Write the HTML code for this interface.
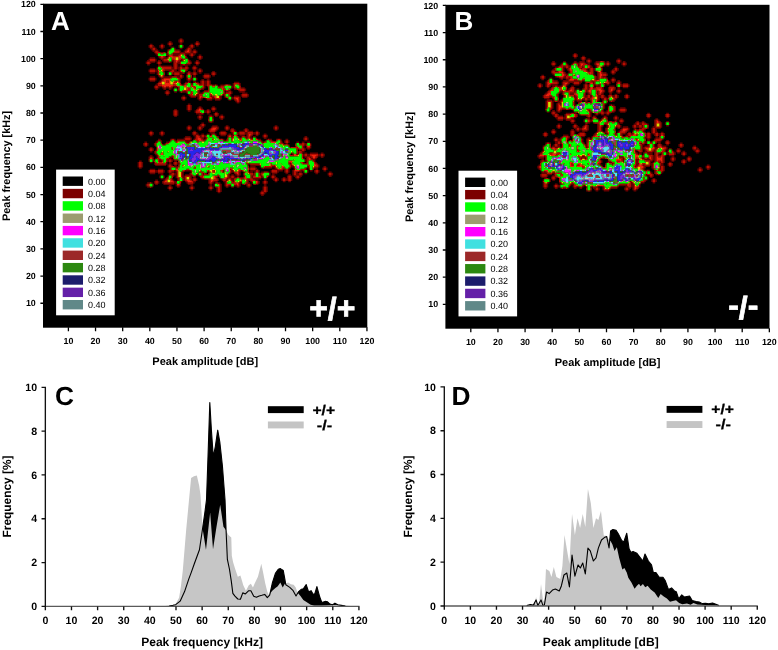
<!DOCTYPE html>
<html><head><meta charset="utf-8"><title>Figure</title>
<style>html,body{margin:0;padding:0;background:#fff}svg{display:block;will-change:transform;text-rendering:geometricPrecision}text{font-family:"Liberation Sans",sans-serif}</style></head><body>
<svg width="778" height="650" viewBox="0 0 778 650">
<defs><filter id="bl" x="-2%" y="-2%" width="104%" height="104%"><feGaussianBlur stdDeviation="0.7"/></filter></defs>
<rect width="778" height="650" fill="#fff"/>
<g>
<rect x="43.0" y="3.7" width="324.30" height="324.00" fill="#000"/>
<g filter="url(#bl)">
<path fill="#640000" d="M261.1 194.5h2.7v1.4h-2.7zM259.7 193.2h1.4v1.4h-1.4zM263.8 193.2h1.4v1.4h-1.4zM217.7 191.8h2.7v1.4h-2.7zM259.7 191.8h1.4v1.4h-1.4zM263.8 191.8h2.7v1.4h-2.7zM216.3 190.5h1.4v1.4h-1.4zM220.4 190.5h1.4v1.4h-1.4zM261.1 190.5h2.7v1.4h-2.7zM266.5 190.5h1.4v1.4h-1.4zM168.8 189.1h2.7v1.4h-2.7zM190.5 189.1h2.7v1.4h-2.7zM209.5 189.1h2.7v1.4h-2.7zM216.3 189.1h1.4v1.4h-1.4zM220.4 189.1h1.4v1.4h-1.4zM262.5 189.1h1.4v1.4h-1.4zM266.5 189.1h1.4v1.4h-1.4zM167.5 187.7h1.4v1.4h-1.4zM171.5 187.7h1.4v1.4h-1.4zM189.2 187.7h1.4v1.4h-1.4zM193.2 187.7h1.4v1.4h-1.4zM208.2 187.7h1.4v1.4h-1.4zM212.2 187.7h1.4v1.4h-1.4zM216.3 187.7h1.4v1.4h-1.4zM220.4 187.7h1.4v1.4h-1.4zM262.5 187.7h1.4v1.4h-1.4zM266.5 187.7h1.4v1.4h-1.4zM147.1 186.4h2.7v1.4h-2.7zM151.2 186.4h1.4v1.4h-1.4zM167.5 186.4h1.4v1.4h-1.4zM171.5 186.4h1.4v1.4h-1.4zM177.0 186.4h2.7v1.4h-2.7zM189.2 186.4h1.4v1.4h-1.4zM193.2 186.4h1.4v1.4h-1.4zM208.2 186.4h1.4v1.4h-1.4zM212.2 186.4h1.4v1.4h-1.4zM215.0 186.4h1.4v1.4h-1.4zM220.4 186.4h1.4v1.4h-1.4zM225.8 186.4h2.7v1.4h-2.7zM231.2 186.4h2.7v1.4h-2.7zM236.7 186.4h2.7v1.4h-2.7zM247.5 186.4h2.7v1.4h-2.7zM262.5 186.4h1.4v1.4h-1.4zM266.5 186.4h1.4v1.4h-1.4zM145.7 185.0h1.4v1.4h-1.4zM152.5 185.0h1.4v1.4h-1.4zM168.8 185.0h2.7v1.4h-2.7zM175.6 185.0h1.4v1.4h-1.4zM179.7 185.0h1.4v1.4h-1.4zM190.5 185.0h2.7v1.4h-2.7zM209.5 185.0h2.7v1.4h-2.7zM213.6 185.0h1.4v1.4h-1.4zM220.4 185.0h1.4v1.4h-1.4zM224.5 185.0h1.4v1.4h-1.4zM228.5 185.0h2.7v1.4h-2.7zM234.0 185.0h2.7v1.4h-2.7zM239.4 185.0h1.4v1.4h-1.4zM246.2 185.0h1.4v1.4h-1.4zM250.2 185.0h1.4v1.4h-1.4zM263.8 185.0h2.7v1.4h-2.7zM145.7 183.7h1.4v1.4h-1.4zM152.5 183.7h1.4v1.4h-1.4zM155.2 183.7h2.7v1.4h-2.7zM163.4 183.7h10.9v1.4h-10.9zM175.6 183.7h1.4v1.4h-1.4zM179.7 183.7h1.4v1.4h-1.4zM187.8 183.7h5.4v1.4h-5.4zM209.5 183.7h2.7v1.4h-2.7zM213.6 183.7h1.4v1.4h-1.4zM220.4 183.7h1.4v1.4h-1.4zM224.5 183.7h1.4v1.4h-1.4zM239.4 183.7h1.4v1.4h-1.4zM242.1 183.7h1.4v1.4h-1.4zM244.8 183.7h2.7v1.4h-2.7zM250.2 183.7h1.4v1.4h-1.4zM253.0 183.7h1.4v1.4h-1.4zM255.7 183.7h2.7v1.4h-2.7zM263.8 183.7h2.7v1.4h-2.7zM147.1 182.3h2.7v1.4h-2.7zM151.2 182.3h1.4v1.4h-1.4zM153.9 182.3h1.4v1.4h-1.4zM158.0 182.3h1.4v1.4h-1.4zM162.0 182.3h1.4v1.4h-1.4zM174.2 182.3h1.4v1.4h-1.4zM186.5 182.3h1.4v1.4h-1.4zM193.2 182.3h1.4v1.4h-1.4zM208.2 182.3h1.4v1.4h-1.4zM212.2 182.3h1.4v1.4h-1.4zM215.0 182.3h1.4v1.4h-1.4zM217.7 182.3h2.7v1.4h-2.7zM224.5 182.3h1.4v1.4h-1.4zM239.4 182.3h2.7v1.4h-2.7zM247.5 182.3h2.7v1.4h-2.7zM251.6 182.3h1.4v1.4h-1.4zM258.4 182.3h1.4v1.4h-1.4zM262.5 182.3h1.4v1.4h-1.4zM266.5 182.3h1.4v1.4h-1.4zM153.9 180.9h1.4v1.4h-1.4zM158.0 180.9h1.4v1.4h-1.4zM162.0 180.9h1.4v1.4h-1.4zM174.2 180.9h2.7v1.4h-2.7zM181.0 180.9h1.4v1.4h-1.4zM185.1 180.9h1.4v1.4h-1.4zM193.2 180.9h2.7v1.4h-2.7zM208.2 180.9h1.4v1.4h-1.4zM213.6 180.9h4.1v1.4h-4.1zM223.1 180.9h2.7v1.4h-2.7zM232.6 180.9h1.4v1.4h-1.4zM247.5 180.9h1.4v1.4h-1.4zM250.2 180.9h1.4v1.4h-1.4zM258.4 180.9h1.4v1.4h-1.4zM262.5 180.9h1.4v1.4h-1.4zM266.5 180.9h1.4v1.4h-1.4zM274.7 180.9h2.7v1.4h-2.7zM282.8 180.9h2.7v1.4h-2.7zM288.2 180.9h2.7v1.4h-2.7zM155.2 179.6h2.7v1.4h-2.7zM163.4 179.6h1.4v1.4h-1.4zM172.9 179.6h1.4v1.4h-1.4zM177.0 179.6h1.4v1.4h-1.4zM182.4 179.6h2.7v1.4h-2.7zM191.9 179.6h1.4v1.4h-1.4zM196.0 179.6h1.4v1.4h-1.4zM208.2 179.6h1.4v1.4h-1.4zM217.7 179.6h1.4v1.4h-1.4zM221.7 179.6h1.4v1.4h-1.4zM225.8 179.6h1.4v1.4h-1.4zM231.2 179.6h2.7v1.4h-2.7zM247.5 179.6h2.7v1.4h-2.7zM255.7 179.6h2.7v1.4h-2.7zM263.8 179.6h2.7v1.4h-2.7zM273.3 179.6h1.4v1.4h-1.4zM277.4 179.6h1.4v1.4h-1.4zM281.4 179.6h1.4v1.4h-1.4zM285.5 179.6h2.7v1.4h-2.7zM290.9 179.6h1.4v1.4h-1.4zM160.7 178.2h2.7v1.4h-2.7zM164.7 178.2h1.4v1.4h-1.4zM171.5 178.2h1.4v1.4h-1.4zM177.0 178.2h1.4v1.4h-1.4zM183.7 178.2h1.4v1.4h-1.4zM190.5 178.2h2.7v1.4h-2.7zM196.0 178.2h1.4v1.4h-1.4zM201.4 178.2h2.7v1.4h-2.7zM217.7 178.2h1.4v1.4h-1.4zM220.4 178.2h1.4v1.4h-1.4zM227.2 178.2h1.4v1.4h-1.4zM231.2 178.2h2.7v1.4h-2.7zM253.0 178.2h8.1v1.4h-8.1zM263.8 178.2h2.7v1.4h-2.7zM271.9 178.2h2.7v1.4h-2.7zM277.4 178.2h1.4v1.4h-1.4zM281.4 178.2h1.4v1.4h-1.4zM285.5 178.2h2.7v1.4h-2.7zM290.9 178.2h1.4v1.4h-1.4zM296.4 178.2h2.7v1.4h-2.7zM159.3 176.9h1.4v1.4h-1.4zM163.4 176.9h1.4v1.4h-1.4zM166.1 176.9h1.4v1.4h-1.4zM175.6 176.9h1.4v1.4h-1.4zM182.4 176.9h2.7v1.4h-2.7zM190.5 176.9h1.4v1.4h-1.4zM193.2 176.9h2.7v1.4h-2.7zM200.0 176.9h1.4v1.4h-1.4zM216.3 176.9h1.4v1.4h-1.4zM219.0 176.9h1.4v1.4h-1.4zM228.5 176.9h2.7v1.4h-2.7zM234.0 176.9h2.7v1.4h-2.7zM239.4 176.9h4.1v1.4h-4.1zM251.6 176.9h1.4v1.4h-1.4zM261.1 176.9h2.7v1.4h-2.7zM266.5 176.9h1.4v1.4h-1.4zM270.6 176.9h1.4v1.4h-1.4zM274.7 176.9h2.7v1.4h-2.7zM282.8 176.9h2.7v1.4h-2.7zM286.9 176.9h1.4v1.4h-1.4zM290.9 176.9h1.4v1.4h-1.4zM295.0 176.9h1.4v1.4h-1.4zM299.1 176.9h1.4v1.4h-1.4zM159.3 175.5h1.4v1.4h-1.4zM163.4 175.5h1.4v1.4h-1.4zM167.5 175.5h1.4v1.4h-1.4zM172.9 175.5h1.4v1.4h-1.4zM175.6 175.5h1.4v1.4h-1.4zM182.4 175.5h2.7v1.4h-2.7zM190.5 175.5h2.7v1.4h-2.7zM194.6 175.5h1.4v1.4h-1.4zM198.7 175.5h1.4v1.4h-1.4zM217.7 175.5h1.4v1.4h-1.4zM228.5 175.5h2.7v1.4h-2.7zM234.0 175.5h1.4v1.4h-1.4zM236.7 175.5h2.7v1.4h-2.7zM243.5 175.5h1.4v1.4h-1.4zM251.6 175.5h1.4v1.4h-1.4zM261.1 175.5h1.4v1.4h-1.4zM267.9 175.5h1.4v1.4h-1.4zM270.6 175.5h1.4v1.4h-1.4zM274.7 175.5h1.4v1.4h-1.4zM286.9 175.5h1.4v1.4h-1.4zM290.9 175.5h1.4v1.4h-1.4zM293.7 175.5h2.7v1.4h-2.7zM299.1 175.5h2.7v1.4h-2.7zM328.9 175.5h2.7v1.4h-2.7zM160.7 174.2h2.7v1.4h-2.7zM168.8 174.2h1.4v1.4h-1.4zM174.2 174.2h2.7v1.4h-2.7zM182.4 174.2h1.4v1.4h-1.4zM185.1 174.2h5.4v1.4h-5.4zM196.0 174.2h2.7v1.4h-2.7zM202.7 174.2h1.4v1.4h-1.4zM228.5 174.2h1.4v1.4h-1.4zM231.2 174.2h2.7v1.4h-2.7zM235.3 174.2h1.4v1.4h-1.4zM239.4 174.2h1.4v1.4h-1.4zM253.0 174.2h1.4v1.4h-1.4zM259.7 174.2h1.4v1.4h-1.4zM269.2 174.2h1.4v1.4h-1.4zM271.9 174.2h2.7v1.4h-2.7zM288.2 174.2h2.7v1.4h-2.7zM292.3 174.2h1.4v1.4h-1.4zM296.4 174.2h2.7v1.4h-2.7zM301.8 174.2h1.4v1.4h-1.4zM327.6 174.2h1.4v1.4h-1.4zM331.7 174.2h1.4v1.4h-1.4zM149.8 172.8h5.4v1.4h-5.4zM158.0 172.8h5.4v1.4h-5.4zM168.8 172.8h2.7v1.4h-2.7zM174.2 172.8h2.7v1.4h-2.7zM182.4 172.8h1.4v1.4h-1.4zM189.2 172.8h1.4v1.4h-1.4zM202.7 172.8h1.4v1.4h-1.4zM205.5 172.8h1.4v1.4h-1.4zM229.9 172.8h1.4v1.4h-1.4zM234.0 172.8h1.4v1.4h-1.4zM239.4 172.8h1.4v1.4h-1.4zM253.0 172.8h1.4v1.4h-1.4zM259.7 172.8h1.4v1.4h-1.4zM269.2 172.8h1.4v1.4h-1.4zM271.9 172.8h5.4v1.4h-5.4zM285.5 172.8h2.7v1.4h-2.7zM292.3 172.8h1.4v1.4h-1.4zM296.4 172.8h2.7v1.4h-2.7zM301.8 172.8h1.4v1.4h-1.4zM304.5 172.8h2.7v1.4h-2.7zM315.4 172.8h2.7v1.4h-2.7zM327.6 172.8h1.4v1.4h-1.4zM331.7 172.8h1.4v1.4h-1.4zM148.5 171.4h1.4v1.4h-1.4zM155.2 171.4h2.7v1.4h-2.7zM163.4 171.4h1.4v1.4h-1.4zM167.5 171.4h1.4v1.4h-1.4zM171.5 171.4h2.7v1.4h-2.7zM175.6 171.4h1.4v1.4h-1.4zM182.4 171.4h1.4v1.4h-1.4zM190.5 171.4h1.4v1.4h-1.4zM206.8 171.4h2.7v1.4h-2.7zM223.1 171.4h1.4v1.4h-1.4zM231.2 171.4h2.7v1.4h-2.7zM239.4 171.4h1.4v1.4h-1.4zM243.5 171.4h1.4v1.4h-1.4zM248.9 171.4h4.1v1.4h-4.1zM254.3 171.4h1.4v1.4h-1.4zM258.4 171.4h1.4v1.4h-1.4zM261.1 171.4h2.7v1.4h-2.7zM267.9 171.4h1.4v1.4h-1.4zM270.6 171.4h1.4v1.4h-1.4zM277.4 171.4h1.4v1.4h-1.4zM284.2 171.4h1.4v1.4h-1.4zM288.2 171.4h1.4v1.4h-1.4zM292.3 171.4h1.4v1.4h-1.4zM296.4 171.4h1.4v1.4h-1.4zM299.1 171.4h2.7v1.4h-2.7zM303.2 171.4h1.4v1.4h-1.4zM307.2 171.4h1.4v1.4h-1.4zM314.0 171.4h1.4v1.4h-1.4zM318.1 171.4h1.4v1.4h-1.4zM328.9 171.4h2.7v1.4h-2.7zM148.5 170.1h1.4v1.4h-1.4zM155.2 170.1h2.7v1.4h-2.7zM163.4 170.1h1.4v1.4h-1.4zM167.5 170.1h1.4v1.4h-1.4zM174.2 170.1h1.4v1.4h-1.4zM185.1 170.1h5.4v1.4h-5.4zM223.1 170.1h1.4v1.4h-1.4zM231.2 170.1h1.4v1.4h-1.4zM240.7 170.1h1.4v1.4h-1.4zM250.2 170.1h5.4v1.4h-5.4zM258.4 170.1h1.4v1.4h-1.4zM270.6 170.1h1.4v1.4h-1.4zM277.4 170.1h5.4v1.4h-5.4zM284.2 170.1h1.4v1.4h-1.4zM288.2 170.1h1.4v1.4h-1.4zM292.3 170.1h1.4v1.4h-1.4zM300.4 170.1h2.7v1.4h-2.7zM307.2 170.1h1.4v1.4h-1.4zM309.9 170.1h2.7v1.4h-2.7zM314.0 170.1h1.4v1.4h-1.4zM318.1 170.1h1.4v1.4h-1.4zM323.5 170.1h2.7v1.4h-2.7zM149.8 168.7h5.4v1.4h-5.4zM158.0 168.7h5.4v1.4h-5.4zM168.8 168.7h1.4v1.4h-1.4zM229.9 168.7h1.4v1.4h-1.4zM248.9 168.7h1.4v1.4h-1.4zM255.7 168.7h2.7v1.4h-2.7zM271.9 168.7h5.4v1.4h-5.4zM282.8 168.7h2.7v1.4h-2.7zM288.2 168.7h1.4v1.4h-1.4zM293.7 168.7h1.4v1.4h-1.4zM305.9 168.7h1.4v1.4h-1.4zM308.6 168.7h1.4v1.4h-1.4zM312.7 168.7h1.4v1.4h-1.4zM315.4 168.7h2.7v1.4h-2.7zM322.2 168.7h1.4v1.4h-1.4zM326.2 168.7h1.4v1.4h-1.4zM139.0 167.4h2.7v1.4h-2.7zM168.8 167.4h1.4v1.4h-1.4zM248.9 167.4h1.4v1.4h-1.4zM255.7 167.4h1.4v1.4h-1.4zM261.1 167.4h1.4v1.4h-1.4zM263.8 167.4h8.1v1.4h-8.1zM274.7 167.4h1.4v1.4h-1.4zM289.6 167.4h1.4v1.4h-1.4zM293.7 167.4h1.4v1.4h-1.4zM305.9 167.4h1.4v1.4h-1.4zM314.0 167.4h4.1v1.4h-4.1zM322.2 167.4h1.4v1.4h-1.4zM326.2 167.4h1.4v1.4h-1.4zM137.6 166.0h1.4v1.4h-1.4zM141.7 166.0h1.4v1.4h-1.4zM167.5 166.0h1.4v1.4h-1.4zM174.2 166.0h4.1v1.4h-4.1zM250.2 166.0h5.4v1.4h-5.4zM259.7 166.0h1.4v1.4h-1.4zM271.9 166.0h2.7v1.4h-2.7zM290.9 166.0h2.7v1.4h-2.7zM307.2 166.0h1.4v1.4h-1.4zM318.1 166.0h1.4v1.4h-1.4zM323.5 166.0h2.7v1.4h-2.7zM137.6 164.6h1.4v1.4h-1.4zM141.7 164.6h1.4v1.4h-1.4zM155.2 164.6h10.9v1.4h-10.9zM167.5 164.6h1.4v1.4h-1.4zM171.5 164.6h1.4v1.4h-1.4zM174.2 164.6h2.7v1.4h-2.7zM247.5 164.6h1.4v1.4h-1.4zM250.2 164.6h9.5v1.4h-9.5zM290.9 164.6h1.4v1.4h-1.4zM318.1 164.6h1.4v1.4h-1.4zM137.6 163.3h1.4v1.4h-1.4zM141.7 163.3h1.4v1.4h-1.4zM153.9 163.3h1.4v1.4h-1.4zM166.1 163.3h1.4v1.4h-1.4zM168.8 163.3h2.7v1.4h-2.7zM172.9 163.3h1.4v1.4h-1.4zM177.0 163.3h2.7v1.4h-2.7zM247.5 163.3h2.7v1.4h-2.7zM289.6 163.3h1.4v1.4h-1.4zM316.7 163.3h1.4v1.4h-1.4zM137.6 161.9h1.4v1.4h-1.4zM141.7 161.9h1.4v1.4h-1.4zM149.8 161.9h2.7v1.4h-2.7zM153.9 161.9h1.4v1.4h-1.4zM166.1 161.9h1.4v1.4h-1.4zM168.8 161.9h2.7v1.4h-2.7zM172.9 161.9h1.4v1.4h-1.4zM177.0 161.9h1.4v1.4h-1.4zM303.2 161.9h1.4v1.4h-1.4zM305.9 161.9h1.4v1.4h-1.4zM315.4 161.9h1.4v1.4h-1.4zM139.0 160.6h2.7v1.4h-2.7zM148.5 160.6h1.4v1.4h-1.4zM152.5 160.6h1.4v1.4h-1.4zM159.3 160.6h2.7v1.4h-2.7zM167.5 160.6h1.4v1.4h-1.4zM171.5 160.6h1.4v1.4h-1.4zM174.2 160.6h2.7v1.4h-2.7zM304.5 160.6h2.7v1.4h-2.7zM314.0 160.6h1.4v1.4h-1.4zM153.9 159.2h1.4v1.4h-1.4zM159.3 159.2h1.4v1.4h-1.4zM167.5 159.2h1.4v1.4h-1.4zM171.5 159.2h2.7v1.4h-2.7zM304.5 159.2h2.7v1.4h-2.7zM312.7 159.2h2.7v1.4h-2.7zM148.5 157.9h1.4v1.4h-1.4zM152.5 157.9h1.4v1.4h-1.4zM155.2 157.9h1.4v1.4h-1.4zM168.8 157.9h2.7v1.4h-2.7zM303.2 157.9h1.4v1.4h-1.4zM305.9 157.9h1.4v1.4h-1.4zM311.3 157.9h1.4v1.4h-1.4zM315.4 157.9h1.4v1.4h-1.4zM148.5 156.5h1.4v1.4h-1.4zM152.5 156.5h1.4v1.4h-1.4zM156.6 156.5h1.4v1.4h-1.4zM170.2 156.5h2.7v1.4h-2.7zM304.5 156.5h2.7v1.4h-2.7zM309.9 156.5h1.4v1.4h-1.4zM316.7 156.5h1.4v1.4h-1.4zM320.8 156.5h2.7v1.4h-2.7zM149.8 155.1h2.7v1.4h-2.7zM156.6 155.1h1.4v1.4h-1.4zM303.2 155.1h1.4v1.4h-1.4zM307.2 155.1h2.7v1.4h-2.7zM318.1 155.1h2.7v1.4h-2.7zM323.5 155.1h1.4v1.4h-1.4zM155.2 153.8h1.4v1.4h-1.4zM289.6 153.8h1.4v1.4h-1.4zM292.3 153.8h1.4v1.4h-1.4zM296.4 153.8h1.4v1.4h-1.4zM303.2 153.8h1.4v1.4h-1.4zM307.2 153.8h2.7v1.4h-2.7zM318.1 153.8h2.7v1.4h-2.7zM323.5 153.8h1.4v1.4h-1.4zM153.9 152.4h1.4v1.4h-1.4zM290.9 152.4h1.4v1.4h-1.4zM297.7 152.4h1.4v1.4h-1.4zM301.8 152.4h1.4v1.4h-1.4zM304.5 152.4h2.7v1.4h-2.7zM309.9 152.4h8.1v1.4h-8.1zM320.8 152.4h2.7v1.4h-2.7zM149.8 151.1h2.7v1.4h-2.7zM153.9 151.1h1.4v1.4h-1.4zM297.7 151.1h1.4v1.4h-1.4zM301.8 151.1h2.7v1.4h-2.7zM148.5 149.7h1.4v1.4h-1.4zM152.5 149.7h1.4v1.4h-1.4zM155.2 149.7h1.4v1.4h-1.4zM299.1 149.7h2.7v1.4h-2.7zM304.5 149.7h1.4v1.4h-1.4zM148.5 148.3h1.4v1.4h-1.4zM152.5 148.3h1.4v1.4h-1.4zM297.7 148.3h1.4v1.4h-1.4zM304.5 148.3h1.4v1.4h-1.4zM307.2 148.3h2.7v1.4h-2.7zM149.8 147.0h2.7v1.4h-2.7zM289.6 147.0h1.4v1.4h-1.4zM303.2 147.0h1.4v1.4h-1.4zM305.9 147.0h1.4v1.4h-1.4zM309.9 147.0h1.4v1.4h-1.4zM144.4 145.6h2.7v1.4h-2.7zM155.2 145.6h1.4v1.4h-1.4zM295.0 145.6h1.4v1.4h-1.4zM303.2 145.6h1.4v1.4h-1.4zM305.9 145.6h1.4v1.4h-1.4zM309.9 145.6h1.4v1.4h-1.4zM143.0 144.3h1.4v1.4h-1.4zM147.1 144.3h1.4v1.4h-1.4zM153.9 144.3h1.4v1.4h-1.4zM163.4 144.3h1.4v1.4h-1.4zM288.2 144.3h1.4v1.4h-1.4zM304.5 144.3h1.4v1.4h-1.4zM143.0 142.9h1.4v1.4h-1.4zM147.1 142.9h1.4v1.4h-1.4zM153.9 142.9h1.4v1.4h-1.4zM164.7 142.9h1.4v1.4h-1.4zM282.8 142.9h1.4v1.4h-1.4zM285.5 142.9h2.7v1.4h-2.7zM295.0 142.9h1.4v1.4h-1.4zM299.1 142.9h2.7v1.4h-2.7zM304.5 142.9h2.7v1.4h-2.7zM309.9 142.9h1.4v1.4h-1.4zM144.4 141.5h2.7v1.4h-2.7zM155.2 141.5h1.4v1.4h-1.4zM160.7 141.5h1.4v1.4h-1.4zM166.1 141.5h2.7v1.4h-2.7zM186.5 141.5h2.7v1.4h-2.7zM262.5 141.5h1.4v1.4h-1.4zM281.4 141.5h1.4v1.4h-1.4zM284.2 141.5h1.4v1.4h-1.4zM288.2 141.5h1.4v1.4h-1.4zM296.4 141.5h2.7v1.4h-2.7zM301.8 141.5h2.7v1.4h-2.7zM307.2 141.5h2.7v1.4h-2.7zM156.6 140.2h1.4v1.4h-1.4zM160.7 140.2h1.4v1.4h-1.4zM175.6 140.2h1.4v1.4h-1.4zM185.1 140.2h5.4v1.4h-5.4zM191.9 140.2h1.4v1.4h-1.4zM224.5 140.2h1.4v1.4h-1.4zM261.1 140.2h1.4v1.4h-1.4zM265.2 140.2h1.4v1.4h-1.4zM271.9 140.2h1.4v1.4h-1.4zM284.2 140.2h1.4v1.4h-1.4zM288.2 140.2h1.4v1.4h-1.4zM304.5 140.2h2.7v1.4h-2.7zM158.0 138.8h2.7v1.4h-2.7zM170.2 138.8h1.4v1.4h-1.4zM174.2 138.8h1.4v1.4h-1.4zM177.0 138.8h8.1v1.4h-8.1zM190.5 138.8h1.4v1.4h-1.4zM193.2 138.8h1.4v1.4h-1.4zM202.7 138.8h2.7v1.4h-2.7zM223.1 138.8h1.4v1.4h-1.4zM225.8 138.8h1.4v1.4h-1.4zM258.4 138.8h2.7v1.4h-2.7zM266.5 138.8h1.4v1.4h-1.4zM269.2 138.8h2.7v1.4h-2.7zM276.0 138.8h1.4v1.4h-1.4zM280.1 138.8h1.4v1.4h-1.4zM285.5 138.8h2.7v1.4h-2.7zM303.2 138.8h1.4v1.4h-1.4zM307.2 138.8h1.4v1.4h-1.4zM183.7 137.5h1.4v1.4h-1.4zM190.5 137.5h1.4v1.4h-1.4zM194.6 137.5h1.4v1.4h-1.4zM201.4 137.5h2.7v1.4h-2.7zM205.5 137.5h1.4v1.4h-1.4zM239.4 137.5h1.4v1.4h-1.4zM246.2 137.5h1.4v1.4h-1.4zM250.2 137.5h2.7v1.4h-2.7zM255.7 137.5h1.4v1.4h-1.4zM263.8 137.5h2.7v1.4h-2.7zM303.2 137.5h1.4v1.4h-1.4zM307.2 137.5h1.4v1.4h-1.4zM185.1 136.1h5.4v1.4h-5.4zM194.6 136.1h1.4v1.4h-1.4zM200.0 136.1h1.4v1.4h-1.4zM204.1 136.1h1.4v1.4h-1.4zM217.7 136.1h1.4v1.4h-1.4zM227.2 136.1h1.4v1.4h-1.4zM231.2 136.1h1.4v1.4h-1.4zM238.0 136.1h1.4v1.4h-1.4zM240.7 136.1h1.4v1.4h-1.4zM244.8 136.1h2.7v1.4h-2.7zM250.2 136.1h1.4v1.4h-1.4zM253.0 136.1h2.7v1.4h-2.7zM262.5 136.1h1.4v1.4h-1.4zM266.5 136.1h1.4v1.4h-1.4zM304.5 136.1h2.7v1.4h-2.7zM149.8 134.8h2.7v1.4h-2.7zM160.7 134.8h2.7v1.4h-2.7zM193.2 134.8h2.7v1.4h-2.7zM198.7 134.8h2.7v1.4h-2.7zM204.1 134.8h2.7v1.4h-2.7zM209.5 134.8h1.4v1.4h-1.4zM220.4 134.8h5.4v1.4h-5.4zM227.2 134.8h1.4v1.4h-1.4zM231.2 134.8h2.7v1.4h-2.7zM236.7 134.8h1.4v1.4h-1.4zM239.4 134.8h5.4v1.4h-5.4zM246.2 134.8h1.4v1.4h-1.4zM251.6 134.8h1.4v1.4h-1.4zM255.7 134.8h2.7v1.4h-2.7zM262.5 134.8h1.4v1.4h-1.4zM266.5 134.8h1.4v1.4h-1.4zM148.5 133.4h1.4v1.4h-1.4zM152.5 133.4h1.4v1.4h-1.4zM159.3 133.4h1.4v1.4h-1.4zM163.4 133.4h1.4v1.4h-1.4zM191.9 133.4h1.4v1.4h-1.4zM196.0 133.4h2.7v1.4h-2.7zM201.4 133.4h2.7v1.4h-2.7zM206.8 133.4h2.7v1.4h-2.7zM210.9 133.4h1.4v1.4h-1.4zM215.0 133.4h1.4v1.4h-1.4zM219.0 133.4h1.4v1.4h-1.4zM225.8 133.4h1.4v1.4h-1.4zM228.5 133.4h2.7v1.4h-2.7zM238.0 133.4h1.4v1.4h-1.4zM244.8 133.4h2.7v1.4h-2.7zM253.0 133.4h2.7v1.4h-2.7zM258.4 133.4h1.4v1.4h-1.4zM263.8 133.4h2.7v1.4h-2.7zM148.5 132.0h1.4v1.4h-1.4zM152.5 132.0h1.4v1.4h-1.4zM159.3 132.0h1.4v1.4h-1.4zM163.4 132.0h1.4v1.4h-1.4zM191.9 132.0h1.4v1.4h-1.4zM196.0 132.0h1.4v1.4h-1.4zM209.5 132.0h5.4v1.4h-5.4zM219.0 132.0h1.4v1.4h-1.4zM225.8 132.0h1.4v1.4h-1.4zM231.2 132.0h1.4v1.4h-1.4zM236.7 132.0h2.7v1.4h-2.7zM244.8 132.0h2.7v1.4h-2.7zM253.0 132.0h2.7v1.4h-2.7zM258.4 132.0h1.4v1.4h-1.4zM149.8 130.7h2.7v1.4h-2.7zM160.7 130.7h2.7v1.4h-2.7zM193.2 130.7h2.7v1.4h-2.7zM208.2 130.7h1.4v1.4h-1.4zM215.0 130.7h1.4v1.4h-1.4zM220.4 130.7h5.4v1.4h-5.4zM229.9 130.7h1.4v1.4h-1.4zM235.3 130.7h1.4v1.4h-1.4zM239.4 130.7h5.4v1.4h-5.4zM247.5 130.7h5.4v1.4h-5.4zM255.7 130.7h2.7v1.4h-2.7zM187.8 129.3h2.7v1.4h-2.7zM198.7 129.3h2.7v1.4h-2.7zM208.2 129.3h1.4v1.4h-1.4zM216.3 129.3h1.4v1.4h-1.4zM225.8 129.3h2.7v1.4h-2.7zM229.9 129.3h1.4v1.4h-1.4zM234.0 129.3h1.4v1.4h-1.4zM243.5 129.3h1.4v1.4h-1.4zM247.5 129.3h1.4v1.4h-1.4zM274.7 129.3h2.7v1.4h-2.7zM186.5 128.0h1.4v1.4h-1.4zM190.5 128.0h1.4v1.4h-1.4zM197.3 128.0h1.4v1.4h-1.4zM201.4 128.0h1.4v1.4h-1.4zM209.5 128.0h1.4v1.4h-1.4zM217.7 128.0h1.4v1.4h-1.4zM224.5 128.0h1.4v1.4h-1.4zM228.5 128.0h1.4v1.4h-1.4zM231.2 128.0h2.7v1.4h-2.7zM244.8 128.0h2.7v1.4h-2.7zM273.3 128.0h1.4v1.4h-1.4zM277.4 128.0h1.4v1.4h-1.4zM186.5 126.6h1.4v1.4h-1.4zM190.5 126.6h1.4v1.4h-1.4zM197.3 126.6h1.4v1.4h-1.4zM201.4 126.6h2.7v1.4h-2.7zM210.9 126.6h1.4v1.4h-1.4zM217.7 126.6h1.4v1.4h-1.4zM224.5 126.6h1.4v1.4h-1.4zM228.5 126.6h1.4v1.4h-1.4zM273.3 126.6h1.4v1.4h-1.4zM277.4 126.6h1.4v1.4h-1.4zM187.8 125.2h2.7v1.4h-2.7zM198.7 125.2h2.7v1.4h-2.7zM204.1 125.2h1.4v1.4h-1.4zM212.2 125.2h5.4v1.4h-5.4zM225.8 125.2h2.7v1.4h-2.7zM274.7 125.2h2.7v1.4h-2.7zM200.0 123.9h1.4v1.4h-1.4zM204.1 123.9h1.4v1.4h-1.4zM201.4 122.5h2.7v1.4h-2.7zM208.2 121.2h1.4v1.4h-1.4zM212.2 121.2h1.4v1.4h-1.4zM198.7 118.5h2.7v1.4h-2.7zM220.4 118.5h2.7v1.4h-2.7zM197.3 117.1h1.4v1.4h-1.4zM201.4 117.1h1.4v1.4h-1.4zM208.2 117.1h1.4v1.4h-1.4zM212.2 117.1h1.4v1.4h-1.4zM219.0 117.1h1.4v1.4h-1.4zM223.1 117.1h1.4v1.4h-1.4zM174.2 115.7h2.7v1.4h-2.7zM197.3 115.7h1.4v1.4h-1.4zM201.4 115.7h1.4v1.4h-1.4zM208.2 115.7h1.4v1.4h-1.4zM212.2 115.7h1.4v1.4h-1.4zM215.0 115.7h2.7v1.4h-2.7zM219.0 115.7h1.4v1.4h-1.4zM223.1 115.7h1.4v1.4h-1.4zM172.9 114.4h1.4v1.4h-1.4zM177.0 114.4h1.4v1.4h-1.4zM198.7 114.4h2.7v1.4h-2.7zM209.5 114.4h2.7v1.4h-2.7zM213.6 114.4h1.4v1.4h-1.4zM217.7 114.4h1.4v1.4h-1.4zM220.4 114.4h2.7v1.4h-2.7zM172.9 113.0h1.4v1.4h-1.4zM177.0 113.0h1.4v1.4h-1.4zM196.0 113.0h5.4v1.4h-5.4zM202.7 113.0h1.4v1.4h-1.4zM206.8 113.0h2.7v1.4h-2.7zM213.6 113.0h1.4v1.4h-1.4zM217.7 113.0h1.4v1.4h-1.4zM172.9 111.7h1.4v1.4h-1.4zM177.0 111.7h1.4v1.4h-1.4zM194.6 111.7h1.4v1.4h-1.4zM204.1 111.7h2.7v1.4h-2.7zM209.5 111.7h1.4v1.4h-1.4zM215.0 111.7h2.7v1.4h-2.7zM172.9 110.3h1.4v1.4h-1.4zM177.0 110.3h1.4v1.4h-1.4zM187.8 110.3h2.7v1.4h-2.7zM194.6 110.3h1.4v1.4h-1.4zM204.1 110.3h2.7v1.4h-2.7zM209.5 110.3h1.4v1.4h-1.4zM212.2 110.3h2.7v1.4h-2.7zM174.2 108.9h2.7v1.4h-2.7zM186.5 108.9h1.4v1.4h-1.4zM190.5 108.9h1.4v1.4h-1.4zM196.0 108.9h1.4v1.4h-1.4zM202.7 108.9h1.4v1.4h-1.4zM206.8 108.9h2.7v1.4h-2.7zM210.9 108.9h1.4v1.4h-1.4zM215.0 108.9h1.4v1.4h-1.4zM186.5 107.6h1.4v1.4h-1.4zM190.5 107.6h1.4v1.4h-1.4zM197.3 107.6h1.4v1.4h-1.4zM201.4 107.6h1.4v1.4h-1.4zM210.9 107.6h1.4v1.4h-1.4zM215.0 107.6h1.4v1.4h-1.4zM186.5 106.2h1.4v1.4h-1.4zM190.5 106.2h1.4v1.4h-1.4zM198.7 106.2h2.7v1.4h-2.7zM212.2 106.2h2.7v1.4h-2.7zM186.5 104.9h1.4v1.4h-1.4zM190.5 104.9h1.4v1.4h-1.4zM187.8 103.5h2.7v1.4h-2.7zM236.7 102.1h2.7v1.4h-2.7zM235.3 100.8h1.4v1.4h-1.4zM239.4 100.8h1.4v1.4h-1.4zM182.4 99.4h2.7v1.4h-2.7zM198.7 99.4h2.7v1.4h-2.7zM206.8 99.4h5.4v1.4h-5.4zM215.0 99.4h5.4v1.4h-5.4zM228.5 99.4h2.7v1.4h-2.7zM234.0 99.4h1.4v1.4h-1.4zM239.4 99.4h1.4v1.4h-1.4zM181.0 98.1h1.4v1.4h-1.4zM185.1 98.1h1.4v1.4h-1.4zM197.3 98.1h1.4v1.4h-1.4zM201.4 98.1h1.4v1.4h-1.4zM205.5 98.1h1.4v1.4h-1.4zM212.2 98.1h2.7v1.4h-2.7zM220.4 98.1h1.4v1.4h-1.4zM227.2 98.1h1.4v1.4h-1.4zM231.2 98.1h2.7v1.4h-2.7zM239.4 98.1h1.4v1.4h-1.4zM181.0 96.7h1.4v1.4h-1.4zM185.1 96.7h1.4v1.4h-1.4zM190.5 96.7h5.4v1.4h-5.4zM197.3 96.7h1.4v1.4h-1.4zM212.2 96.7h1.4v1.4h-1.4zM220.4 96.7h1.4v1.4h-1.4zM224.5 96.7h1.4v1.4h-1.4zM231.2 96.7h2.7v1.4h-2.7zM239.4 96.7h1.4v1.4h-1.4zM242.1 96.7h5.4v1.4h-5.4zM182.4 95.4h2.7v1.4h-2.7zM189.2 95.4h1.4v1.4h-1.4zM196.0 95.4h2.7v1.4h-2.7zM210.9 95.4h1.4v1.4h-1.4zM220.4 95.4h1.4v1.4h-1.4zM229.9 95.4h1.4v1.4h-1.4zM234.0 95.4h5.4v1.4h-5.4zM240.7 95.4h1.4v1.4h-1.4zM247.5 95.4h1.4v1.4h-1.4zM166.1 94.0h2.7v1.4h-2.7zM187.8 94.0h1.4v1.4h-1.4zM197.3 94.0h1.4v1.4h-1.4zM223.1 94.0h1.4v1.4h-1.4zM229.9 94.0h1.4v1.4h-1.4zM240.7 94.0h1.4v1.4h-1.4zM247.5 94.0h1.4v1.4h-1.4zM164.7 92.6h1.4v1.4h-1.4zM168.8 92.6h1.4v1.4h-1.4zM186.5 92.6h1.4v1.4h-1.4zM198.7 92.6h4.1v1.4h-4.1zM224.5 92.6h1.4v1.4h-1.4zM231.2 92.6h1.4v1.4h-1.4zM242.1 92.6h5.4v1.4h-5.4zM164.7 91.3h1.4v1.4h-1.4zM168.8 91.3h1.4v1.4h-1.4zM174.2 91.3h2.7v1.4h-2.7zM179.7 91.3h1.4v1.4h-1.4zM182.4 91.3h4.1v1.4h-4.1zM198.7 91.3h1.4v1.4h-1.4zM202.7 91.3h1.4v1.4h-1.4zM225.8 91.3h2.7v1.4h-2.7zM231.2 91.3h1.4v1.4h-1.4zM239.4 91.3h5.4v1.4h-5.4zM166.1 89.9h2.7v1.4h-2.7zM172.9 89.9h1.4v1.4h-1.4zM177.0 89.9h2.7v1.4h-2.7zM198.7 89.9h1.4v1.4h-1.4zM204.1 89.9h4.1v1.4h-4.1zM224.5 89.9h1.4v1.4h-1.4zM228.5 89.9h2.7v1.4h-2.7zM238.0 89.9h1.4v1.4h-1.4zM244.8 89.9h1.4v1.4h-1.4zM155.2 88.6h2.7v1.4h-2.7zM163.4 88.6h2.7v1.4h-2.7zM168.8 88.6h2.7v1.4h-2.7zM172.9 88.6h1.4v1.4h-1.4zM177.0 88.6h1.4v1.4h-1.4zM201.4 88.6h2.7v1.4h-2.7zM229.9 88.6h1.4v1.4h-1.4zM234.0 88.6h2.7v1.4h-2.7zM244.8 88.6h1.4v1.4h-1.4zM153.9 87.2h1.4v1.4h-1.4zM158.0 87.2h1.4v1.4h-1.4zM162.0 87.2h1.4v1.4h-1.4zM166.1 87.2h2.7v1.4h-2.7zM171.5 87.2h1.4v1.4h-1.4zM174.2 87.2h2.7v1.4h-2.7zM204.1 87.2h1.4v1.4h-1.4zM231.2 87.2h2.7v1.4h-2.7zM240.7 87.2h4.1v1.4h-4.1zM153.9 85.8h1.4v1.4h-1.4zM158.0 85.8h4.1v1.4h-4.1zM172.9 85.8h4.1v1.4h-4.1zM204.1 85.8h1.4v1.4h-1.4zM206.8 85.8h1.4v1.4h-1.4zM217.7 85.8h2.7v1.4h-2.7zM231.2 85.8h2.7v1.4h-2.7zM155.2 84.5h2.7v1.4h-2.7zM182.4 84.5h1.4v1.4h-1.4zM204.1 84.5h2.7v1.4h-2.7zM212.2 84.5h2.7v1.4h-2.7zM216.3 84.5h1.4v1.4h-1.4zM220.4 84.5h4.1v1.4h-4.1zM229.9 84.5h1.4v1.4h-1.4zM232.6 84.5h1.4v1.4h-1.4zM239.4 84.5h1.4v1.4h-1.4zM156.6 83.1h1.4v1.4h-1.4zM183.7 83.1h1.4v1.4h-1.4zM190.5 83.1h2.7v1.4h-2.7zM198.7 83.1h2.7v1.4h-2.7zM204.1 83.1h2.7v1.4h-2.7zM209.5 83.1h1.4v1.4h-1.4zM232.6 83.1h1.4v1.4h-1.4zM239.4 83.1h1.4v1.4h-1.4zM158.0 81.8h1.4v1.4h-1.4zM179.7 81.8h1.4v1.4h-1.4zM185.1 81.8h2.7v1.4h-2.7zM189.2 81.8h1.4v1.4h-1.4zM193.2 81.8h1.4v1.4h-1.4zM196.0 81.8h2.7v1.4h-2.7zM200.0 81.8h1.4v1.4h-1.4zM204.1 81.8h2.7v1.4h-2.7zM209.5 81.8h1.4v1.4h-1.4zM234.0 81.8h5.4v1.4h-5.4zM149.8 80.4h5.4v1.4h-5.4zM159.3 80.4h1.4v1.4h-1.4zM179.7 80.4h1.4v1.4h-1.4zM187.8 80.4h2.7v1.4h-2.7zM193.2 80.4h2.7v1.4h-2.7zM200.0 80.4h1.4v1.4h-1.4zM204.1 80.4h2.7v1.4h-2.7zM209.5 80.4h1.4v1.4h-1.4zM148.5 79.0h1.4v1.4h-1.4zM155.2 79.0h1.4v1.4h-1.4zM160.7 79.0h1.4v1.4h-1.4zM179.7 79.0h1.4v1.4h-1.4zM186.5 79.0h1.4v1.4h-1.4zM190.5 79.0h2.7v1.4h-2.7zM196.0 79.0h1.4v1.4h-1.4zM201.4 79.0h2.7v1.4h-2.7zM206.8 79.0h2.7v1.4h-2.7zM148.5 77.7h1.4v1.4h-1.4zM155.2 77.7h1.4v1.4h-1.4zM160.7 77.7h2.7v1.4h-2.7zM179.7 77.7h2.7v1.4h-2.7zM186.5 77.7h1.4v1.4h-1.4zM190.5 77.7h2.7v1.4h-2.7zM196.0 77.7h1.4v1.4h-1.4zM204.1 77.7h5.4v1.4h-5.4zM149.8 76.3h5.4v1.4h-5.4zM159.3 76.3h1.4v1.4h-1.4zM163.4 76.3h8.1v1.4h-8.1zM177.0 76.3h2.7v1.4h-2.7zM182.4 76.3h1.4v1.4h-1.4zM193.2 76.3h2.7v1.4h-2.7zM202.7 76.3h1.4v1.4h-1.4zM209.5 76.3h1.4v1.4h-1.4zM158.0 75.0h1.4v1.4h-1.4zM163.4 75.0h1.4v1.4h-1.4zM168.8 75.0h2.7v1.4h-2.7zM174.2 75.0h5.4v1.4h-5.4zM182.4 75.0h1.4v1.4h-1.4zM193.2 75.0h2.7v1.4h-2.7zM202.7 75.0h1.4v1.4h-1.4zM209.5 75.0h1.4v1.4h-1.4zM212.2 75.0h2.7v1.4h-2.7zM156.6 73.6h1.4v1.4h-1.4zM167.5 73.6h1.4v1.4h-1.4zM171.5 73.6h2.7v1.4h-2.7zM179.7 73.6h2.7v1.4h-2.7zM186.5 73.6h1.4v1.4h-1.4zM190.5 73.6h2.7v1.4h-2.7zM196.0 73.6h1.4v1.4h-1.4zM204.1 73.6h5.4v1.4h-5.4zM210.9 73.6h1.4v1.4h-1.4zM215.0 73.6h1.4v1.4h-1.4zM149.8 72.3h5.4v1.4h-5.4zM156.6 72.3h1.4v1.4h-1.4zM167.5 72.3h1.4v1.4h-1.4zM172.9 72.3h1.4v1.4h-1.4zM179.7 72.3h2.7v1.4h-2.7zM183.7 72.3h1.4v1.4h-1.4zM186.5 72.3h1.4v1.4h-1.4zM190.5 72.3h2.7v1.4h-2.7zM196.0 72.3h1.4v1.4h-1.4zM198.7 72.3h2.7v1.4h-2.7zM210.9 72.3h1.4v1.4h-1.4zM215.0 72.3h1.4v1.4h-1.4zM148.5 70.9h1.4v1.4h-1.4zM155.2 70.9h2.7v1.4h-2.7zM163.4 70.9h1.4v1.4h-1.4zM168.8 70.9h1.4v1.4h-1.4zM174.2 70.9h5.4v1.4h-5.4zM185.1 70.9h1.4v1.4h-1.4zM187.8 70.9h2.7v1.4h-2.7zM193.2 70.9h2.7v1.4h-2.7zM197.3 70.9h1.4v1.4h-1.4zM201.4 70.9h1.4v1.4h-1.4zM212.2 70.9h2.7v1.4h-2.7zM148.5 69.5h1.4v1.4h-1.4zM155.2 69.5h2.7v1.4h-2.7zM164.7 69.5h6.8v1.4h-6.8zM174.2 69.5h2.7v1.4h-2.7zM178.3 69.5h1.4v1.4h-1.4zM186.5 69.5h1.4v1.4h-1.4zM193.2 69.5h2.7v1.4h-2.7zM197.3 69.5h1.4v1.4h-1.4zM201.4 69.5h1.4v1.4h-1.4zM149.8 68.2h5.4v1.4h-5.4zM171.5 68.2h2.7v1.4h-2.7zM177.0 68.2h2.7v1.4h-2.7zM187.8 68.2h1.4v1.4h-1.4zM191.9 68.2h1.4v1.4h-1.4zM196.0 68.2h1.4v1.4h-1.4zM198.7 68.2h2.7v1.4h-2.7zM156.6 66.8h1.4v1.4h-1.4zM171.5 66.8h2.7v1.4h-2.7zM177.0 66.8h2.7v1.4h-2.7zM182.4 66.8h2.7v1.4h-2.7zM187.8 66.8h1.4v1.4h-1.4zM191.9 66.8h1.4v1.4h-1.4zM196.0 66.8h1.4v1.4h-1.4zM158.0 65.5h1.4v1.4h-1.4zM160.7 65.5h10.9v1.4h-10.9zM172.9 65.5h1.4v1.4h-1.4zM177.0 65.5h1.4v1.4h-1.4zM179.7 65.5h2.7v1.4h-2.7zM185.1 65.5h2.7v1.4h-2.7zM193.2 65.5h2.7v1.4h-2.7zM147.1 64.1h2.7v1.4h-2.7zM158.0 64.1h2.7v1.4h-2.7zM172.9 64.1h1.4v1.4h-1.4zM177.0 64.1h1.4v1.4h-1.4zM179.7 64.1h2.7v1.4h-2.7zM185.1 64.1h5.4v1.4h-5.4zM196.0 64.1h2.7v1.4h-2.7zM145.7 62.7h1.4v1.4h-1.4zM149.8 62.7h1.4v1.4h-1.4zM156.6 62.7h1.4v1.4h-1.4zM160.7 62.7h1.4v1.4h-1.4zM172.9 62.7h1.4v1.4h-1.4zM177.0 62.7h2.7v1.4h-2.7zM190.5 62.7h1.4v1.4h-1.4zM194.6 62.7h1.4v1.4h-1.4zM198.7 62.7h1.4v1.4h-1.4zM145.7 61.4h1.4v1.4h-1.4zM149.8 61.4h5.4v1.4h-5.4zM156.6 61.4h1.4v1.4h-1.4zM160.7 61.4h1.4v1.4h-1.4zM163.4 61.4h5.4v1.4h-5.4zM170.2 61.4h1.4v1.4h-1.4zM172.9 61.4h1.4v1.4h-1.4zM178.3 61.4h1.4v1.4h-1.4zM190.5 61.4h1.4v1.4h-1.4zM194.6 61.4h1.4v1.4h-1.4zM198.7 61.4h1.4v1.4h-1.4zM147.1 60.0h2.7v1.4h-2.7zM155.2 60.0h1.4v1.4h-1.4zM158.0 60.0h2.7v1.4h-2.7zM162.0 60.0h1.4v1.4h-1.4zM171.5 60.0h2.7v1.4h-2.7zM179.7 60.0h2.7v1.4h-2.7zM189.2 60.0h1.4v1.4h-1.4zM196.0 60.0h2.7v1.4h-2.7zM148.5 58.7h1.4v1.4h-1.4zM155.2 58.7h1.4v1.4h-1.4zM160.7 58.7h2.7v1.4h-2.7zM181.0 58.7h1.4v1.4h-1.4zM187.8 58.7h1.4v1.4h-1.4zM198.7 58.7h2.7v1.4h-2.7zM149.8 57.3h5.4v1.4h-5.4zM159.3 57.3h1.4v1.4h-1.4zM163.4 57.3h4.1v1.4h-4.1zM186.5 57.3h1.4v1.4h-1.4zM197.3 57.3h1.4v1.4h-1.4zM201.4 57.3h1.4v1.4h-1.4zM158.0 56.0h1.4v1.4h-1.4zM164.7 56.0h1.4v1.4h-1.4zM167.5 56.0h1.4v1.4h-1.4zM190.5 56.0h2.7v1.4h-2.7zM197.3 56.0h1.4v1.4h-1.4zM201.4 56.0h1.4v1.4h-1.4zM156.6 54.6h1.4v1.4h-1.4zM166.1 54.6h2.7v1.4h-2.7zM172.9 54.6h5.4v1.4h-5.4zM185.1 54.6h1.4v1.4h-1.4zM189.2 54.6h1.4v1.4h-1.4zM193.2 54.6h1.4v1.4h-1.4zM198.7 54.6h2.7v1.4h-2.7zM155.2 53.2h1.4v1.4h-1.4zM166.1 53.2h1.4v1.4h-1.4zM172.9 53.2h6.8v1.4h-6.8zM185.1 53.2h5.4v1.4h-5.4zM193.2 53.2h2.7v1.4h-2.7zM153.9 51.9h1.4v1.4h-1.4zM160.7 51.9h2.7v1.4h-2.7zM164.7 51.9h1.4v1.4h-1.4zM179.7 51.9h5.4v1.4h-5.4zM190.5 51.9h2.7v1.4h-2.7zM196.0 51.9h1.4v1.4h-1.4zM152.5 50.5h2.7v1.4h-2.7zM158.0 50.5h1.4v1.4h-1.4zM179.7 50.5h1.4v1.4h-1.4zM183.7 50.5h1.4v1.4h-1.4zM190.5 50.5h2.7v1.4h-2.7zM196.0 50.5h1.4v1.4h-1.4zM151.2 49.2h1.4v1.4h-1.4zM155.2 49.2h2.7v1.4h-2.7zM167.5 49.2h1.4v1.4h-1.4zM175.6 49.2h4.1v1.4h-4.1zM185.1 49.2h1.4v1.4h-1.4zM190.5 49.2h1.4v1.4h-1.4zM193.2 49.2h2.7v1.4h-2.7zM149.8 47.8h2.7v1.4h-2.7zM155.2 47.8h1.4v1.4h-1.4zM160.7 47.8h2.7v1.4h-2.7zM170.2 47.8h1.4v1.4h-1.4zM174.2 47.8h1.4v1.4h-1.4zM179.7 47.8h2.7v1.4h-2.7zM186.5 47.8h1.4v1.4h-1.4zM190.5 47.8h2.7v1.4h-2.7zM148.5 46.4h1.4v1.4h-1.4zM152.5 46.4h2.7v1.4h-2.7zM159.3 46.4h1.4v1.4h-1.4zM163.4 46.4h1.4v1.4h-1.4zM171.5 46.4h2.7v1.4h-2.7zM178.3 46.4h1.4v1.4h-1.4zM182.4 46.4h1.4v1.4h-1.4zM187.8 46.4h2.7v1.4h-2.7zM193.2 46.4h1.4v1.4h-1.4zM148.5 45.1h1.4v1.4h-1.4zM152.5 45.1h1.4v1.4h-1.4zM159.3 45.1h1.4v1.4h-1.4zM163.4 45.1h1.4v1.4h-1.4zM168.8 45.1h2.7v1.4h-2.7zM178.3 45.1h1.4v1.4h-1.4zM182.4 45.1h1.4v1.4h-1.4zM189.2 45.1h1.4v1.4h-1.4zM193.2 45.1h1.4v1.4h-1.4zM196.0 45.1h2.7v1.4h-2.7zM149.8 43.7h2.7v1.4h-2.7zM160.7 43.7h2.7v1.4h-2.7zM167.5 43.7h1.4v1.4h-1.4zM171.5 43.7h1.4v1.4h-1.4zM179.7 43.7h2.7v1.4h-2.7zM190.5 43.7h2.7v1.4h-2.7zM194.6 43.7h1.4v1.4h-1.4zM198.7 43.7h1.4v1.4h-1.4zM167.5 42.4h1.4v1.4h-1.4zM171.5 42.4h1.4v1.4h-1.4zM179.7 42.4h2.7v1.4h-2.7zM194.6 42.4h1.4v1.4h-1.4zM198.7 42.4h1.4v1.4h-1.4zM168.8 41.0h2.7v1.4h-2.7zM178.3 41.0h1.4v1.4h-1.4zM182.4 41.0h1.4v1.4h-1.4zM196.0 41.0h2.7v1.4h-2.7zM178.3 39.6h1.4v1.4h-1.4zM182.4 39.6h1.4v1.4h-1.4zM179.7 38.3h2.7v1.4h-2.7z"/>
<path fill="#b80e06" d="M261.1 193.2h2.7v1.4h-2.7zM261.1 191.8h2.7v1.4h-2.7zM217.7 190.5h2.7v1.4h-2.7zM263.8 190.5h2.7v1.4h-2.7zM217.7 189.1h2.7v1.4h-2.7zM263.8 189.1h2.7v1.4h-2.7zM168.8 187.7h2.7v1.4h-2.7zM190.5 187.7h2.7v1.4h-2.7zM209.5 187.7h2.7v1.4h-2.7zM217.7 187.7h2.7v1.4h-2.7zM263.8 187.7h2.7v1.4h-2.7zM149.8 186.4h1.4v1.4h-1.4zM168.8 186.4h2.7v1.4h-2.7zM190.5 186.4h2.7v1.4h-2.7zM209.5 186.4h2.7v1.4h-2.7zM216.3 186.4h1.4v1.4h-1.4zM219.0 186.4h1.4v1.4h-1.4zM263.8 186.4h2.7v1.4h-2.7zM147.1 185.0h1.4v1.4h-1.4zM177.0 185.0h2.7v1.4h-2.7zM219.0 185.0h1.4v1.4h-1.4zM225.8 185.0h2.7v1.4h-2.7zM236.7 185.0h2.7v1.4h-2.7zM247.5 185.0h2.7v1.4h-2.7zM147.1 183.7h1.4v1.4h-1.4zM219.0 183.7h1.4v1.4h-1.4zM225.8 183.7h1.4v1.4h-1.4zM228.5 183.7h2.7v1.4h-2.7zM234.0 183.7h2.7v1.4h-2.7zM238.0 183.7h1.4v1.4h-1.4zM243.5 183.7h1.4v1.4h-1.4zM247.5 183.7h2.7v1.4h-2.7zM254.3 183.7h1.4v1.4h-1.4zM149.8 182.3h1.4v1.4h-1.4zM155.2 182.3h2.7v1.4h-2.7zM163.4 182.3h10.9v1.4h-10.9zM175.6 182.3h1.4v1.4h-1.4zM179.7 182.3h1.4v1.4h-1.4zM187.8 182.3h5.4v1.4h-5.4zM209.5 182.3h2.7v1.4h-2.7zM216.3 182.3h1.4v1.4h-1.4zM225.8 182.3h1.4v1.4h-1.4zM231.2 182.3h4.1v1.4h-4.1zM238.0 182.3h1.4v1.4h-1.4zM246.2 182.3h1.4v1.4h-1.4zM257.0 182.3h1.4v1.4h-1.4zM263.8 182.3h2.7v1.4h-2.7zM155.2 180.9h2.7v1.4h-2.7zM163.4 180.9h1.4v1.4h-1.4zM172.9 180.9h1.4v1.4h-1.4zM179.7 180.9h1.4v1.4h-1.4zM186.5 180.9h1.4v1.4h-1.4zM191.9 180.9h1.4v1.4h-1.4zM209.5 180.9h1.4v1.4h-1.4zM212.2 180.9h1.4v1.4h-1.4zM225.8 180.9h1.4v1.4h-1.4zM231.2 180.9h1.4v1.4h-1.4zM234.0 180.9h1.4v1.4h-1.4zM239.4 180.9h2.7v1.4h-2.7zM246.2 180.9h1.4v1.4h-1.4zM251.6 180.9h1.4v1.4h-1.4zM257.0 180.9h1.4v1.4h-1.4zM263.8 180.9h2.7v1.4h-2.7zM164.7 179.6h1.4v1.4h-1.4zM171.5 179.6h1.4v1.4h-1.4zM178.3 179.6h1.4v1.4h-1.4zM185.1 179.6h1.4v1.4h-1.4zM190.5 179.6h1.4v1.4h-1.4zM193.2 179.6h2.7v1.4h-2.7zM209.5 179.6h1.4v1.4h-1.4zM213.6 179.6h4.1v1.4h-4.1zM223.1 179.6h2.7v1.4h-2.7zM227.2 179.6h1.4v1.4h-1.4zM234.0 179.6h1.4v1.4h-1.4zM246.2 179.6h1.4v1.4h-1.4zM250.2 179.6h5.4v1.4h-5.4zM274.7 179.6h2.7v1.4h-2.7zM282.8 179.6h2.7v1.4h-2.7zM288.2 179.6h2.7v1.4h-2.7zM166.1 178.2h1.4v1.4h-1.4zM178.3 178.2h1.4v1.4h-1.4zM182.4 178.2h1.4v1.4h-1.4zM185.1 178.2h1.4v1.4h-1.4zM189.2 178.2h1.4v1.4h-1.4zM193.2 178.2h2.7v1.4h-2.7zM204.1 178.2h5.4v1.4h-5.4zM216.3 178.2h1.4v1.4h-1.4zM221.7 178.2h1.4v1.4h-1.4zM225.8 178.2h1.4v1.4h-1.4zM228.5 178.2h2.7v1.4h-2.7zM234.0 178.2h1.4v1.4h-1.4zM240.7 178.2h2.7v1.4h-2.7zM247.5 178.2h5.4v1.4h-5.4zM274.7 178.2h2.7v1.4h-2.7zM282.8 178.2h2.7v1.4h-2.7zM288.2 178.2h2.7v1.4h-2.7zM167.5 176.9h1.4v1.4h-1.4zM171.5 176.9h1.4v1.4h-1.4zM177.0 176.9h1.4v1.4h-1.4zM185.1 176.9h1.4v1.4h-1.4zM189.2 176.9h1.4v1.4h-1.4zM201.4 176.9h1.4v1.4h-1.4zM215.0 176.9h1.4v1.4h-1.4zM227.2 176.9h1.4v1.4h-1.4zM231.2 176.9h2.7v1.4h-2.7zM236.7 176.9h2.7v1.4h-2.7zM243.5 176.9h1.4v1.4h-1.4zM250.2 176.9h1.4v1.4h-1.4zM253.0 176.9h8.1v1.4h-8.1zM271.9 176.9h2.7v1.4h-2.7zM288.2 176.9h2.7v1.4h-2.7zM296.4 176.9h2.7v1.4h-2.7zM171.5 175.5h1.4v1.4h-1.4zM177.0 175.5h1.4v1.4h-1.4zM181.0 175.5h1.4v1.4h-1.4zM185.1 175.5h5.4v1.4h-5.4zM193.2 175.5h1.4v1.4h-1.4zM200.0 175.5h2.7v1.4h-2.7zM215.0 175.5h2.7v1.4h-2.7zM219.0 175.5h1.4v1.4h-1.4zM227.2 175.5h1.4v1.4h-1.4zM231.2 175.5h2.7v1.4h-2.7zM250.2 175.5h1.4v1.4h-1.4zM253.0 175.5h1.4v1.4h-1.4zM259.7 175.5h1.4v1.4h-1.4zM262.5 175.5h1.4v1.4h-1.4zM271.9 175.5h2.7v1.4h-2.7zM288.2 175.5h2.7v1.4h-2.7zM296.4 175.5h2.7v1.4h-2.7zM170.2 174.2h4.1v1.4h-4.1zM177.0 174.2h1.4v1.4h-1.4zM181.0 174.2h1.4v1.4h-1.4zM190.5 174.2h1.4v1.4h-1.4zM201.4 174.2h1.4v1.4h-1.4zM204.1 174.2h4.1v1.4h-4.1zM227.2 174.2h1.4v1.4h-1.4zM236.7 174.2h2.7v1.4h-2.7zM243.5 174.2h1.4v1.4h-1.4zM251.6 174.2h1.4v1.4h-1.4zM254.3 174.2h1.4v1.4h-1.4zM258.4 174.2h1.4v1.4h-1.4zM261.1 174.2h1.4v1.4h-1.4zM293.7 174.2h2.7v1.4h-2.7zM299.1 174.2h2.7v1.4h-2.7zM328.9 174.2h2.7v1.4h-2.7zM171.5 172.8h2.7v1.4h-2.7zM177.0 172.8h1.4v1.4h-1.4zM181.0 172.8h1.4v1.4h-1.4zM190.5 172.8h1.4v1.4h-1.4zM197.3 172.8h1.4v1.4h-1.4zM201.4 172.8h1.4v1.4h-1.4zM204.1 172.8h1.4v1.4h-1.4zM208.2 172.8h1.4v1.4h-1.4zM228.5 172.8h1.4v1.4h-1.4zM235.3 172.8h1.4v1.4h-1.4zM238.0 172.8h1.4v1.4h-1.4zM243.5 172.8h1.4v1.4h-1.4zM248.9 172.8h4.1v1.4h-4.1zM254.3 172.8h1.4v1.4h-1.4zM258.4 172.8h1.4v1.4h-1.4zM261.1 172.8h1.4v1.4h-1.4zM293.7 172.8h2.7v1.4h-2.7zM299.1 172.8h2.7v1.4h-2.7zM328.9 172.8h2.7v1.4h-2.7zM149.8 171.4h5.4v1.4h-5.4zM158.0 171.4h5.4v1.4h-5.4zM168.8 171.4h2.7v1.4h-2.7zM177.0 171.4h1.4v1.4h-1.4zM181.0 171.4h1.4v1.4h-1.4zM198.7 171.4h4.1v1.4h-4.1zM212.2 171.4h2.7v1.4h-2.7zM221.7 171.4h1.4v1.4h-1.4zM229.9 171.4h1.4v1.4h-1.4zM234.0 171.4h1.4v1.4h-1.4zM238.0 171.4h1.4v1.4h-1.4zM247.5 171.4h1.4v1.4h-1.4zM263.8 171.4h4.1v1.4h-4.1zM271.9 171.4h5.4v1.4h-5.4zM285.5 171.4h2.7v1.4h-2.7zM293.7 171.4h2.7v1.4h-2.7zM315.4 171.4h2.7v1.4h-2.7zM149.8 170.1h5.4v1.4h-5.4zM158.0 170.1h5.4v1.4h-5.4zM168.8 170.1h5.4v1.4h-5.4zM175.6 170.1h1.4v1.4h-1.4zM183.7 170.1h1.4v1.4h-1.4zM190.5 170.1h1.4v1.4h-1.4zM208.2 170.1h1.4v1.4h-1.4zM212.2 170.1h2.7v1.4h-2.7zM221.7 170.1h1.4v1.4h-1.4zM229.9 170.1h1.4v1.4h-1.4zM232.6 170.1h1.4v1.4h-1.4zM239.4 170.1h1.4v1.4h-1.4zM242.1 170.1h1.4v1.4h-1.4zM247.5 170.1h1.4v1.4h-1.4zM255.7 170.1h2.7v1.4h-2.7zM271.9 170.1h5.4v1.4h-5.4zM285.5 170.1h2.7v1.4h-2.7zM293.7 170.1h1.4v1.4h-1.4zM299.1 170.1h1.4v1.4h-1.4zM303.2 170.1h1.4v1.4h-1.4zM315.4 170.1h2.7v1.4h-2.7zM170.2 168.7h1.4v1.4h-1.4zM186.5 168.7h2.7v1.4h-2.7zM231.2 168.7h1.4v1.4h-1.4zM250.2 168.7h5.4v1.4h-5.4zM277.4 168.7h5.4v1.4h-5.4zM285.5 168.7h2.7v1.4h-2.7zM300.4 168.7h5.4v1.4h-5.4zM323.5 168.7h2.7v1.4h-2.7zM170.2 167.4h1.4v1.4h-1.4zM175.6 167.4h2.7v1.4h-2.7zM194.6 167.4h1.4v1.4h-1.4zM250.2 167.4h5.4v1.4h-5.4zM262.5 167.4h1.4v1.4h-1.4zM276.0 167.4h1.4v1.4h-1.4zM282.8 167.4h2.7v1.4h-2.7zM288.2 167.4h1.4v1.4h-1.4zM304.5 167.4h1.4v1.4h-1.4zM308.6 167.4h1.4v1.4h-1.4zM312.7 167.4h1.4v1.4h-1.4zM323.5 167.4h2.7v1.4h-2.7zM139.0 166.0h2.7v1.4h-2.7zM168.8 166.0h5.4v1.4h-5.4zM178.3 166.0h1.4v1.4h-1.4zM247.5 166.0h1.4v1.4h-1.4zM265.2 166.0h6.8v1.4h-6.8zM274.7 166.0h1.4v1.4h-1.4zM289.6 166.0h1.4v1.4h-1.4zM293.7 166.0h1.4v1.4h-1.4zM308.6 166.0h1.4v1.4h-1.4zM314.0 166.0h4.1v1.4h-4.1zM139.0 164.6h2.7v1.4h-2.7zM168.8 164.6h2.7v1.4h-2.7zM178.3 164.6h1.4v1.4h-1.4zM259.7 164.6h1.4v1.4h-1.4zM270.6 164.6h4.1v1.4h-4.1zM289.6 164.6h1.4v1.4h-1.4zM292.3 164.6h1.4v1.4h-1.4zM307.2 164.6h2.7v1.4h-2.7zM316.7 164.6h1.4v1.4h-1.4zM139.0 163.3h2.7v1.4h-2.7zM155.2 163.3h10.9v1.4h-10.9zM174.2 163.3h2.7v1.4h-2.7zM246.2 163.3h1.4v1.4h-1.4zM250.2 163.3h9.5v1.4h-9.5zM270.6 163.3h1.4v1.4h-1.4zM288.2 163.3h1.4v1.4h-1.4zM290.9 163.3h1.4v1.4h-1.4zM303.2 163.3h5.4v1.4h-5.4zM315.4 163.3h1.4v1.4h-1.4zM139.0 161.9h2.7v1.4h-2.7zM159.3 161.9h2.7v1.4h-2.7zM174.2 161.9h2.7v1.4h-2.7zM178.3 161.9h1.4v1.4h-1.4zM288.2 161.9h2.7v1.4h-2.7zM301.8 161.9h1.4v1.4h-1.4zM307.2 161.9h1.4v1.4h-1.4zM314.0 161.9h1.4v1.4h-1.4zM153.9 160.6h1.4v1.4h-1.4zM158.0 160.6h1.4v1.4h-1.4zM162.0 160.6h1.4v1.4h-1.4zM166.1 160.6h1.4v1.4h-1.4zM168.8 160.6h2.7v1.4h-2.7zM307.2 160.6h1.4v1.4h-1.4zM312.7 160.6h1.4v1.4h-1.4zM148.5 159.2h1.4v1.4h-1.4zM152.5 159.2h1.4v1.4h-1.4zM158.0 159.2h1.4v1.4h-1.4zM160.7 159.2h1.4v1.4h-1.4zM166.1 159.2h1.4v1.4h-1.4zM168.8 159.2h2.7v1.4h-2.7zM174.2 159.2h4.1v1.4h-4.1zM307.2 159.2h1.4v1.4h-1.4zM311.3 159.2h1.4v1.4h-1.4zM156.6 157.9h2.7v1.4h-2.7zM167.5 157.9h1.4v1.4h-1.4zM172.9 157.9h1.4v1.4h-1.4zM307.2 157.9h1.4v1.4h-1.4zM309.9 157.9h1.4v1.4h-1.4zM312.7 157.9h2.7v1.4h-2.7zM149.8 156.5h2.7v1.4h-2.7zM158.0 156.5h1.4v1.4h-1.4zM168.8 156.5h1.4v1.4h-1.4zM172.9 156.5h1.4v1.4h-1.4zM301.8 156.5h1.4v1.4h-1.4zM307.2 156.5h2.7v1.4h-2.7zM311.3 156.5h1.4v1.4h-1.4zM315.4 156.5h1.4v1.4h-1.4zM158.0 155.1h1.4v1.4h-1.4zM171.5 155.1h1.4v1.4h-1.4zM289.6 155.1h4.1v1.4h-4.1zM301.8 155.1h1.4v1.4h-1.4zM304.5 155.1h2.7v1.4h-2.7zM309.9 155.1h1.4v1.4h-1.4zM316.7 155.1h1.4v1.4h-1.4zM320.8 155.1h2.7v1.4h-2.7zM156.6 153.8h1.4v1.4h-1.4zM297.7 153.8h1.4v1.4h-1.4zM301.8 153.8h1.4v1.4h-1.4zM304.5 153.8h2.7v1.4h-2.7zM309.9 153.8h8.1v1.4h-8.1zM320.8 153.8h2.7v1.4h-2.7zM155.2 152.4h1.4v1.4h-1.4zM292.3 152.4h1.4v1.4h-1.4zM296.4 152.4h1.4v1.4h-1.4zM155.2 151.1h1.4v1.4h-1.4zM296.4 151.1h1.4v1.4h-1.4zM299.1 151.1h2.7v1.4h-2.7zM149.8 149.7h2.7v1.4h-2.7zM296.4 149.7h1.4v1.4h-1.4zM301.8 149.7h2.7v1.4h-2.7zM149.8 148.3h2.7v1.4h-2.7zM171.5 148.3h1.4v1.4h-1.4zM296.4 148.3h1.4v1.4h-1.4zM299.1 148.3h5.4v1.4h-5.4zM290.9 147.0h6.8v1.4h-6.8zM301.8 147.0h1.4v1.4h-1.4zM307.2 147.0h2.7v1.4h-2.7zM288.2 145.6h1.4v1.4h-1.4zM301.8 145.6h1.4v1.4h-1.4zM144.4 144.3h2.7v1.4h-2.7zM155.2 144.3h1.4v1.4h-1.4zM162.0 144.3h1.4v1.4h-1.4zM164.7 144.3h1.4v1.4h-1.4zM282.8 144.3h2.7v1.4h-2.7zM286.9 144.3h1.4v1.4h-1.4zM295.0 144.3h1.4v1.4h-1.4zM300.4 144.3h4.1v1.4h-4.1zM305.9 144.3h1.4v1.4h-1.4zM309.9 144.3h1.4v1.4h-1.4zM144.4 142.9h2.7v1.4h-2.7zM155.2 142.9h1.4v1.4h-1.4zM160.7 142.9h1.4v1.4h-1.4zM166.1 142.9h1.4v1.4h-1.4zM186.5 142.9h2.7v1.4h-2.7zM278.7 142.9h4.1v1.4h-4.1zM301.8 142.9h2.7v1.4h-2.7zM156.6 141.5h1.4v1.4h-1.4zM168.8 141.5h1.4v1.4h-1.4zM175.6 141.5h1.4v1.4h-1.4zM185.1 141.5h1.4v1.4h-1.4zM189.2 141.5h1.4v1.4h-1.4zM261.1 141.5h1.4v1.4h-1.4zM263.8 141.5h1.4v1.4h-1.4zM280.1 141.5h1.4v1.4h-1.4zM285.5 141.5h2.7v1.4h-2.7zM158.0 140.2h2.7v1.4h-2.7zM170.2 140.2h1.4v1.4h-1.4zM174.2 140.2h1.4v1.4h-1.4zM177.0 140.2h8.1v1.4h-8.1zM196.0 140.2h2.7v1.4h-2.7zM202.7 140.2h2.7v1.4h-2.7zM223.1 140.2h1.4v1.4h-1.4zM225.8 140.2h1.4v1.4h-1.4zM259.7 140.2h1.4v1.4h-1.4zM270.6 140.2h1.4v1.4h-1.4zM276.0 140.2h1.4v1.4h-1.4zM280.1 140.2h1.4v1.4h-1.4zM285.5 140.2h2.7v1.4h-2.7zM171.5 138.8h2.7v1.4h-2.7zM185.1 138.8h5.4v1.4h-5.4zM194.6 138.8h2.7v1.4h-2.7zM201.4 138.8h1.4v1.4h-1.4zM205.5 138.8h1.4v1.4h-1.4zM212.2 138.8h1.4v1.4h-1.4zM219.0 138.8h1.4v1.4h-1.4zM221.7 138.8h1.4v1.4h-1.4zM227.2 138.8h1.4v1.4h-1.4zM231.2 138.8h1.4v1.4h-1.4zM239.4 138.8h1.4v1.4h-1.4zM250.2 138.8h2.7v1.4h-2.7zM257.0 138.8h1.4v1.4h-1.4zM267.9 138.8h1.4v1.4h-1.4zM277.4 138.8h2.7v1.4h-2.7zM304.5 138.8h2.7v1.4h-2.7zM185.1 137.5h5.4v1.4h-5.4zM196.0 137.5h1.4v1.4h-1.4zM200.0 137.5h1.4v1.4h-1.4zM217.7 137.5h1.4v1.4h-1.4zM227.2 137.5h1.4v1.4h-1.4zM231.2 137.5h1.4v1.4h-1.4zM238.0 137.5h1.4v1.4h-1.4zM240.7 137.5h1.4v1.4h-1.4zM244.8 137.5h1.4v1.4h-1.4zM247.5 137.5h2.7v1.4h-2.7zM304.5 137.5h2.7v1.4h-2.7zM196.0 136.1h1.4v1.4h-1.4zM198.7 136.1h1.4v1.4h-1.4zM201.4 136.1h2.7v1.4h-2.7zM205.5 136.1h1.4v1.4h-1.4zM216.3 136.1h1.4v1.4h-1.4zM232.6 136.1h1.4v1.4h-1.4zM236.7 136.1h1.4v1.4h-1.4zM242.1 136.1h2.7v1.4h-2.7zM247.5 136.1h2.7v1.4h-2.7zM263.8 136.1h2.7v1.4h-2.7zM196.0 134.8h2.7v1.4h-2.7zM201.4 134.8h2.7v1.4h-2.7zM210.9 134.8h1.4v1.4h-1.4zM215.0 134.8h1.4v1.4h-1.4zM228.5 134.8h2.7v1.4h-2.7zM247.5 134.8h1.4v1.4h-1.4zM250.2 134.8h1.4v1.4h-1.4zM263.8 134.8h2.7v1.4h-2.7zM149.8 133.4h2.7v1.4h-2.7zM160.7 133.4h2.7v1.4h-2.7zM193.2 133.4h2.7v1.4h-2.7zM212.2 133.4h2.7v1.4h-2.7zM220.4 133.4h5.4v1.4h-5.4zM232.6 133.4h1.4v1.4h-1.4zM236.7 133.4h1.4v1.4h-1.4zM239.4 133.4h5.4v1.4h-5.4zM247.5 133.4h1.4v1.4h-1.4zM251.6 133.4h1.4v1.4h-1.4zM255.7 133.4h2.7v1.4h-2.7zM149.8 132.0h2.7v1.4h-2.7zM160.7 132.0h2.7v1.4h-2.7zM193.2 132.0h2.7v1.4h-2.7zM220.4 132.0h5.4v1.4h-5.4zM232.6 132.0h1.4v1.4h-1.4zM239.4 132.0h5.4v1.4h-5.4zM247.5 132.0h5.4v1.4h-5.4zM255.7 132.0h2.7v1.4h-2.7zM209.5 130.7h5.4v1.4h-5.4zM231.2 130.7h4.1v1.4h-4.1zM244.8 130.7h2.7v1.4h-2.7zM209.5 129.3h1.4v1.4h-1.4zM215.0 129.3h1.4v1.4h-1.4zM231.2 129.3h2.7v1.4h-2.7zM244.8 129.3h2.7v1.4h-2.7zM187.8 128.0h2.7v1.4h-2.7zM198.7 128.0h2.7v1.4h-2.7zM210.9 128.0h1.4v1.4h-1.4zM216.3 128.0h1.4v1.4h-1.4zM225.8 128.0h2.7v1.4h-2.7zM274.7 128.0h2.7v1.4h-2.7zM187.8 126.6h2.7v1.4h-2.7zM198.7 126.6h2.7v1.4h-2.7zM212.2 126.6h5.4v1.4h-5.4zM225.8 126.6h2.7v1.4h-2.7zM274.7 126.6h2.7v1.4h-2.7zM201.4 125.2h2.7v1.4h-2.7zM201.4 123.9h2.7v1.4h-2.7zM209.5 121.2h2.7v1.4h-2.7zM208.2 119.8h1.4v1.4h-1.4zM212.2 119.8h1.4v1.4h-1.4zM208.2 118.5h1.4v1.4h-1.4zM212.2 118.5h1.4v1.4h-1.4zM198.7 117.1h2.7v1.4h-2.7zM220.4 117.1h2.7v1.4h-2.7zM198.7 115.7h2.7v1.4h-2.7zM209.5 115.7h2.7v1.4h-2.7zM220.4 115.7h2.7v1.4h-2.7zM174.2 114.4h2.7v1.4h-2.7zM215.0 114.4h2.7v1.4h-2.7zM174.2 113.0h2.7v1.4h-2.7zM201.4 113.0h1.4v1.4h-1.4zM215.0 113.0h2.7v1.4h-2.7zM174.2 111.7h2.7v1.4h-2.7zM196.0 111.7h4.1v1.4h-4.1zM206.8 111.7h2.7v1.4h-2.7zM174.2 110.3h2.7v1.4h-2.7zM196.0 110.3h1.4v1.4h-1.4zM206.8 110.3h2.7v1.4h-2.7zM187.8 108.9h2.7v1.4h-2.7zM197.3 108.9h1.4v1.4h-1.4zM201.4 108.9h1.4v1.4h-1.4zM212.2 108.9h2.7v1.4h-2.7zM187.8 107.6h2.7v1.4h-2.7zM198.7 107.6h2.7v1.4h-2.7zM212.2 107.6h2.7v1.4h-2.7zM187.8 106.2h2.7v1.4h-2.7zM187.8 104.9h2.7v1.4h-2.7zM236.7 100.8h2.7v1.4h-2.7zM235.3 99.4h1.4v1.4h-1.4zM238.0 99.4h1.4v1.4h-1.4zM182.4 98.1h2.7v1.4h-2.7zM198.7 98.1h2.7v1.4h-2.7zM206.8 98.1h5.4v1.4h-5.4zM215.0 98.1h5.4v1.4h-5.4zM234.0 98.1h1.4v1.4h-1.4zM238.0 98.1h1.4v1.4h-1.4zM182.4 96.7h2.7v1.4h-2.7zM198.7 96.7h1.4v1.4h-1.4zM201.4 96.7h2.7v1.4h-2.7zM210.9 96.7h1.4v1.4h-1.4zM213.6 96.7h1.4v1.4h-1.4zM219.0 96.7h1.4v1.4h-1.4zM225.8 96.7h1.4v1.4h-1.4zM234.0 96.7h5.4v1.4h-5.4zM190.5 95.4h5.4v1.4h-5.4zM198.7 95.4h1.4v1.4h-1.4zM209.5 95.4h1.4v1.4h-1.4zM212.2 95.4h1.4v1.4h-1.4zM219.0 95.4h1.4v1.4h-1.4zM224.5 95.4h1.4v1.4h-1.4zM242.1 95.4h5.4v1.4h-5.4zM189.2 94.0h2.7v1.4h-2.7zM196.0 94.0h1.4v1.4h-1.4zM198.7 94.0h4.1v1.4h-4.1zM209.5 94.0h2.7v1.4h-2.7zM221.7 94.0h1.4v1.4h-1.4zM224.5 94.0h1.4v1.4h-1.4zM228.5 94.0h1.4v1.4h-1.4zM242.1 94.0h5.4v1.4h-5.4zM166.1 92.6h2.7v1.4h-2.7zM190.5 92.6h2.7v1.4h-2.7zM197.3 92.6h1.4v1.4h-1.4zM202.7 92.6h1.4v1.4h-1.4zM223.1 92.6h1.4v1.4h-1.4zM225.8 92.6h5.4v1.4h-5.4zM166.1 91.3h2.7v1.4h-2.7zM181.0 91.3h1.4v1.4h-1.4zM186.5 91.3h1.4v1.4h-1.4zM190.5 91.3h1.4v1.4h-1.4zM197.3 91.3h1.4v1.4h-1.4zM204.1 91.3h4.1v1.4h-4.1zM228.5 91.3h2.7v1.4h-2.7zM183.7 89.9h6.8v1.4h-6.8zM197.3 89.9h1.4v1.4h-1.4zM208.2 89.9h1.4v1.4h-1.4zM223.1 89.9h1.4v1.4h-1.4zM225.8 89.9h2.7v1.4h-2.7zM239.4 89.9h5.4v1.4h-5.4zM178.3 88.6h1.4v1.4h-1.4zM187.8 88.6h2.7v1.4h-2.7zM198.7 88.6h2.7v1.4h-2.7zM208.2 88.6h1.4v1.4h-1.4zM223.1 88.6h2.7v1.4h-2.7zM236.7 88.6h8.1v1.4h-8.1zM155.2 87.2h2.7v1.4h-2.7zM163.4 87.2h2.7v1.4h-2.7zM168.8 87.2h2.7v1.4h-2.7zM178.3 87.2h1.4v1.4h-1.4zM193.2 87.2h2.7v1.4h-2.7zM202.7 87.2h1.4v1.4h-1.4zM208.2 87.2h1.4v1.4h-1.4zM219.0 87.2h1.4v1.4h-1.4zM234.0 87.2h1.4v1.4h-1.4zM239.4 87.2h1.4v1.4h-1.4zM155.2 85.8h2.7v1.4h-2.7zM162.0 85.8h1.4v1.4h-1.4zM166.1 85.8h2.7v1.4h-2.7zM171.5 85.8h1.4v1.4h-1.4zM177.0 85.8h1.4v1.4h-1.4zM191.9 85.8h2.7v1.4h-2.7zM202.7 85.8h1.4v1.4h-1.4zM208.2 85.8h1.4v1.4h-1.4zM220.4 85.8h4.1v1.4h-4.1zM234.0 85.8h1.4v1.4h-1.4zM239.4 85.8h1.4v1.4h-1.4zM158.0 84.5h4.1v1.4h-4.1zM172.9 84.5h2.7v1.4h-2.7zM181.0 84.5h1.4v1.4h-1.4zM183.7 84.5h1.4v1.4h-1.4zM190.5 84.5h2.7v1.4h-2.7zM198.7 84.5h2.7v1.4h-2.7zM202.7 84.5h1.4v1.4h-1.4zM206.8 84.5h5.4v1.4h-5.4zM215.0 84.5h1.4v1.4h-1.4zM224.5 84.5h1.4v1.4h-1.4zM228.5 84.5h1.4v1.4h-1.4zM234.0 84.5h1.4v1.4h-1.4zM158.0 83.1h1.4v1.4h-1.4zM179.7 83.1h1.4v1.4h-1.4zM185.1 83.1h1.4v1.4h-1.4zM197.3 83.1h1.4v1.4h-1.4zM201.4 83.1h2.7v1.4h-2.7zM206.8 83.1h2.7v1.4h-2.7zM234.0 83.1h5.4v1.4h-5.4zM159.3 81.8h1.4v1.4h-1.4zM166.1 81.8h2.7v1.4h-2.7zM174.2 81.8h2.7v1.4h-2.7zM187.8 81.8h1.4v1.4h-1.4zM194.6 81.8h1.4v1.4h-1.4zM201.4 81.8h2.7v1.4h-2.7zM206.8 81.8h2.7v1.4h-2.7zM160.7 80.4h1.4v1.4h-1.4zM166.1 80.4h2.7v1.4h-2.7zM174.2 80.4h2.7v1.4h-2.7zM178.3 80.4h1.4v1.4h-1.4zM201.4 80.4h2.7v1.4h-2.7zM206.8 80.4h2.7v1.4h-2.7zM149.8 79.0h5.4v1.4h-5.4zM162.0 79.0h1.4v1.4h-1.4zM178.3 79.0h1.4v1.4h-1.4zM187.8 79.0h2.7v1.4h-2.7zM149.8 77.7h5.4v1.4h-5.4zM163.4 77.7h6.8v1.4h-6.8zM178.3 77.7h1.4v1.4h-1.4zM160.7 76.3h2.7v1.4h-2.7zM171.5 76.3h5.4v1.4h-5.4zM179.7 76.3h2.7v1.4h-2.7zM186.5 76.3h1.4v1.4h-1.4zM190.5 76.3h1.4v1.4h-1.4zM204.1 76.3h5.4v1.4h-5.4zM159.3 75.0h1.4v1.4h-1.4zM179.7 75.0h2.7v1.4h-2.7zM186.5 75.0h1.4v1.4h-1.4zM190.5 75.0h1.4v1.4h-1.4zM204.1 75.0h5.4v1.4h-5.4zM158.0 73.6h1.4v1.4h-1.4zM163.4 73.6h1.4v1.4h-1.4zM174.2 73.6h5.4v1.4h-5.4zM193.2 73.6h2.7v1.4h-2.7zM212.2 73.6h2.7v1.4h-2.7zM158.0 72.3h1.4v1.4h-1.4zM163.4 72.3h1.4v1.4h-1.4zM171.5 72.3h1.4v1.4h-1.4zM174.2 72.3h5.4v1.4h-5.4zM182.4 72.3h1.4v1.4h-1.4zM187.8 72.3h2.7v1.4h-2.7zM193.2 72.3h2.7v1.4h-2.7zM212.2 72.3h2.7v1.4h-2.7zM149.8 70.9h5.4v1.4h-5.4zM158.0 70.9h1.4v1.4h-1.4zM170.2 70.9h4.1v1.4h-4.1zM179.7 70.9h1.4v1.4h-1.4zM198.7 70.9h2.7v1.4h-2.7zM149.8 69.5h5.4v1.4h-5.4zM163.4 69.5h1.4v1.4h-1.4zM171.5 69.5h2.7v1.4h-2.7zM179.7 69.5h1.4v1.4h-1.4zM185.1 69.5h1.4v1.4h-1.4zM198.7 69.5h2.7v1.4h-2.7zM156.6 68.2h1.4v1.4h-1.4zM164.7 68.2h6.8v1.4h-6.8zM174.2 68.2h2.7v1.4h-2.7zM179.7 68.2h1.4v1.4h-1.4zM182.4 68.2h5.4v1.4h-5.4zM193.2 68.2h2.7v1.4h-2.7zM162.0 66.8h9.5v1.4h-9.5zM174.2 66.8h2.7v1.4h-2.7zM179.7 66.8h2.7v1.4h-2.7zM185.1 66.8h2.7v1.4h-2.7zM193.2 66.8h2.7v1.4h-2.7zM159.3 65.5h1.4v1.4h-1.4zM174.2 65.5h2.7v1.4h-2.7zM174.2 64.1h2.7v1.4h-2.7zM182.4 64.1h2.7v1.4h-2.7zM147.1 62.7h2.7v1.4h-2.7zM158.0 62.7h2.7v1.4h-2.7zM174.2 62.7h2.7v1.4h-2.7zM179.7 62.7h1.4v1.4h-1.4zM186.5 62.7h4.1v1.4h-4.1zM196.0 62.7h2.7v1.4h-2.7zM147.1 61.4h2.7v1.4h-2.7zM158.0 61.4h2.7v1.4h-2.7zM168.8 61.4h1.4v1.4h-1.4zM174.2 61.4h1.4v1.4h-1.4zM177.0 61.4h1.4v1.4h-1.4zM179.7 61.4h1.4v1.4h-1.4zM189.2 61.4h1.4v1.4h-1.4zM196.0 61.4h2.7v1.4h-2.7zM149.8 60.0h5.4v1.4h-5.4zM163.4 60.0h4.1v1.4h-4.1zM174.2 60.0h1.4v1.4h-1.4zM178.3 60.0h1.4v1.4h-1.4zM182.4 60.0h1.4v1.4h-1.4zM187.8 60.0h1.4v1.4h-1.4zM149.8 58.7h5.4v1.4h-5.4zM163.4 58.7h4.1v1.4h-4.1zM171.5 58.7h2.7v1.4h-2.7zM179.7 58.7h1.4v1.4h-1.4zM182.4 58.7h2.7v1.4h-2.7zM160.7 57.3h2.7v1.4h-2.7zM167.5 57.3h1.4v1.4h-1.4zM185.1 57.3h1.4v1.4h-1.4zM198.7 57.3h2.7v1.4h-2.7zM159.3 56.0h1.4v1.4h-1.4zM163.4 56.0h1.4v1.4h-1.4zM168.8 56.0h1.4v1.4h-1.4zM172.9 56.0h5.4v1.4h-5.4zM185.1 56.0h1.4v1.4h-1.4zM198.7 56.0h2.7v1.4h-2.7zM168.8 54.6h1.4v1.4h-1.4zM171.5 54.6h1.4v1.4h-1.4zM178.3 54.6h1.4v1.4h-1.4zM190.5 54.6h2.7v1.4h-2.7zM156.6 53.2h1.4v1.4h-1.4zM167.5 53.2h1.4v1.4h-1.4zM171.5 53.2h1.4v1.4h-1.4zM179.7 53.2h5.4v1.4h-5.4zM190.5 53.2h2.7v1.4h-2.7zM155.2 51.9h5.4v1.4h-5.4zM163.4 51.9h1.4v1.4h-1.4zM172.9 51.9h6.8v1.4h-6.8zM185.1 51.9h5.4v1.4h-5.4zM193.2 51.9h2.7v1.4h-2.7zM155.2 50.5h2.7v1.4h-2.7zM167.5 50.5h1.4v1.4h-1.4zM175.6 50.5h4.1v1.4h-4.1zM185.1 50.5h1.4v1.4h-1.4zM189.2 50.5h1.4v1.4h-1.4zM193.2 50.5h2.7v1.4h-2.7zM152.5 49.2h2.7v1.4h-2.7zM168.8 49.2h1.4v1.4h-1.4zM174.2 49.2h1.4v1.4h-1.4zM186.5 49.2h1.4v1.4h-1.4zM189.2 49.2h1.4v1.4h-1.4zM152.5 47.8h2.7v1.4h-2.7zM187.8 47.8h2.7v1.4h-2.7zM149.8 46.4h2.7v1.4h-2.7zM160.7 46.4h2.7v1.4h-2.7zM190.5 46.4h2.7v1.4h-2.7zM149.8 45.1h2.7v1.4h-2.7zM160.7 45.1h2.7v1.4h-2.7zM190.5 45.1h2.7v1.4h-2.7zM168.8 43.7h2.7v1.4h-2.7zM196.0 43.7h2.7v1.4h-2.7zM168.8 42.4h2.7v1.4h-2.7zM196.0 42.4h2.7v1.4h-2.7zM179.7 41.0h2.7v1.4h-2.7zM179.7 39.6h2.7v1.4h-2.7z"/>
<path fill="#f02010" d="M217.7 186.4h1.4v1.4h-1.4zM148.5 185.0h1.4v1.4h-1.4zM148.5 183.7h1.4v1.4h-1.4zM177.0 183.7h2.7v1.4h-2.7zM217.7 183.7h1.4v1.4h-1.4zM227.2 183.7h1.4v1.4h-1.4zM236.7 183.7h1.4v1.4h-1.4zM235.3 182.3h2.7v1.4h-2.7zM244.8 182.3h1.4v1.4h-1.4zM255.7 182.3h1.4v1.4h-1.4zM164.7 180.9h2.7v1.4h-2.7zM170.2 180.9h2.7v1.4h-2.7zM187.8 180.9h4.1v1.4h-4.1zM210.9 180.9h1.4v1.4h-1.4zM255.7 180.9h1.4v1.4h-1.4zM166.1 179.6h1.4v1.4h-1.4zM170.2 179.6h1.4v1.4h-1.4zM186.5 179.6h4.1v1.4h-4.1zM210.9 179.6h2.7v1.4h-2.7zM229.9 179.6h1.4v1.4h-1.4zM240.7 179.6h1.4v1.4h-1.4zM167.5 178.2h1.4v1.4h-1.4zM170.2 178.2h1.4v1.4h-1.4zM209.5 178.2h1.4v1.4h-1.4zM213.6 178.2h2.7v1.4h-2.7zM223.1 178.2h2.7v1.4h-2.7zM235.3 178.2h1.4v1.4h-1.4zM239.4 178.2h1.4v1.4h-1.4zM243.5 178.2h4.1v1.4h-4.1zM178.3 176.9h1.4v1.4h-1.4zM181.0 176.9h1.4v1.4h-1.4zM202.7 176.9h1.4v1.4h-1.4zM213.6 176.9h1.4v1.4h-1.4zM224.5 176.9h2.7v1.4h-2.7zM244.8 176.9h1.4v1.4h-1.4zM202.7 175.5h1.4v1.4h-1.4zM213.6 175.5h1.4v1.4h-1.4zM244.8 175.5h1.4v1.4h-1.4zM254.3 175.5h1.4v1.4h-1.4zM258.4 175.5h1.4v1.4h-1.4zM266.5 175.5h1.4v1.4h-1.4zM191.9 174.2h1.4v1.4h-1.4zM208.2 174.2h1.4v1.4h-1.4zM217.7 174.2h1.4v1.4h-1.4zM250.2 174.2h1.4v1.4h-1.4zM236.7 172.8h1.4v1.4h-1.4zM262.5 172.8h1.4v1.4h-1.4zM202.7 171.4h1.4v1.4h-1.4zM209.5 171.4h1.4v1.4h-1.4zM235.3 171.4h2.7v1.4h-2.7zM244.8 171.4h1.4v1.4h-1.4zM255.7 171.4h2.7v1.4h-2.7zM177.0 170.1h1.4v1.4h-1.4zM182.4 170.1h1.4v1.4h-1.4zM200.0 170.1h1.4v1.4h-1.4zM206.8 170.1h1.4v1.4h-1.4zM220.4 170.1h1.4v1.4h-1.4zM238.0 170.1h1.4v1.4h-1.4zM295.0 170.1h4.1v1.4h-4.1zM175.6 168.7h2.7v1.4h-2.7zM223.1 168.7h1.4v1.4h-1.4zM238.0 168.7h2.7v1.4h-2.7zM247.5 168.7h1.4v1.4h-1.4zM295.0 168.7h1.4v1.4h-1.4zM193.2 167.4h1.4v1.4h-1.4zM229.9 167.4h2.7v1.4h-2.7zM247.5 167.4h1.4v1.4h-1.4zM281.4 167.4h1.4v1.4h-1.4zM194.6 166.0h1.4v1.4h-1.4zM208.2 166.0h1.4v1.4h-1.4zM263.8 166.0h1.4v1.4h-1.4zM281.4 166.0h2.7v1.4h-2.7zM182.4 164.6h1.4v1.4h-1.4zM274.7 164.6h1.4v1.4h-1.4zM314.0 164.6h2.7v1.4h-2.7zM179.7 163.3h1.4v1.4h-1.4zM301.8 163.3h1.4v1.4h-1.4zM314.0 163.3h1.4v1.4h-1.4zM155.2 161.9h1.4v1.4h-1.4zM158.0 161.9h1.4v1.4h-1.4zM162.0 161.9h1.4v1.4h-1.4zM164.7 161.9h1.4v1.4h-1.4zM246.2 161.9h1.4v1.4h-1.4zM290.9 161.9h1.4v1.4h-1.4zM300.4 161.9h1.4v1.4h-1.4zM178.3 160.6h1.4v1.4h-1.4zM288.2 160.6h4.1v1.4h-4.1zM162.0 159.2h1.4v1.4h-1.4zM308.6 159.2h2.7v1.4h-2.7zM149.8 157.9h2.7v1.4h-2.7zM159.3 157.9h1.4v1.4h-1.4zM166.1 157.9h1.4v1.4h-1.4zM301.8 157.9h1.4v1.4h-1.4zM308.6 157.9h1.4v1.4h-1.4zM312.7 156.5h2.7v1.4h-2.7zM172.9 155.1h1.4v1.4h-1.4zM293.7 155.1h4.1v1.4h-4.1zM311.3 155.1h5.4v1.4h-5.4zM160.7 153.8h2.7v1.4h-2.7zM293.7 153.8h2.7v1.4h-2.7zM160.7 152.4h2.7v1.4h-2.7zM299.1 152.4h2.7v1.4h-2.7zM156.6 149.7h1.4v1.4h-1.4zM156.6 148.3h1.4v1.4h-1.4zM156.6 147.0h1.4v1.4h-1.4zM171.5 147.0h1.4v1.4h-1.4zM297.7 147.0h1.4v1.4h-1.4zM296.4 145.6h1.4v1.4h-1.4zM307.2 145.6h2.7v1.4h-2.7zM285.5 144.3h1.4v1.4h-1.4zM299.1 144.3h1.4v1.4h-1.4zM167.5 142.9h1.4v1.4h-1.4zM262.5 142.9h1.4v1.4h-1.4zM177.0 141.5h1.4v1.4h-1.4zM197.3 141.5h1.4v1.4h-1.4zM265.2 141.5h1.4v1.4h-1.4zM270.6 141.5h5.4v1.4h-5.4zM198.7 140.2h4.1v1.4h-4.1zM227.2 140.2h1.4v1.4h-1.4zM231.2 140.2h1.4v1.4h-1.4zM240.7 140.2h1.4v1.4h-1.4zM258.4 140.2h1.4v1.4h-1.4zM269.2 140.2h1.4v1.4h-1.4zM197.3 138.8h4.1v1.4h-4.1zM220.4 138.8h1.4v1.4h-1.4zM240.7 138.8h1.4v1.4h-1.4zM246.2 138.8h1.4v1.4h-1.4zM255.7 138.8h1.4v1.4h-1.4zM197.3 137.5h2.7v1.4h-2.7zM206.8 137.5h1.4v1.4h-1.4zM212.2 137.5h1.4v1.4h-1.4zM232.6 137.5h1.4v1.4h-1.4zM197.3 136.1h1.4v1.4h-1.4zM209.5 136.1h2.7v1.4h-2.7zM228.5 136.1h2.7v1.4h-2.7zM234.0 134.8h2.7v1.4h-2.7zM248.9 134.8h1.4v1.4h-1.4zM248.9 133.4h2.7v1.4h-2.7zM210.9 129.3h4.1v1.4h-4.1zM212.2 128.0h4.1v1.4h-4.1zM200.0 111.7h1.4v1.4h-1.4zM197.3 110.3h2.7v1.4h-2.7zM198.7 108.9h2.7v1.4h-2.7zM236.7 99.4h1.4v1.4h-1.4zM235.3 98.1h2.7v1.4h-2.7zM200.0 96.7h1.4v1.4h-1.4zM204.1 96.7h1.4v1.4h-1.4zM209.5 96.7h1.4v1.4h-1.4zM215.0 96.7h1.4v1.4h-1.4zM227.2 96.7h1.4v1.4h-1.4zM200.0 95.4h2.7v1.4h-2.7zM213.6 95.4h2.7v1.4h-2.7zM228.5 95.4h1.4v1.4h-1.4zM191.9 94.0h1.4v1.4h-1.4zM209.5 92.6h1.4v1.4h-1.4zM191.9 91.3h1.4v1.4h-1.4zM208.2 91.3h1.4v1.4h-1.4zM223.1 91.3h1.4v1.4h-1.4zM182.4 89.9h1.4v1.4h-1.4zM186.5 88.6h1.4v1.4h-1.4zM194.6 88.6h1.4v1.4h-1.4zM221.7 88.6h1.4v1.4h-1.4zM228.5 88.6h1.4v1.4h-1.4zM186.5 87.2h4.1v1.4h-4.1zM201.4 87.2h1.4v1.4h-1.4zM217.7 87.2h1.4v1.4h-1.4zM220.4 87.2h4.1v1.4h-4.1zM235.3 87.2h1.4v1.4h-1.4zM163.4 85.8h2.7v1.4h-2.7zM168.8 85.8h2.7v1.4h-2.7zM178.3 85.8h1.4v1.4h-1.4zM183.7 85.8h2.7v1.4h-2.7zM190.5 85.8h1.4v1.4h-1.4zM194.6 85.8h1.4v1.4h-1.4zM212.2 85.8h2.7v1.4h-2.7zM162.0 84.5h10.9v1.4h-10.9zM175.6 84.5h1.4v1.4h-1.4zM179.7 84.5h1.4v1.4h-1.4zM185.1 84.5h1.4v1.4h-1.4zM201.4 84.5h1.4v1.4h-1.4zM225.8 84.5h2.7v1.4h-2.7zM238.0 84.5h1.4v1.4h-1.4zM159.3 83.1h2.7v1.4h-2.7zM164.7 83.1h5.4v1.4h-5.4zM172.9 83.1h2.7v1.4h-2.7zM186.5 83.1h1.4v1.4h-1.4zM196.0 83.1h1.4v1.4h-1.4zM160.7 81.8h1.4v1.4h-1.4zM164.7 81.8h1.4v1.4h-1.4zM168.8 81.8h1.4v1.4h-1.4zM172.9 81.8h1.4v1.4h-1.4zM178.3 81.8h1.4v1.4h-1.4zM162.0 80.4h4.1v1.4h-4.1zM168.8 80.4h1.4v1.4h-1.4zM177.0 80.4h1.4v1.4h-1.4zM163.4 79.0h6.8v1.4h-6.8zM170.2 77.7h1.4v1.4h-1.4zM177.0 77.7h1.4v1.4h-1.4zM187.8 77.7h2.7v1.4h-2.7zM162.0 75.0h1.4v1.4h-1.4zM187.8 73.6h2.7v1.4h-2.7zM162.0 70.9h1.4v1.4h-1.4zM181.0 70.9h1.4v1.4h-1.4zM158.0 69.5h1.4v1.4h-1.4zM162.0 69.5h1.4v1.4h-1.4zM162.0 68.2h2.7v1.4h-2.7zM181.0 68.2h1.4v1.4h-1.4zM160.7 66.8h1.4v1.4h-1.4zM175.6 61.4h1.4v1.4h-1.4zM187.8 61.4h1.4v1.4h-1.4zM167.5 60.0h1.4v1.4h-1.4zM175.6 60.0h2.7v1.4h-2.7zM174.2 58.7h1.4v1.4h-1.4zM178.3 58.7h1.4v1.4h-1.4zM171.5 57.3h4.1v1.4h-4.1zM178.3 57.3h4.1v1.4h-4.1zM160.7 56.0h2.7v1.4h-2.7zM170.2 56.0h2.7v1.4h-2.7zM178.3 56.0h2.7v1.4h-2.7zM170.2 54.6h1.4v1.4h-1.4zM179.7 54.6h1.4v1.4h-1.4zM183.7 54.6h1.4v1.4h-1.4zM160.7 53.2h2.7v1.4h-2.7zM167.5 51.9h1.4v1.4h-1.4zM174.2 50.5h1.4v1.4h-1.4zM186.5 50.5h2.7v1.4h-2.7zM187.8 49.2h1.4v1.4h-1.4z"/>
<path fill="#d8dc00" d="M167.5 180.9h2.7v1.4h-2.7zM227.2 180.9h1.4v1.4h-1.4zM235.3 180.9h1.4v1.4h-1.4zM238.0 180.9h1.4v1.4h-1.4zM167.5 179.6h2.7v1.4h-2.7zM228.5 179.6h1.4v1.4h-1.4zM239.4 179.6h1.4v1.4h-1.4zM244.8 179.6h1.4v1.4h-1.4zM186.5 178.2h2.7v1.4h-2.7zM210.9 178.2h2.7v1.4h-2.7zM186.5 176.9h2.7v1.4h-2.7zM210.9 176.9h2.7v1.4h-2.7zM178.3 175.5h2.7v1.4h-2.7zM212.2 175.5h1.4v1.4h-1.4zM224.5 175.5h2.7v1.4h-2.7zM178.3 174.2h2.7v1.4h-2.7zM224.5 174.2h2.7v1.4h-2.7zM262.5 174.2h1.4v1.4h-1.4zM178.3 172.8h2.7v1.4h-2.7zM196.0 172.8h1.4v1.4h-1.4zM212.2 172.8h2.7v1.4h-2.7zM224.5 172.8h1.4v1.4h-1.4zM247.5 172.8h1.4v1.4h-1.4zM178.3 171.4h2.7v1.4h-2.7zM191.9 171.4h1.4v1.4h-1.4zM210.9 171.4h1.4v1.4h-1.4zM215.0 171.4h1.4v1.4h-1.4zM220.4 171.4h1.4v1.4h-1.4zM224.5 171.4h1.4v1.4h-1.4zM246.2 171.4h1.4v1.4h-1.4zM178.3 170.1h1.4v1.4h-1.4zM198.7 170.1h1.4v1.4h-1.4zM209.5 170.1h2.7v1.4h-2.7zM215.0 170.1h1.4v1.4h-1.4zM234.0 170.1h1.4v1.4h-1.4zM236.7 170.1h1.4v1.4h-1.4zM243.5 170.1h1.4v1.4h-1.4zM212.2 168.7h2.7v1.4h-2.7zM232.6 168.7h1.4v1.4h-1.4zM178.3 167.4h1.4v1.4h-1.4zM277.4 167.4h1.4v1.4h-1.4zM280.1 167.4h1.4v1.4h-1.4zM182.4 166.0h1.4v1.4h-1.4zM206.8 166.0h1.4v1.4h-1.4zM213.6 166.0h1.4v1.4h-1.4zM232.6 166.0h1.4v1.4h-1.4zM276.0 166.0h1.4v1.4h-1.4zM312.7 166.0h1.4v1.4h-1.4zM183.7 164.6h1.4v1.4h-1.4zM208.2 164.6h1.4v1.4h-1.4zM269.2 164.6h1.4v1.4h-1.4zM281.4 164.6h1.4v1.4h-1.4zM293.7 164.6h1.4v1.4h-1.4zM259.7 163.3h1.4v1.4h-1.4zM269.2 163.3h1.4v1.4h-1.4zM276.0 163.3h1.4v1.4h-1.4zM280.1 163.3h1.4v1.4h-1.4zM292.3 163.3h1.4v1.4h-1.4zM247.5 161.9h1.4v1.4h-1.4zM276.0 161.9h1.4v1.4h-1.4zM292.3 160.6h1.4v1.4h-1.4zM293.7 159.2h1.4v1.4h-1.4zM159.3 155.1h1.4v1.4h-1.4zM163.4 155.1h1.4v1.4h-1.4zM297.7 155.1h1.4v1.4h-1.4zM162.0 151.1h1.4v1.4h-1.4zM167.5 151.1h1.4v1.4h-1.4zM290.9 151.1h1.4v1.4h-1.4zM172.9 148.3h1.4v1.4h-1.4zM282.8 145.6h1.4v1.4h-1.4zM278.7 144.3h1.4v1.4h-1.4zM281.4 144.3h1.4v1.4h-1.4zM178.3 141.5h1.4v1.4h-1.4zM190.5 141.5h1.4v1.4h-1.4zM201.4 141.5h2.7v1.4h-2.7zM212.2 140.2h1.4v1.4h-1.4zM232.6 140.2h1.4v1.4h-1.4zM239.4 140.2h1.4v1.4h-1.4zM250.2 140.2h2.7v1.4h-2.7zM213.6 138.8h1.4v1.4h-1.4zM232.6 138.8h1.4v1.4h-1.4zM238.0 138.8h1.4v1.4h-1.4zM248.9 138.8h1.4v1.4h-1.4zM205.5 96.7h1.4v1.4h-1.4zM216.3 96.7h2.7v1.4h-2.7zM216.3 95.4h2.7v1.4h-2.7zM194.6 94.0h1.4v1.4h-1.4zM212.2 94.0h1.4v1.4h-1.4zM215.0 94.0h2.7v1.4h-2.7zM220.4 94.0h1.4v1.4h-1.4zM196.0 92.6h1.4v1.4h-1.4zM210.9 92.6h1.4v1.4h-1.4zM196.0 89.9h1.4v1.4h-1.4zM183.7 88.6h2.7v1.4h-2.7zM193.2 88.6h1.4v1.4h-1.4zM197.3 88.6h1.4v1.4h-1.4zM183.7 87.2h2.7v1.4h-2.7zM191.9 87.2h1.4v1.4h-1.4zM186.5 85.8h1.4v1.4h-1.4zM197.3 84.5h1.4v1.4h-1.4zM235.3 84.5h1.4v1.4h-1.4zM162.0 83.1h2.7v1.4h-2.7zM170.2 83.1h2.7v1.4h-2.7zM175.6 83.1h1.4v1.4h-1.4zM162.0 81.8h2.7v1.4h-2.7zM170.2 81.8h2.7v1.4h-2.7zM177.0 81.8h1.4v1.4h-1.4zM170.2 80.4h1.4v1.4h-1.4zM172.9 80.4h1.4v1.4h-1.4zM160.7 75.0h1.4v1.4h-1.4zM159.3 73.6h1.4v1.4h-1.4zM159.3 70.9h1.4v1.4h-1.4zM160.7 69.5h1.4v1.4h-1.4zM183.7 60.0h1.4v1.4h-1.4zM167.5 58.7h1.4v1.4h-1.4zM175.6 58.7h2.7v1.4h-2.7zM168.8 57.3h1.4v1.4h-1.4zM175.6 57.3h2.7v1.4h-2.7zM181.0 54.6h1.4v1.4h-1.4z"/>
<path fill="#00ff00" d="M149.8 185.0h2.7v1.4h-2.7zM215.0 185.0h4.1v1.4h-4.1zM231.2 185.0h2.7v1.4h-2.7zM149.8 183.7h2.7v1.4h-2.7zM215.0 183.7h2.7v1.4h-2.7zM231.2 183.7h2.7v1.4h-2.7zM177.0 182.3h2.7v1.4h-2.7zM227.2 182.3h4.1v1.4h-4.1zM242.1 182.3h2.7v1.4h-2.7zM253.0 182.3h2.7v1.4h-2.7zM177.0 180.9h2.7v1.4h-2.7zM228.5 180.9h2.7v1.4h-2.7zM236.7 180.9h1.4v1.4h-1.4zM242.1 180.9h4.1v1.4h-4.1zM253.0 180.9h2.7v1.4h-2.7zM179.7 179.6h2.7v1.4h-2.7zM235.3 179.6h4.1v1.4h-4.1zM242.1 179.6h2.7v1.4h-2.7zM168.8 178.2h1.4v1.4h-1.4zM179.7 178.2h2.7v1.4h-2.7zM236.7 178.2h2.7v1.4h-2.7zM160.7 176.9h2.7v1.4h-2.7zM168.8 176.9h2.7v1.4h-2.7zM179.7 176.9h1.4v1.4h-1.4zM204.1 176.9h6.8v1.4h-6.8zM220.4 176.9h4.1v1.4h-4.1zM246.2 176.9h4.1v1.4h-4.1zM263.8 176.9h2.7v1.4h-2.7zM160.7 175.5h2.7v1.4h-2.7zM168.8 175.5h2.7v1.4h-2.7zM204.1 175.5h8.1v1.4h-8.1zM220.4 175.5h4.1v1.4h-4.1zM246.2 175.5h4.1v1.4h-4.1zM255.7 175.5h2.7v1.4h-2.7zM263.8 175.5h2.7v1.4h-2.7zM193.2 174.2h2.7v1.4h-2.7zM198.7 174.2h2.7v1.4h-2.7zM209.5 174.2h8.1v1.4h-8.1zM219.0 174.2h5.4v1.4h-5.4zM244.8 174.2h5.4v1.4h-5.4zM255.7 174.2h2.7v1.4h-2.7zM263.8 174.2h5.4v1.4h-5.4zM191.9 172.8h4.1v1.4h-4.1zM198.7 172.8h2.7v1.4h-2.7zM209.5 172.8h2.7v1.4h-2.7zM215.0 172.8h9.5v1.4h-9.5zM225.8 172.8h2.7v1.4h-2.7zM244.8 172.8h2.7v1.4h-2.7zM255.7 172.8h2.7v1.4h-2.7zM263.8 172.8h5.4v1.4h-5.4zM193.2 171.4h1.4v1.4h-1.4zM196.0 171.4h2.7v1.4h-2.7zM204.1 171.4h2.7v1.4h-2.7zM216.3 171.4h4.1v1.4h-4.1zM225.8 171.4h4.1v1.4h-4.1zM304.5 171.4h2.7v1.4h-2.7zM179.7 170.1h2.7v1.4h-2.7zM191.9 170.1h2.7v1.4h-2.7zM196.0 170.1h2.7v1.4h-2.7zM201.4 170.1h5.4v1.4h-5.4zM216.3 170.1h4.1v1.4h-4.1zM224.5 170.1h1.4v1.4h-1.4zM228.5 170.1h1.4v1.4h-1.4zM235.3 170.1h1.4v1.4h-1.4zM244.8 170.1h2.7v1.4h-2.7zM304.5 170.1h2.7v1.4h-2.7zM171.5 168.7h4.1v1.4h-4.1zM178.3 168.7h8.1v1.4h-8.1zM189.2 168.7h23.1v1.4h-23.1zM215.0 168.7h8.1v1.4h-8.1zM224.5 168.7h1.4v1.4h-1.4zM228.5 168.7h1.4v1.4h-1.4zM234.0 168.7h4.1v1.4h-4.1zM240.7 168.7h4.1v1.4h-4.1zM246.2 168.7h1.4v1.4h-1.4zM296.4 168.7h4.1v1.4h-4.1zM309.9 168.7h2.7v1.4h-2.7zM171.5 167.4h4.1v1.4h-4.1zM179.7 167.4h13.6v1.4h-13.6zM196.0 167.4h4.1v1.4h-4.1zM201.4 167.4h24.4v1.4h-24.4zM228.5 167.4h1.4v1.4h-1.4zM232.6 167.4h10.9v1.4h-10.9zM246.2 167.4h1.4v1.4h-1.4zM278.7 167.4h1.4v1.4h-1.4zM285.5 167.4h2.7v1.4h-2.7zM295.0 167.4h1.4v1.4h-1.4zM299.1 167.4h5.4v1.4h-5.4zM309.9 167.4h2.7v1.4h-2.7zM179.7 166.0h2.7v1.4h-2.7zM183.7 166.0h6.8v1.4h-6.8zM191.9 166.0h2.7v1.4h-2.7zM196.0 166.0h4.1v1.4h-4.1zM205.5 166.0h1.4v1.4h-1.4zM209.5 166.0h4.1v1.4h-4.1zM215.0 166.0h17.6v1.4h-17.6zM234.0 166.0h2.7v1.4h-2.7zM238.0 166.0h9.5v1.4h-9.5zM261.1 166.0h2.7v1.4h-2.7zM277.4 166.0h4.1v1.4h-4.1zM284.2 166.0h5.4v1.4h-5.4zM295.0 166.0h1.4v1.4h-1.4zM299.1 166.0h8.1v1.4h-8.1zM309.9 166.0h2.7v1.4h-2.7zM179.7 164.6h2.7v1.4h-2.7zM185.1 164.6h2.7v1.4h-2.7zM193.2 164.6h6.8v1.4h-6.8zM205.5 164.6h2.7v1.4h-2.7zM209.5 164.6h27.1v1.4h-27.1zM239.4 164.6h8.1v1.4h-8.1zM261.1 164.6h8.1v1.4h-8.1zM276.0 164.6h5.4v1.4h-5.4zM282.8 164.6h6.8v1.4h-6.8zM295.0 164.6h1.4v1.4h-1.4zM299.1 164.6h8.1v1.4h-8.1zM309.9 164.6h4.1v1.4h-4.1zM181.0 163.3h6.8v1.4h-6.8zM198.7 163.3h2.7v1.4h-2.7zM206.8 163.3h4.1v1.4h-4.1zM219.0 163.3h10.9v1.4h-10.9zM235.3 163.3h6.8v1.4h-6.8zM244.8 163.3h1.4v1.4h-1.4zM261.1 163.3h8.1v1.4h-8.1zM271.9 163.3h4.1v1.4h-4.1zM277.4 163.3h2.7v1.4h-2.7zM281.4 163.3h6.8v1.4h-6.8zM293.7 163.3h8.1v1.4h-8.1zM308.6 163.3h5.4v1.4h-5.4zM156.6 161.9h1.4v1.4h-1.4zM163.4 161.9h1.4v1.4h-1.4zM179.7 161.9h8.1v1.4h-8.1zM220.4 161.9h2.7v1.4h-2.7zM236.7 161.9h4.1v1.4h-4.1zM244.8 161.9h1.4v1.4h-1.4zM248.9 161.9h17.6v1.4h-17.6zM269.2 161.9h6.8v1.4h-6.8zM277.4 161.9h10.9v1.4h-10.9zM292.3 161.9h8.1v1.4h-8.1zM308.6 161.9h5.4v1.4h-5.4zM149.8 160.6h2.7v1.4h-2.7zM155.2 160.6h2.7v1.4h-2.7zM163.4 160.6h2.7v1.4h-2.7zM179.7 160.6h1.4v1.4h-1.4zM182.4 160.6h5.4v1.4h-5.4zM246.2 160.6h1.4v1.4h-1.4zM251.6 160.6h16.3v1.4h-16.3zM274.7 160.6h13.6v1.4h-13.6zM293.7 160.6h10.9v1.4h-10.9zM308.6 160.6h4.1v1.4h-4.1zM149.8 159.2h2.7v1.4h-2.7zM155.2 159.2h2.7v1.4h-2.7zM163.4 159.2h2.7v1.4h-2.7zM178.3 159.2h1.4v1.4h-1.4zM183.7 159.2h2.7v1.4h-2.7zM258.4 159.2h10.9v1.4h-10.9zM278.7 159.2h14.9v1.4h-14.9zM295.0 159.2h9.5v1.4h-9.5zM160.7 157.9h5.4v1.4h-5.4zM174.2 157.9h4.1v1.4h-4.1zM263.8 157.9h6.8v1.4h-6.8zM281.4 157.9h4.1v1.4h-4.1zM288.2 157.9h13.6v1.4h-13.6zM159.3 156.5h9.5v1.4h-9.5zM174.2 156.5h1.4v1.4h-1.4zM177.0 156.5h1.4v1.4h-1.4zM265.2 156.5h4.1v1.4h-4.1zM282.8 156.5h2.7v1.4h-2.7zM288.2 156.5h13.6v1.4h-13.6zM160.7 155.1h2.7v1.4h-2.7zM164.7 155.1h6.8v1.4h-6.8zM174.2 155.1h1.4v1.4h-1.4zM177.0 155.1h1.4v1.4h-1.4zM284.2 155.1h1.4v1.4h-1.4zM286.9 155.1h2.7v1.4h-2.7zM299.1 155.1h2.7v1.4h-2.7zM158.0 153.8h2.7v1.4h-2.7zM163.4 153.8h12.2v1.4h-12.2zM288.2 153.8h1.4v1.4h-1.4zM299.1 153.8h2.7v1.4h-2.7zM156.6 152.4h4.1v1.4h-4.1zM163.4 152.4h9.5v1.4h-9.5zM288.2 152.4h2.7v1.4h-2.7zM293.7 152.4h2.7v1.4h-2.7zM156.6 151.1h5.4v1.4h-5.4zM163.4 151.1h4.1v1.4h-4.1zM168.8 151.1h4.1v1.4h-4.1zM289.6 151.1h1.4v1.4h-1.4zM292.3 151.1h4.1v1.4h-4.1zM158.0 149.7h16.3v1.4h-16.3zM282.8 149.7h1.4v1.4h-1.4zM289.6 149.7h6.8v1.4h-6.8zM158.0 148.3h1.4v1.4h-1.4zM160.7 148.3h10.9v1.4h-10.9zM174.2 148.3h1.4v1.4h-1.4zM282.8 148.3h2.7v1.4h-2.7zM288.2 148.3h8.1v1.4h-8.1zM162.0 147.0h9.5v1.4h-9.5zM172.9 147.0h2.7v1.4h-2.7zM182.4 147.0h1.4v1.4h-1.4zM265.2 147.0h4.1v1.4h-4.1zM271.9 147.0h2.7v1.4h-2.7zM281.4 147.0h4.1v1.4h-4.1zM288.2 147.0h1.4v1.4h-1.4zM299.1 147.0h2.7v1.4h-2.7zM156.6 145.6h1.4v1.4h-1.4zM160.7 145.6h16.3v1.4h-16.3zM200.0 145.6h5.4v1.4h-5.4zM263.8 145.6h10.9v1.4h-10.9zM278.7 145.6h4.1v1.4h-4.1zM284.2 145.6h4.1v1.4h-4.1zM297.7 145.6h4.1v1.4h-4.1zM156.6 144.3h5.4v1.4h-5.4zM166.1 144.3h14.9v1.4h-14.9zM185.1 144.3h4.1v1.4h-4.1zM198.7 144.3h9.5v1.4h-9.5zM262.5 144.3h10.9v1.4h-10.9zM277.4 144.3h1.4v1.4h-1.4zM280.1 144.3h1.4v1.4h-1.4zM296.4 144.3h2.7v1.4h-2.7zM307.2 144.3h2.7v1.4h-2.7zM156.6 142.9h4.1v1.4h-4.1zM168.8 142.9h13.6v1.4h-13.6zM183.7 142.9h2.7v1.4h-2.7zM189.2 142.9h1.4v1.4h-1.4zM197.3 142.9h10.9v1.4h-10.9zM238.0 142.9h1.4v1.4h-1.4zM259.7 142.9h2.7v1.4h-2.7zM263.8 142.9h10.9v1.4h-10.9zM276.0 142.9h2.7v1.4h-2.7zM296.4 142.9h2.7v1.4h-2.7zM307.2 142.9h2.7v1.4h-2.7zM158.0 141.5h2.7v1.4h-2.7zM170.2 141.5h5.4v1.4h-5.4zM179.7 141.5h5.4v1.4h-5.4zM191.9 141.5h5.4v1.4h-5.4zM198.7 141.5h2.7v1.4h-2.7zM204.1 141.5h4.1v1.4h-4.1zM210.9 141.5h6.8v1.4h-6.8zM223.1 141.5h20.4v1.4h-20.4zM250.2 141.5h2.7v1.4h-2.7zM258.4 141.5h2.7v1.4h-2.7zM266.5 141.5h4.1v1.4h-4.1zM276.0 141.5h4.1v1.4h-4.1zM171.5 140.2h2.7v1.4h-2.7zM193.2 140.2h2.7v1.4h-2.7zM205.5 140.2h6.8v1.4h-6.8zM213.6 140.2h9.5v1.4h-9.5zM228.5 140.2h2.7v1.4h-2.7zM234.0 140.2h5.4v1.4h-5.4zM242.1 140.2h8.1v1.4h-8.1zM253.0 140.2h5.4v1.4h-5.4zM266.5 140.2h2.7v1.4h-2.7zM277.4 140.2h2.7v1.4h-2.7zM206.8 138.8h5.4v1.4h-5.4zM215.0 138.8h1.4v1.4h-1.4zM217.7 138.8h1.4v1.4h-1.4zM228.5 138.8h2.7v1.4h-2.7zM234.0 138.8h1.4v1.4h-1.4zM236.7 138.8h1.4v1.4h-1.4zM242.1 138.8h4.1v1.4h-4.1zM247.5 138.8h1.4v1.4h-1.4zM253.0 138.8h2.7v1.4h-2.7zM208.2 137.5h4.1v1.4h-4.1zM213.6 137.5h4.1v1.4h-4.1zM228.5 137.5h2.7v1.4h-2.7zM234.0 137.5h4.1v1.4h-4.1zM242.1 137.5h2.7v1.4h-2.7zM253.0 137.5h2.7v1.4h-2.7zM206.8 136.1h2.7v1.4h-2.7zM212.2 136.1h4.1v1.4h-4.1zM234.0 136.1h2.7v1.4h-2.7zM206.8 134.8h2.7v1.4h-2.7zM212.2 134.8h2.7v1.4h-2.7zM234.0 133.4h2.7v1.4h-2.7zM234.0 132.0h2.7v1.4h-2.7zM209.5 119.8h2.7v1.4h-2.7zM209.5 118.5h2.7v1.4h-2.7zM209.5 117.1h2.7v1.4h-2.7zM201.4 111.7h2.7v1.4h-2.7zM200.0 110.3h4.1v1.4h-4.1zM228.5 98.1h2.7v1.4h-2.7zM206.8 96.7h2.7v1.4h-2.7zM228.5 96.7h2.7v1.4h-2.7zM202.7 95.4h6.8v1.4h-6.8zM225.8 95.4h2.7v1.4h-2.7zM193.2 94.0h1.4v1.4h-1.4zM202.7 94.0h2.7v1.4h-2.7zM206.8 94.0h2.7v1.4h-2.7zM213.6 94.0h1.4v1.4h-1.4zM217.7 94.0h2.7v1.4h-2.7zM225.8 94.0h2.7v1.4h-2.7zM187.8 92.6h2.7v1.4h-2.7zM193.2 92.6h2.7v1.4h-2.7zM204.1 92.6h5.4v1.4h-5.4zM212.2 92.6h10.9v1.4h-10.9zM187.8 91.3h2.7v1.4h-2.7zM193.2 91.3h4.1v1.4h-4.1zM209.5 91.3h10.9v1.4h-10.9zM221.7 91.3h1.4v1.4h-1.4zM174.2 89.9h2.7v1.4h-2.7zM179.7 89.9h2.7v1.4h-2.7zM190.5 89.9h5.4v1.4h-5.4zM209.5 89.9h13.6v1.4h-13.6zM174.2 88.6h2.7v1.4h-2.7zM179.7 88.6h4.1v1.4h-4.1zM190.5 88.6h2.7v1.4h-2.7zM196.0 88.6h1.4v1.4h-1.4zM209.5 88.6h12.2v1.4h-12.2zM225.8 88.6h2.7v1.4h-2.7zM179.7 87.2h4.1v1.4h-4.1zM190.5 87.2h1.4v1.4h-1.4zM196.0 87.2h5.4v1.4h-5.4zM209.5 87.2h8.1v1.4h-8.1zM224.5 87.2h2.7v1.4h-2.7zM228.5 87.2h2.7v1.4h-2.7zM236.7 87.2h2.7v1.4h-2.7zM179.7 85.8h4.1v1.4h-4.1zM187.8 85.8h2.7v1.4h-2.7zM196.0 85.8h6.8v1.4h-6.8zM209.5 85.8h2.7v1.4h-2.7zM215.0 85.8h2.7v1.4h-2.7zM224.5 85.8h6.8v1.4h-6.8zM235.3 85.8h4.1v1.4h-4.1zM177.0 84.5h2.7v1.4h-2.7zM186.5 84.5h4.1v1.4h-4.1zM193.2 84.5h4.1v1.4h-4.1zM236.7 84.5h1.4v1.4h-1.4zM177.0 83.1h2.7v1.4h-2.7zM187.8 83.1h2.7v1.4h-2.7zM193.2 83.1h2.7v1.4h-2.7zM171.5 80.4h1.4v1.4h-1.4zM170.2 79.0h8.1v1.4h-8.1zM193.2 79.0h2.7v1.4h-2.7zM171.5 77.7h5.4v1.4h-5.4zM193.2 77.7h2.7v1.4h-2.7zM187.8 76.3h2.7v1.4h-2.7zM187.8 75.0h2.7v1.4h-2.7zM160.7 73.6h2.7v1.4h-2.7zM168.8 73.6h2.7v1.4h-2.7zM159.3 72.3h4.1v1.4h-4.1zM168.8 72.3h2.7v1.4h-2.7zM160.7 70.9h1.4v1.4h-1.4zM182.4 70.9h2.7v1.4h-2.7zM159.3 69.5h1.4v1.4h-1.4zM181.0 69.5h4.1v1.4h-4.1zM158.0 68.2h4.1v1.4h-4.1zM158.0 66.8h2.7v1.4h-2.7zM181.0 62.7h5.4v1.4h-5.4zM181.0 61.4h6.8v1.4h-6.8zM168.8 60.0h2.7v1.4h-2.7zM185.1 60.0h2.7v1.4h-2.7zM168.8 58.7h2.7v1.4h-2.7zM185.1 58.7h2.7v1.4h-2.7zM170.2 57.3h1.4v1.4h-1.4zM182.4 57.3h2.7v1.4h-2.7zM181.0 56.0h4.1v1.4h-4.1zM158.0 54.6h8.1v1.4h-8.1zM182.4 54.6h1.4v1.4h-1.4zM158.0 53.2h2.7v1.4h-2.7zM163.4 53.2h2.7v1.4h-2.7zM168.8 53.2h2.7v1.4h-2.7zM168.8 51.9h4.1v1.4h-4.1zM168.8 50.5h5.4v1.4h-5.4zM170.2 49.2h4.1v1.4h-4.1zM171.5 47.8h2.7v1.4h-2.7zM179.7 46.4h2.7v1.4h-2.7zM179.7 45.1h2.7v1.4h-2.7z"/>
<path fill="#b8b880" d="M194.6 171.4h1.4v1.4h-1.4zM194.6 170.1h1.4v1.4h-1.4zM225.8 170.1h1.4v1.4h-1.4zM227.2 168.7h1.4v1.4h-1.4zM244.8 168.7h1.4v1.4h-1.4zM200.0 167.4h1.4v1.4h-1.4zM225.8 167.4h2.7v1.4h-2.7zM243.5 167.4h1.4v1.4h-1.4zM296.4 167.4h1.4v1.4h-1.4zM190.5 166.0h1.4v1.4h-1.4zM200.0 166.0h1.4v1.4h-1.4zM204.1 166.0h1.4v1.4h-1.4zM236.7 166.0h1.4v1.4h-1.4zM187.8 164.6h1.4v1.4h-1.4zM190.5 164.6h2.7v1.4h-2.7zM200.0 164.6h1.4v1.4h-1.4zM236.7 164.6h2.7v1.4h-2.7zM296.4 164.6h2.7v1.4h-2.7zM197.3 163.3h1.4v1.4h-1.4zM205.5 163.3h1.4v1.4h-1.4zM210.9 163.3h1.4v1.4h-1.4zM229.9 163.3h1.4v1.4h-1.4zM234.0 163.3h1.4v1.4h-1.4zM243.5 163.3h1.4v1.4h-1.4zM219.0 161.9h1.4v1.4h-1.4zM228.5 161.9h1.4v1.4h-1.4zM235.3 161.9h1.4v1.4h-1.4zM266.5 161.9h2.7v1.4h-2.7zM181.0 160.6h1.4v1.4h-1.4zM219.0 160.6h1.4v1.4h-1.4zM247.5 160.6h4.1v1.4h-4.1zM267.9 160.6h1.4v1.4h-1.4zM273.3 160.6h1.4v1.4h-1.4zM186.5 159.2h1.4v1.4h-1.4zM257.0 159.2h1.4v1.4h-1.4zM276.0 159.2h2.7v1.4h-2.7zM262.5 157.9h1.4v1.4h-1.4zM280.1 157.9h1.4v1.4h-1.4zM285.5 157.9h2.7v1.4h-2.7zM175.6 156.5h1.4v1.4h-1.4zM175.6 155.1h1.4v1.4h-1.4zM265.2 155.1h1.4v1.4h-1.4zM282.8 155.1h1.4v1.4h-1.4zM285.5 155.1h1.4v1.4h-1.4zM284.2 153.8h1.4v1.4h-1.4zM286.9 153.8h1.4v1.4h-1.4zM172.9 152.4h1.4v1.4h-1.4zM172.9 151.1h1.4v1.4h-1.4zM288.2 151.1h1.4v1.4h-1.4zM288.2 149.7h1.4v1.4h-1.4zM159.3 148.3h1.4v1.4h-1.4zM182.4 148.3h2.7v1.4h-2.7zM158.0 147.0h1.4v1.4h-1.4zM160.7 147.0h1.4v1.4h-1.4zM175.6 147.0h1.4v1.4h-1.4zM183.7 147.0h1.4v1.4h-1.4zM280.1 147.0h1.4v1.4h-1.4zM158.0 145.6h1.4v1.4h-1.4zM182.4 145.6h1.4v1.4h-1.4zM198.7 145.6h1.4v1.4h-1.4zM205.5 145.6h1.4v1.4h-1.4zM181.0 144.3h1.4v1.4h-1.4zM189.2 144.3h1.4v1.4h-1.4zM197.3 144.3h1.4v1.4h-1.4zM273.3 144.3h1.4v1.4h-1.4zM182.4 142.9h1.4v1.4h-1.4zM190.5 142.9h1.4v1.4h-1.4zM196.0 142.9h1.4v1.4h-1.4zM208.2 142.9h1.4v1.4h-1.4zM236.7 142.9h1.4v1.4h-1.4zM274.7 142.9h1.4v1.4h-1.4zM208.2 141.5h2.7v1.4h-2.7zM217.7 141.5h2.7v1.4h-2.7zM243.5 141.5h1.4v1.4h-1.4zM248.9 141.5h1.4v1.4h-1.4zM257.0 141.5h1.4v1.4h-1.4zM216.3 138.8h1.4v1.4h-1.4zM235.3 138.8h1.4v1.4h-1.4zM205.5 94.0h1.4v1.4h-1.4zM220.4 91.3h1.4v1.4h-1.4zM227.2 87.2h1.4v1.4h-1.4z"/>
<path fill="#ff10ff" d="M227.2 170.1h1.4v1.4h-1.4zM225.8 168.7h1.4v1.4h-1.4zM244.8 167.4h1.4v1.4h-1.4zM297.7 167.4h1.4v1.4h-1.4zM201.4 166.0h2.7v1.4h-2.7zM296.4 166.0h2.7v1.4h-2.7zM189.2 164.6h1.4v1.4h-1.4zM201.4 164.6h1.4v1.4h-1.4zM204.1 164.6h1.4v1.4h-1.4zM187.8 163.3h5.4v1.4h-5.4zM196.0 163.3h1.4v1.4h-1.4zM201.4 163.3h1.4v1.4h-1.4zM204.1 163.3h1.4v1.4h-1.4zM212.2 163.3h1.4v1.4h-1.4zM216.3 163.3h2.7v1.4h-2.7zM242.1 163.3h1.4v1.4h-1.4zM187.8 161.9h1.4v1.4h-1.4zM198.7 161.9h2.7v1.4h-2.7zM223.1 161.9h1.4v1.4h-1.4zM225.8 161.9h2.7v1.4h-2.7zM229.9 161.9h1.4v1.4h-1.4zM234.0 161.9h1.4v1.4h-1.4zM240.7 161.9h1.4v1.4h-1.4zM187.8 160.6h1.4v1.4h-1.4zM217.7 160.6h1.4v1.4h-1.4zM220.4 160.6h1.4v1.4h-1.4zM229.9 160.6h1.4v1.4h-1.4zM235.3 160.6h5.4v1.4h-5.4zM244.8 160.6h1.4v1.4h-1.4zM269.2 160.6h4.1v1.4h-4.1zM182.4 159.2h1.4v1.4h-1.4zM253.0 159.2h4.1v1.4h-4.1zM274.7 159.2h1.4v1.4h-1.4zM178.3 157.9h1.4v1.4h-1.4zM258.4 157.9h4.1v1.4h-4.1zM270.6 157.9h1.4v1.4h-1.4zM263.8 156.5h1.4v1.4h-1.4zM269.2 156.5h1.4v1.4h-1.4zM281.4 156.5h1.4v1.4h-1.4zM285.5 156.5h2.7v1.4h-2.7zM263.8 155.1h1.4v1.4h-1.4zM266.5 155.1h1.4v1.4h-1.4zM175.6 153.8h2.7v1.4h-2.7zM282.8 153.8h1.4v1.4h-1.4zM285.5 153.8h1.4v1.4h-1.4zM174.2 152.4h1.4v1.4h-1.4zM281.4 152.4h1.4v1.4h-1.4zM174.2 151.1h1.4v1.4h-1.4zM281.4 151.1h1.4v1.4h-1.4zM174.2 149.7h1.4v1.4h-1.4zM177.0 149.7h1.4v1.4h-1.4zM182.4 149.7h2.7v1.4h-2.7zM284.2 149.7h1.4v1.4h-1.4zM175.6 148.3h4.1v1.4h-4.1zM281.4 148.3h1.4v1.4h-1.4zM159.3 147.0h1.4v1.4h-1.4zM181.0 147.0h1.4v1.4h-1.4zM201.4 147.0h1.4v1.4h-1.4zM270.6 147.0h1.4v1.4h-1.4zM159.3 145.6h1.4v1.4h-1.4zM177.0 145.6h1.4v1.4h-1.4zM179.7 145.6h2.7v1.4h-2.7zM183.7 145.6h1.4v1.4h-1.4zM197.3 145.6h1.4v1.4h-1.4zM206.8 145.6h1.4v1.4h-1.4zM277.4 145.6h1.4v1.4h-1.4zM182.4 144.3h2.7v1.4h-2.7zM196.0 144.3h1.4v1.4h-1.4zM208.2 144.3h1.4v1.4h-1.4zM238.0 144.3h1.4v1.4h-1.4zM261.1 144.3h1.4v1.4h-1.4zM276.0 144.3h1.4v1.4h-1.4zM194.6 142.9h1.4v1.4h-1.4zM215.0 142.9h2.7v1.4h-2.7zM225.8 142.9h1.4v1.4h-1.4zM239.4 142.9h1.4v1.4h-1.4zM258.4 142.9h1.4v1.4h-1.4zM220.4 141.5h2.7v1.4h-2.7zM247.5 141.5h1.4v1.4h-1.4zM253.0 141.5h4.1v1.4h-4.1z"/>
<path fill="#50e4f4" d="M202.7 164.6h1.4v1.4h-1.4zM193.2 163.3h2.7v1.4h-2.7zM202.7 163.3h1.4v1.4h-1.4zM213.6 163.3h2.7v1.4h-2.7zM231.2 163.3h2.7v1.4h-2.7zM189.2 161.9h2.7v1.4h-2.7zM197.3 161.9h1.4v1.4h-1.4zM201.4 161.9h10.9v1.4h-10.9zM216.3 161.9h2.7v1.4h-2.7zM224.5 161.9h1.4v1.4h-1.4zM231.2 161.9h1.4v1.4h-1.4zM242.1 161.9h2.7v1.4h-2.7zM216.3 160.6h1.4v1.4h-1.4zM221.7 160.6h1.4v1.4h-1.4zM228.5 160.6h1.4v1.4h-1.4zM231.2 160.6h4.1v1.4h-4.1zM240.7 160.6h1.4v1.4h-1.4zM179.7 159.2h1.4v1.4h-1.4zM187.8 159.2h1.4v1.4h-1.4zM229.9 159.2h1.4v1.4h-1.4zM250.2 159.2h2.7v1.4h-2.7zM269.2 159.2h5.4v1.4h-5.4zM183.7 157.9h1.4v1.4h-1.4zM257.0 157.9h1.4v1.4h-1.4zM271.9 157.9h1.4v1.4h-1.4zM278.7 157.9h1.4v1.4h-1.4zM178.3 156.5h1.4v1.4h-1.4zM261.1 156.5h2.7v1.4h-2.7zM270.6 156.5h1.4v1.4h-1.4zM280.1 156.5h1.4v1.4h-1.4zM178.3 155.1h1.4v1.4h-1.4zM186.5 155.1h2.7v1.4h-2.7zM267.9 155.1h1.4v1.4h-1.4zM178.3 153.8h1.4v1.4h-1.4zM186.5 153.8h2.7v1.4h-2.7zM263.8 153.8h4.1v1.4h-4.1zM175.6 152.4h1.4v1.4h-1.4zM280.1 152.4h1.4v1.4h-1.4zM282.8 152.4h5.4v1.4h-5.4zM175.6 151.1h1.4v1.4h-1.4zM182.4 151.1h2.7v1.4h-2.7zM280.1 151.1h1.4v1.4h-1.4zM282.8 151.1h2.7v1.4h-2.7zM175.6 149.7h1.4v1.4h-1.4zM178.3 149.7h4.1v1.4h-4.1zM185.1 149.7h1.4v1.4h-1.4zM280.1 149.7h2.7v1.4h-2.7zM179.7 148.3h2.7v1.4h-2.7zM185.1 148.3h1.4v1.4h-1.4zM273.3 148.3h1.4v1.4h-1.4zM280.1 148.3h1.4v1.4h-1.4zM177.0 147.0h4.1v1.4h-4.1zM197.3 147.0h4.1v1.4h-4.1zM202.7 147.0h2.7v1.4h-2.7zM263.8 147.0h1.4v1.4h-1.4zM269.2 147.0h1.4v1.4h-1.4zM274.7 147.0h1.4v1.4h-1.4zM277.4 147.0h2.7v1.4h-2.7zM285.5 147.0h2.7v1.4h-2.7zM178.3 145.6h1.4v1.4h-1.4zM185.1 145.6h1.4v1.4h-1.4zM196.0 145.6h1.4v1.4h-1.4zM208.2 145.6h1.4v1.4h-1.4zM212.2 145.6h5.4v1.4h-5.4zM239.4 145.6h2.7v1.4h-2.7zM274.7 145.6h2.7v1.4h-2.7zM190.5 144.3h1.4v1.4h-1.4zM194.6 144.3h1.4v1.4h-1.4zM209.5 144.3h1.4v1.4h-1.4zM215.0 144.3h2.7v1.4h-2.7zM220.4 144.3h1.4v1.4h-1.4zM236.7 144.3h1.4v1.4h-1.4zM239.4 144.3h1.4v1.4h-1.4zM274.7 144.3h1.4v1.4h-1.4zM191.9 142.9h2.7v1.4h-2.7zM209.5 142.9h5.4v1.4h-5.4zM217.7 142.9h8.1v1.4h-8.1zM227.2 142.9h1.4v1.4h-1.4zM231.2 142.9h2.7v1.4h-2.7zM240.7 142.9h1.4v1.4h-1.4zM244.8 141.5h2.7v1.4h-2.7z"/>
<path fill="#a83030" d="M196.0 161.9h1.4v1.4h-1.4zM212.2 161.9h1.4v1.4h-1.4zM215.0 161.9h1.4v1.4h-1.4zM232.6 161.9h1.4v1.4h-1.4zM227.2 160.6h1.4v1.4h-1.4zM243.5 160.6h1.4v1.4h-1.4zM181.0 159.2h1.4v1.4h-1.4zM228.5 159.2h1.4v1.4h-1.4zM231.2 159.2h5.4v1.4h-5.4zM246.2 159.2h1.4v1.4h-1.4zM182.4 157.9h1.4v1.4h-1.4zM185.1 157.9h1.4v1.4h-1.4zM254.3 157.9h2.7v1.4h-2.7zM277.4 157.9h1.4v1.4h-1.4zM259.7 156.5h1.4v1.4h-1.4zM271.9 156.5h1.4v1.4h-1.4zM278.7 156.5h1.4v1.4h-1.4zM185.1 155.1h1.4v1.4h-1.4zM189.2 155.1h1.4v1.4h-1.4zM262.5 155.1h1.4v1.4h-1.4zM281.4 155.1h1.4v1.4h-1.4zM185.1 153.8h1.4v1.4h-1.4zM189.2 153.8h1.4v1.4h-1.4zM281.4 153.8h1.4v1.4h-1.4zM177.0 152.4h1.4v1.4h-1.4zM185.1 152.4h1.4v1.4h-1.4zM177.0 151.1h1.4v1.4h-1.4zM181.0 151.1h1.4v1.4h-1.4zM185.1 151.1h1.4v1.4h-1.4zM286.9 151.1h1.4v1.4h-1.4zM266.5 148.3h2.7v1.4h-2.7zM271.9 148.3h1.4v1.4h-1.4zM274.7 148.3h5.4v1.4h-5.4zM185.1 147.0h1.4v1.4h-1.4zM196.0 147.0h1.4v1.4h-1.4zM205.5 147.0h1.4v1.4h-1.4zM213.6 147.0h1.4v1.4h-1.4zM239.4 147.0h2.7v1.4h-2.7zM276.0 147.0h1.4v1.4h-1.4zM186.5 145.6h4.1v1.4h-4.1zM194.6 145.6h1.4v1.4h-1.4zM209.5 145.6h2.7v1.4h-2.7zM217.7 145.6h1.4v1.4h-1.4zM238.0 145.6h1.4v1.4h-1.4zM262.5 145.6h1.4v1.4h-1.4zM193.2 144.3h1.4v1.4h-1.4zM213.6 144.3h1.4v1.4h-1.4zM217.7 144.3h2.7v1.4h-2.7zM221.7 144.3h1.4v1.4h-1.4zM240.7 144.3h1.4v1.4h-1.4zM259.7 144.3h1.4v1.4h-1.4zM228.5 142.9h2.7v1.4h-2.7zM242.1 142.9h1.4v1.4h-1.4zM250.2 142.9h2.7v1.4h-2.7zM257.0 142.9h1.4v1.4h-1.4z"/>
<path fill="#309018" d="M191.9 161.9h1.4v1.4h-1.4zM213.6 161.9h1.4v1.4h-1.4zM189.2 160.6h1.4v1.4h-1.4zM197.3 160.6h8.1v1.4h-8.1zM209.5 160.6h2.7v1.4h-2.7zM215.0 160.6h1.4v1.4h-1.4zM242.1 160.6h1.4v1.4h-1.4zM216.3 159.2h4.1v1.4h-4.1zM236.7 159.2h4.1v1.4h-4.1zM244.8 159.2h1.4v1.4h-1.4zM247.5 159.2h2.7v1.4h-2.7zM186.5 157.9h2.7v1.4h-2.7zM227.2 157.9h1.4v1.4h-1.4zM251.6 157.9h2.7v1.4h-2.7zM273.3 157.9h1.4v1.4h-1.4zM183.7 156.5h2.7v1.4h-2.7zM187.8 156.5h1.4v1.4h-1.4zM273.3 156.5h1.4v1.4h-1.4zM271.9 155.1h2.7v1.4h-2.7zM277.4 155.1h4.1v1.4h-4.1zM278.7 153.8h2.7v1.4h-2.7zM178.3 152.4h1.4v1.4h-1.4zM182.4 152.4h2.7v1.4h-2.7zM186.5 152.4h1.4v1.4h-1.4zM265.2 152.4h1.4v1.4h-1.4zM278.7 152.4h1.4v1.4h-1.4zM178.3 151.1h2.7v1.4h-2.7zM186.5 151.1h1.4v1.4h-1.4zM278.7 151.1h1.4v1.4h-1.4zM285.5 151.1h1.4v1.4h-1.4zM186.5 149.7h1.4v1.4h-1.4zM276.0 149.7h4.1v1.4h-4.1zM186.5 148.3h1.4v1.4h-1.4zM194.6 148.3h1.4v1.4h-1.4zM285.5 148.3h2.7v1.4h-2.7zM194.6 147.0h1.4v1.4h-1.4zM206.8 147.0h2.7v1.4h-2.7zM210.9 147.0h2.7v1.4h-2.7zM215.0 147.0h4.1v1.4h-4.1zM190.5 145.6h4.1v1.4h-4.1zM219.0 145.6h2.7v1.4h-2.7zM236.7 145.6h1.4v1.4h-1.4zM242.1 145.6h1.4v1.4h-1.4zM191.9 144.3h1.4v1.4h-1.4zM210.9 144.3h2.7v1.4h-2.7zM223.1 144.3h1.4v1.4h-1.4zM225.8 144.3h2.7v1.4h-2.7zM234.0 142.9h2.7v1.4h-2.7zM243.5 142.9h1.4v1.4h-1.4zM248.9 142.9h1.4v1.4h-1.4z"/>
<path fill="#2626ec" d="M193.2 161.9h2.7v1.4h-2.7zM190.5 160.6h1.4v1.4h-1.4zM194.6 160.6h2.7v1.4h-2.7zM205.5 160.6h4.1v1.4h-4.1zM212.2 160.6h2.7v1.4h-2.7zM223.1 160.6h4.1v1.4h-4.1zM189.2 159.2h1.4v1.4h-1.4zM196.0 159.2h8.1v1.4h-8.1zM209.5 159.2h6.8v1.4h-6.8zM220.4 159.2h4.1v1.4h-4.1zM225.8 159.2h2.7v1.4h-2.7zM240.7 159.2h4.1v1.4h-4.1zM179.7 157.9h2.7v1.4h-2.7zM189.2 157.9h2.7v1.4h-2.7zM196.0 157.9h2.7v1.4h-2.7zM210.9 157.9h5.4v1.4h-5.4zM224.5 157.9h2.7v1.4h-2.7zM228.5 157.9h9.5v1.4h-9.5zM246.2 157.9h1.4v1.4h-1.4zM248.9 157.9h2.7v1.4h-2.7zM274.7 157.9h2.7v1.4h-2.7zM182.4 156.5h1.4v1.4h-1.4zM186.5 156.5h1.4v1.4h-1.4zM189.2 156.5h4.1v1.4h-4.1zM196.0 156.5h1.4v1.4h-1.4zM212.2 156.5h2.7v1.4h-2.7zM224.5 156.5h5.4v1.4h-5.4zM255.7 156.5h4.1v1.4h-4.1zM274.7 156.5h4.1v1.4h-4.1zM179.7 155.1h1.4v1.4h-1.4zM182.4 155.1h2.7v1.4h-2.7zM190.5 155.1h2.7v1.4h-2.7zM259.7 155.1h2.7v1.4h-2.7zM269.2 155.1h2.7v1.4h-2.7zM274.7 155.1h2.7v1.4h-2.7zM179.7 153.8h5.4v1.4h-5.4zM190.5 153.8h4.1v1.4h-4.1zM262.5 153.8h1.4v1.4h-1.4zM267.9 153.8h1.4v1.4h-1.4zM271.9 153.8h6.8v1.4h-6.8zM179.7 152.4h2.7v1.4h-2.7zM187.8 152.4h8.1v1.4h-8.1zM198.7 152.4h1.4v1.4h-1.4zM263.8 152.4h1.4v1.4h-1.4zM266.5 152.4h2.7v1.4h-2.7zM276.0 152.4h2.7v1.4h-2.7zM187.8 151.1h13.6v1.4h-13.6zM263.8 151.1h5.4v1.4h-5.4zM276.0 151.1h2.7v1.4h-2.7zM187.8 149.7h1.4v1.4h-1.4zM193.2 149.7h8.1v1.4h-8.1zM265.2 149.7h4.1v1.4h-4.1zM273.3 149.7h2.7v1.4h-2.7zM285.5 149.7h2.7v1.4h-2.7zM187.8 148.3h2.7v1.4h-2.7zM191.9 148.3h2.7v1.4h-2.7zM196.0 148.3h10.9v1.4h-10.9zM209.5 148.3h9.5v1.4h-9.5zM236.7 148.3h6.8v1.4h-6.8zM263.8 148.3h2.7v1.4h-2.7zM269.2 148.3h2.7v1.4h-2.7zM186.5 147.0h8.1v1.4h-8.1zM209.5 147.0h1.4v1.4h-1.4zM219.0 147.0h2.7v1.4h-2.7zM234.0 147.0h5.4v1.4h-5.4zM242.1 147.0h1.4v1.4h-1.4zM262.5 147.0h1.4v1.4h-1.4zM221.7 145.6h14.9v1.4h-14.9zM243.5 145.6h1.4v1.4h-1.4zM261.1 145.6h1.4v1.4h-1.4zM224.5 144.3h1.4v1.4h-1.4zM228.5 144.3h8.1v1.4h-8.1zM242.1 144.3h4.1v1.4h-4.1zM258.4 144.3h1.4v1.4h-1.4zM244.8 142.9h4.1v1.4h-4.1zM253.0 142.9h4.1v1.4h-4.1z"/>
<path fill="#7a2ce0" d="M191.9 160.6h2.7v1.4h-2.7zM190.5 159.2h5.4v1.4h-5.4zM204.1 159.2h5.4v1.4h-5.4zM224.5 159.2h1.4v1.4h-1.4zM191.9 157.9h4.1v1.4h-4.1zM198.7 157.9h1.4v1.4h-1.4zM206.8 157.9h4.1v1.4h-4.1zM216.3 157.9h2.7v1.4h-2.7zM221.7 157.9h2.7v1.4h-2.7zM238.0 157.9h2.7v1.4h-2.7zM243.5 157.9h2.7v1.4h-2.7zM247.5 157.9h1.4v1.4h-1.4zM179.7 156.5h2.7v1.4h-2.7zM193.2 156.5h2.7v1.4h-2.7zM197.3 156.5h2.7v1.4h-2.7zM208.2 156.5h4.1v1.4h-4.1zM215.0 156.5h1.4v1.4h-1.4zM223.1 156.5h1.4v1.4h-1.4zM229.9 156.5h4.1v1.4h-4.1zM250.2 156.5h5.4v1.4h-5.4zM181.0 155.1h1.4v1.4h-1.4zM193.2 155.1h6.8v1.4h-6.8zM209.5 155.1h4.1v1.4h-4.1zM221.7 155.1h8.1v1.4h-8.1zM258.4 155.1h1.4v1.4h-1.4zM194.6 153.8h6.8v1.4h-6.8zM210.9 153.8h1.4v1.4h-1.4zM261.1 153.8h1.4v1.4h-1.4zM269.2 153.8h2.7v1.4h-2.7zM196.0 152.4h2.7v1.4h-2.7zM200.0 152.4h1.4v1.4h-1.4zM262.5 152.4h1.4v1.4h-1.4zM274.7 152.4h1.4v1.4h-1.4zM201.4 151.1h1.4v1.4h-1.4zM274.7 151.1h1.4v1.4h-1.4zM189.2 149.7h4.1v1.4h-4.1zM201.4 149.7h2.7v1.4h-2.7zM209.5 149.7h4.1v1.4h-4.1zM215.0 149.7h4.1v1.4h-4.1zM236.7 149.7h4.1v1.4h-4.1zM263.8 149.7h1.4v1.4h-1.4zM269.2 149.7h4.1v1.4h-4.1zM190.5 148.3h1.4v1.4h-1.4zM206.8 148.3h2.7v1.4h-2.7zM219.0 148.3h1.4v1.4h-1.4zM232.6 148.3h4.1v1.4h-4.1zM221.7 147.0h6.8v1.4h-6.8zM231.2 147.0h2.7v1.4h-2.7zM243.5 147.0h1.4v1.4h-1.4zM244.8 145.6h1.4v1.4h-1.4zM246.2 144.3h6.8v1.4h-6.8zM257.0 144.3h1.4v1.4h-1.4z"/>
<path fill="#78a8a8" d="M200.0 157.9h1.4v1.4h-1.4zM219.0 157.9h2.7v1.4h-2.7zM240.7 157.9h2.7v1.4h-2.7zM234.0 156.5h1.4v1.4h-1.4zM236.7 156.5h1.4v1.4h-1.4zM246.2 156.5h4.1v1.4h-4.1zM200.0 155.1h1.4v1.4h-1.4zM208.2 155.1h1.4v1.4h-1.4zM213.6 155.1h1.4v1.4h-1.4zM229.9 155.1h1.4v1.4h-1.4zM209.5 153.8h1.4v1.4h-1.4zM212.2 153.8h1.4v1.4h-1.4zM259.7 153.8h1.4v1.4h-1.4zM201.4 152.4h1.4v1.4h-1.4zM269.2 152.4h1.4v1.4h-1.4zM235.3 151.1h1.4v1.4h-1.4zM262.5 151.1h1.4v1.4h-1.4zM269.2 151.1h1.4v1.4h-1.4zM204.1 149.7h1.4v1.4h-1.4zM213.6 149.7h1.4v1.4h-1.4zM219.0 149.7h1.4v1.4h-1.4zM234.0 149.7h2.7v1.4h-2.7zM240.7 149.7h1.4v1.4h-1.4zM231.2 148.3h1.4v1.4h-1.4zM243.5 148.3h1.4v1.4h-1.4zM262.5 148.3h1.4v1.4h-1.4zM228.5 147.0h2.7v1.4h-2.7zM259.7 145.6h1.4v1.4h-1.4zM255.7 144.3h1.4v1.4h-1.4z"/>
<path fill="#d0d0b0" d="M201.4 157.9h1.4v1.4h-1.4zM205.5 157.9h1.4v1.4h-1.4zM200.0 156.5h1.4v1.4h-1.4zM206.8 156.5h1.4v1.4h-1.4zM216.3 156.5h1.4v1.4h-1.4zM221.7 156.5h1.4v1.4h-1.4zM235.3 156.5h1.4v1.4h-1.4zM244.8 156.5h1.4v1.4h-1.4zM220.4 155.1h1.4v1.4h-1.4zM257.0 155.1h1.4v1.4h-1.4zM201.4 153.8h1.4v1.4h-1.4zM221.7 153.8h1.4v1.4h-1.4zM261.1 152.4h1.4v1.4h-1.4zM273.3 152.4h1.4v1.4h-1.4zM210.9 151.1h1.4v1.4h-1.4zM236.7 151.1h1.4v1.4h-1.4zM205.5 149.7h1.4v1.4h-1.4zM208.2 149.7h1.4v1.4h-1.4zM232.6 149.7h1.4v1.4h-1.4zM242.1 149.7h1.4v1.4h-1.4zM262.5 149.7h1.4v1.4h-1.4zM220.4 148.3h1.4v1.4h-1.4zM244.8 147.0h1.4v1.4h-1.4zM261.1 147.0h1.4v1.4h-1.4zM246.2 145.6h1.4v1.4h-1.4zM253.0 144.3h2.7v1.4h-2.7z"/>
<path fill="#f040f0" d="M202.7 157.9h2.7v1.4h-2.7zM238.0 156.5h1.4v1.4h-1.4zM201.4 155.1h1.4v1.4h-1.4zM231.2 155.1h1.4v1.4h-1.4zM208.2 153.8h1.4v1.4h-1.4zM220.4 153.8h1.4v1.4h-1.4zM223.1 153.8h1.4v1.4h-1.4zM227.2 153.8h2.7v1.4h-2.7zM209.5 152.4h2.7v1.4h-2.7zM270.6 152.4h1.4v1.4h-1.4zM202.7 151.1h1.4v1.4h-1.4zM209.5 151.1h1.4v1.4h-1.4zM234.0 151.1h1.4v1.4h-1.4zM238.0 151.1h1.4v1.4h-1.4zM273.3 151.1h1.4v1.4h-1.4zM206.8 149.7h1.4v1.4h-1.4z"/>
<path fill="#58e0f0" d="M201.4 156.5h5.4v1.4h-5.4zM217.7 156.5h4.1v1.4h-4.1zM239.4 156.5h5.4v1.4h-5.4zM202.7 155.1h1.4v1.4h-1.4zM206.8 155.1h1.4v1.4h-1.4zM215.0 155.1h5.4v1.4h-5.4zM232.6 155.1h5.4v1.4h-5.4zM244.8 155.1h5.4v1.4h-5.4zM253.0 155.1h4.1v1.4h-4.1zM202.7 153.8h1.4v1.4h-1.4zM206.8 153.8h1.4v1.4h-1.4zM213.6 153.8h2.7v1.4h-2.7zM217.7 153.8h2.7v1.4h-2.7zM224.5 153.8h2.7v1.4h-2.7zM229.9 153.8h2.7v1.4h-2.7zM258.4 153.8h1.4v1.4h-1.4zM202.7 152.4h1.4v1.4h-1.4zM208.2 152.4h1.4v1.4h-1.4zM212.2 152.4h10.9v1.4h-10.9zM227.2 152.4h4.1v1.4h-4.1zM234.0 152.4h5.4v1.4h-5.4zM259.7 152.4h1.4v1.4h-1.4zM271.9 152.4h1.4v1.4h-1.4zM204.1 151.1h5.4v1.4h-5.4zM212.2 151.1h9.5v1.4h-9.5zM231.2 151.1h2.7v1.4h-2.7zM239.4 151.1h2.7v1.4h-2.7zM261.1 151.1h1.4v1.4h-1.4zM270.6 151.1h2.7v1.4h-2.7zM220.4 149.7h1.4v1.4h-1.4zM231.2 149.7h1.4v1.4h-1.4zM243.5 149.7h1.4v1.4h-1.4zM261.1 149.7h1.4v1.4h-1.4zM221.7 148.3h9.5v1.4h-9.5zM261.1 148.3h1.4v1.4h-1.4zM246.2 147.0h1.4v1.4h-1.4zM259.7 147.0h1.4v1.4h-1.4zM247.5 145.6h1.4v1.4h-1.4zM258.4 145.6h1.4v1.4h-1.4z"/>
<path fill="#a03838" d="M204.1 155.1h2.7v1.4h-2.7zM238.0 155.1h1.4v1.4h-1.4zM243.5 155.1h1.4v1.4h-1.4zM250.2 155.1h2.7v1.4h-2.7zM216.3 153.8h1.4v1.4h-1.4zM232.6 153.8h6.8v1.4h-6.8zM244.8 153.8h5.4v1.4h-5.4zM257.0 153.8h1.4v1.4h-1.4zM204.1 152.4h4.1v1.4h-4.1zM223.1 152.4h4.1v1.4h-4.1zM231.2 152.4h2.7v1.4h-2.7zM239.4 152.4h2.7v1.4h-2.7zM246.2 152.4h1.4v1.4h-1.4zM221.7 151.1h1.4v1.4h-1.4zM225.8 151.1h5.4v1.4h-5.4zM242.1 151.1h1.4v1.4h-1.4zM259.7 151.1h1.4v1.4h-1.4zM221.7 149.7h9.5v1.4h-9.5zM259.7 149.7h1.4v1.4h-1.4zM244.8 148.3h1.4v1.4h-1.4zM259.7 148.3h1.4v1.4h-1.4zM248.9 145.6h4.1v1.4h-4.1zM257.0 145.6h1.4v1.4h-1.4z"/>
<path fill="#2c8418" d="M239.4 155.1h4.1v1.4h-4.1zM204.1 153.8h2.7v1.4h-2.7zM239.4 153.8h5.4v1.4h-5.4zM250.2 153.8h6.8v1.4h-6.8zM242.1 152.4h4.1v1.4h-4.1zM247.5 152.4h12.2v1.4h-12.2zM223.1 151.1h2.7v1.4h-2.7zM243.5 151.1h16.3v1.4h-16.3zM244.8 149.7h14.9v1.4h-14.9zM246.2 148.3h13.6v1.4h-13.6zM247.5 147.0h12.2v1.4h-12.2zM253.0 145.6h4.1v1.4h-4.1z"/>
</g>
<path d="M40.40 303.23H43.50M68.40 327.20V331.30M40.40 276.05H43.50M95.54 327.20V331.30M40.40 248.88H43.50M122.68 327.20V331.30M40.40 221.71H43.50M149.82 327.20V331.30M40.40 194.53H43.50M176.96 327.20V331.30M40.40 167.36H43.50M204.10 327.20V331.30M40.40 140.19H43.50M231.24 327.20V331.30M40.40 113.02H43.50M258.38 327.20V331.30M40.40 85.84H43.50M285.52 327.20V331.30M40.40 58.67H43.50M312.66 327.20V331.30M40.40 31.50H43.50M339.80 327.20V331.30M40.40 4.32H43.50M366.94 327.20V331.30" stroke="#000" stroke-width="1.3" fill="none"/>
<g font-size="8.85" font-weight="bold" fill="#000">
<text x="35.80" y="306.33" text-anchor="end">10</text>
<text x="35.80" y="279.15" text-anchor="end">20</text>
<text x="35.80" y="251.98" text-anchor="end">30</text>
<text x="35.80" y="224.81" text-anchor="end">40</text>
<text x="35.80" y="197.63" text-anchor="end">50</text>
<text x="35.80" y="170.46" text-anchor="end">60</text>
<text x="35.80" y="143.29" text-anchor="end">70</text>
<text x="35.80" y="116.12" text-anchor="end">80</text>
<text x="35.80" y="88.94" text-anchor="end">90</text>
<text x="35.80" y="61.77" text-anchor="end">100</text>
<text x="35.80" y="34.60" text-anchor="end">110</text>
<text x="35.80" y="7.42" text-anchor="end">120</text>
<text x="68.40" y="344.00" text-anchor="middle">10</text>
<text x="95.54" y="344.00" text-anchor="middle">20</text>
<text x="122.68" y="344.00" text-anchor="middle">30</text>
<text x="149.82" y="344.00" text-anchor="middle">40</text>
<text x="176.96" y="344.00" text-anchor="middle">50</text>
<text x="204.10" y="344.00" text-anchor="middle">60</text>
<text x="231.24" y="344.00" text-anchor="middle">70</text>
<text x="258.38" y="344.00" text-anchor="middle">80</text>
<text x="285.52" y="344.00" text-anchor="middle">90</text>
<text x="312.66" y="344.00" text-anchor="middle">100</text>
<text x="339.80" y="344.00" text-anchor="middle">110</text>
<text x="366.94" y="344.00" text-anchor="middle">120</text>
</g>
<text x="205.20" y="364.80" font-size="11.0" font-weight="bold" text-anchor="middle" fill="#000">Peak amplitude [dB]</text>
<text transform="translate(10.20 165.90) rotate(-90)" font-size="10.9" font-weight="bold" text-anchor="middle" fill="#000">Peak frequency [kHz]</text>
<text x="51.00" y="30.30" font-size="26" font-weight="bold" fill="#fff">A</text>
<text x="355.40" y="318.50" font-size="32" font-weight="bold" fill="#fff" stroke="#fff" stroke-width="0.7" text-anchor="end">+<tspan dy="1.5">/</tspan><tspan dy="-1.5">+</tspan></text>
<rect x="56.10" y="169.60" width="58.6" height="145.7" fill="#fff"/>
<rect x="62.70" y="176.50" width="20.3" height="9.4" fill="#000000"/>
<text x="88.00" y="184.50" font-size="9" fill="#000">0.00</text>
<rect x="62.70" y="188.85" width="20.3" height="9.4" fill="#7c0000"/>
<text x="88.00" y="196.85" font-size="9" fill="#000">0.04</text>
<rect x="62.70" y="201.20" width="20.3" height="9.4" fill="#00ff00"/>
<text x="88.00" y="209.20" font-size="9" fill="#000">0.08</text>
<rect x="62.70" y="213.55" width="20.3" height="9.4" fill="#9c9c70"/>
<text x="88.00" y="221.55" font-size="9" fill="#000">0.12</text>
<rect x="62.70" y="225.90" width="20.3" height="9.4" fill="#ff00ff"/>
<text x="88.00" y="233.90" font-size="9" fill="#000">0.16</text>
<rect x="62.70" y="238.25" width="20.3" height="9.4" fill="#40e0e0"/>
<text x="88.00" y="246.25" font-size="9" fill="#000">0.20</text>
<rect x="62.70" y="250.60" width="20.3" height="9.4" fill="#9c2828"/>
<text x="88.00" y="258.60" font-size="9" fill="#000">0.24</text>
<rect x="62.70" y="262.95" width="20.3" height="9.4" fill="#2c8810"/>
<text x="88.00" y="270.95" font-size="9" fill="#000">0.28</text>
<rect x="62.70" y="275.30" width="20.3" height="9.4" fill="#1c1c6c"/>
<text x="88.00" y="283.30" font-size="9" fill="#000">0.32</text>
<rect x="62.70" y="287.65" width="20.3" height="9.4" fill="#6420a8"/>
<text x="88.00" y="295.65" font-size="9" fill="#000">0.36</text>
<rect x="62.70" y="300.00" width="20.3" height="9.4" fill="#608888"/>
<text x="88.00" y="308.00" font-size="9" fill="#000">0.40</text>
</g>
<g>
<rect x="445.4" y="4.8" width="324.10" height="323.90" fill="#000"/>
<g filter="url(#bl)">
<path fill="#640000" d="M586.1 190.2h1.4v1.4h-1.4zM590.2 190.2h1.4v1.4h-1.4zM595.6 190.2h2.7v1.4h-2.7zM603.8 190.2h5.4v1.4h-5.4zM625.5 190.2h2.7v1.4h-2.7zM633.6 190.2h2.7v1.4h-2.7zM594.3 188.8h1.4v1.4h-1.4zM598.4 188.8h1.4v1.4h-1.4zM602.4 188.8h1.4v1.4h-1.4zM609.2 188.8h1.4v1.4h-1.4zM624.1 188.8h1.4v1.4h-1.4zM628.2 188.8h1.4v1.4h-1.4zM632.3 188.8h1.4v1.4h-1.4zM636.4 188.8h1.4v1.4h-1.4zM544.1 187.5h2.7v1.4h-2.7zM554.9 187.5h2.7v1.4h-2.7zM560.4 187.5h1.4v1.4h-1.4zM563.1 187.5h2.7v1.4h-2.7zM567.1 187.5h1.4v1.4h-1.4zM573.9 187.5h2.7v1.4h-2.7zM579.4 187.5h2.7v1.4h-2.7zM592.9 187.5h2.7v1.4h-2.7zM598.4 187.5h1.4v1.4h-1.4zM602.4 187.5h1.4v1.4h-1.4zM610.6 187.5h6.8v1.4h-6.8zM624.1 187.5h1.4v1.4h-1.4zM628.2 187.5h2.7v1.4h-2.7zM632.3 187.5h1.4v1.4h-1.4zM637.7 187.5h1.4v1.4h-1.4zM542.7 186.1h1.4v1.4h-1.4zM546.8 186.1h1.4v1.4h-1.4zM553.6 186.1h1.4v1.4h-1.4zM557.6 186.1h2.7v1.4h-2.7zM568.5 186.1h1.4v1.4h-1.4zM572.6 186.1h1.4v1.4h-1.4zM576.6 186.1h2.7v1.4h-2.7zM582.1 186.1h1.4v1.4h-1.4zM586.1 186.1h1.4v1.4h-1.4zM590.2 186.1h2.7v1.4h-2.7zM595.6 186.1h2.7v1.4h-2.7zM602.4 186.1h1.4v1.4h-1.4zM617.4 186.1h1.4v1.4h-1.4zM625.5 186.1h2.7v1.4h-2.7zM630.9 186.1h2.7v1.4h-2.7zM639.1 186.1h1.4v1.4h-1.4zM542.7 184.8h1.4v1.4h-1.4zM546.8 184.8h1.4v1.4h-1.4zM553.6 184.8h1.4v1.4h-1.4zM557.6 184.8h2.7v1.4h-2.7zM569.9 184.8h1.4v1.4h-1.4zM572.6 184.8h1.4v1.4h-1.4zM583.4 184.8h1.4v1.4h-1.4zM618.7 184.8h8.1v1.4h-8.1zM630.9 184.8h2.7v1.4h-2.7zM639.1 184.8h1.4v1.4h-1.4zM542.7 183.4h1.4v1.4h-1.4zM546.8 183.4h1.4v1.4h-1.4zM554.9 183.4h2.7v1.4h-2.7zM560.4 183.4h1.4v1.4h-1.4zM571.2 183.4h2.7v1.4h-2.7zM630.9 183.4h2.7v1.4h-2.7zM542.7 182.0h1.4v1.4h-1.4zM548.1 182.0h1.4v1.4h-1.4zM559.0 182.0h1.4v1.4h-1.4zM630.9 182.0h1.4v1.4h-1.4zM640.4 182.0h4.1v1.4h-4.1zM652.6 182.0h2.7v1.4h-2.7zM549.5 180.7h1.4v1.4h-1.4zM629.6 180.7h1.4v1.4h-1.4zM644.5 180.7h1.4v1.4h-1.4zM651.3 180.7h1.4v1.4h-1.4zM655.4 180.7h1.4v1.4h-1.4zM542.7 179.3h1.4v1.4h-1.4zM549.5 179.3h1.4v1.4h-1.4zM552.2 179.3h2.7v1.4h-2.7zM645.9 179.3h1.4v1.4h-1.4zM651.3 179.3h1.4v1.4h-1.4zM655.4 179.3h1.4v1.4h-1.4zM544.1 178.0h1.4v1.4h-1.4zM548.1 178.0h1.4v1.4h-1.4zM550.9 178.0h1.4v1.4h-1.4zM554.9 178.0h1.4v1.4h-1.4zM647.2 178.0h1.4v1.4h-1.4zM652.6 178.0h2.7v1.4h-2.7zM541.4 176.6h5.4v1.4h-5.4zM550.9 176.6h1.4v1.4h-1.4zM554.9 176.6h2.7v1.4h-2.7zM647.2 176.6h1.4v1.4h-1.4zM649.9 176.6h2.7v1.4h-2.7zM540.0 175.3h1.4v1.4h-1.4zM546.8 175.3h1.4v1.4h-1.4zM552.2 175.3h2.7v1.4h-2.7zM645.9 175.3h1.4v1.4h-1.4zM648.6 175.3h1.4v1.4h-1.4zM652.6 175.3h1.4v1.4h-1.4zM540.0 173.9h1.4v1.4h-1.4zM546.8 173.9h5.4v1.4h-5.4zM553.6 173.9h1.4v1.4h-1.4zM645.9 173.9h1.4v1.4h-1.4zM652.6 173.9h1.4v1.4h-1.4zM655.4 173.9h2.7v1.4h-2.7zM659.4 173.9h1.4v1.4h-1.4zM541.4 172.5h5.4v1.4h-5.4zM552.2 172.5h2.7v1.4h-2.7zM651.3 172.5h1.4v1.4h-1.4zM654.0 172.5h1.4v1.4h-1.4zM660.8 172.5h1.4v1.4h-1.4zM541.4 171.2h1.4v1.4h-1.4zM544.1 171.2h1.4v1.4h-1.4zM649.9 171.2h1.4v1.4h-1.4zM654.0 171.2h1.4v1.4h-1.4zM662.1 171.2h1.4v1.4h-1.4zM698.8 171.2h2.7v1.4h-2.7zM540.0 169.8h1.4v1.4h-1.4zM644.5 169.8h2.7v1.4h-2.7zM648.6 169.8h1.4v1.4h-1.4zM654.0 169.8h1.4v1.4h-1.4zM663.5 169.8h1.4v1.4h-1.4zM697.4 169.8h1.4v1.4h-1.4zM701.5 169.8h1.4v1.4h-1.4zM538.6 168.5h1.4v1.4h-1.4zM643.1 168.5h1.4v1.4h-1.4zM652.6 168.5h1.4v1.4h-1.4zM659.4 168.5h1.4v1.4h-1.4zM663.5 168.5h1.4v1.4h-1.4zM697.4 168.5h1.4v1.4h-1.4zM701.5 168.5h1.4v1.4h-1.4zM706.9 168.5h2.7v1.4h-2.7zM537.3 167.1h1.4v1.4h-1.4zM644.5 167.1h1.4v1.4h-1.4zM651.3 167.1h1.4v1.4h-1.4zM659.4 167.1h1.4v1.4h-1.4zM663.5 167.1h1.4v1.4h-1.4zM698.8 167.1h2.7v1.4h-2.7zM705.6 167.1h1.4v1.4h-1.4zM709.6 167.1h1.4v1.4h-1.4zM537.3 165.7h1.4v1.4h-1.4zM635.0 165.7h1.4v1.4h-1.4zM644.5 165.7h5.4v1.4h-5.4zM651.3 165.7h1.4v1.4h-1.4zM659.4 165.7h1.4v1.4h-1.4zM663.5 165.7h1.4v1.4h-1.4zM668.9 165.7h2.7v1.4h-2.7zM705.6 165.7h1.4v1.4h-1.4zM709.6 165.7h1.4v1.4h-1.4zM538.6 164.4h1.4v1.4h-1.4zM599.7 164.4h2.7v1.4h-2.7zM636.4 164.4h1.4v1.4h-1.4zM643.1 164.4h1.4v1.4h-1.4zM649.9 164.4h2.7v1.4h-2.7zM660.8 164.4h2.7v1.4h-2.7zM667.6 164.4h1.4v1.4h-1.4zM671.6 164.4h1.4v1.4h-1.4zM706.9 164.4h2.7v1.4h-2.7zM599.7 163.0h1.4v1.4h-1.4zM605.1 163.0h1.4v1.4h-1.4zM611.9 163.0h1.4v1.4h-1.4zM636.4 163.0h2.7v1.4h-2.7zM649.9 163.0h2.7v1.4h-2.7zM660.8 163.0h2.7v1.4h-2.7zM667.6 163.0h1.4v1.4h-1.4zM671.6 163.0h1.4v1.4h-1.4zM682.5 163.0h2.7v1.4h-2.7zM540.0 161.7h1.4v1.4h-1.4zM601.1 161.7h1.4v1.4h-1.4zM606.5 161.7h1.4v1.4h-1.4zM609.2 161.7h2.7v1.4h-2.7zM636.4 161.7h1.4v1.4h-1.4zM649.9 161.7h1.4v1.4h-1.4zM652.6 161.7h1.4v1.4h-1.4zM659.4 161.7h1.4v1.4h-1.4zM663.5 161.7h1.4v1.4h-1.4zM668.9 161.7h2.7v1.4h-2.7zM681.1 161.7h1.4v1.4h-1.4zM685.2 161.7h1.4v1.4h-1.4zM540.0 160.3h1.4v1.4h-1.4zM544.1 160.3h2.7v1.4h-2.7zM601.1 160.3h1.4v1.4h-1.4zM607.9 160.3h1.4v1.4h-1.4zM622.8 160.3h1.4v1.4h-1.4zM636.4 160.3h1.4v1.4h-1.4zM649.9 160.3h2.7v1.4h-2.7zM654.0 160.3h1.4v1.4h-1.4zM663.5 160.3h1.4v1.4h-1.4zM671.6 160.3h2.7v1.4h-2.7zM681.1 160.3h1.4v1.4h-1.4zM685.2 160.3h1.4v1.4h-1.4zM687.9 160.3h2.7v1.4h-2.7zM541.4 159.0h2.7v1.4h-2.7zM599.7 159.0h1.4v1.4h-1.4zM622.8 159.0h1.4v1.4h-1.4zM636.4 159.0h2.7v1.4h-2.7zM644.5 159.0h5.4v1.4h-5.4zM652.6 159.0h2.7v1.4h-2.7zM663.5 159.0h1.4v1.4h-1.4zM670.3 159.0h1.4v1.4h-1.4zM674.4 159.0h1.4v1.4h-1.4zM682.5 159.0h2.7v1.4h-2.7zM686.6 159.0h1.4v1.4h-1.4zM690.6 159.0h1.4v1.4h-1.4zM538.6 157.6h5.4v1.4h-5.4zM580.7 157.6h1.4v1.4h-1.4zM584.8 157.6h1.4v1.4h-1.4zM601.1 157.6h4.1v1.4h-4.1zM622.8 157.6h1.4v1.4h-1.4zM641.8 157.6h2.7v1.4h-2.7zM647.2 157.6h1.4v1.4h-1.4zM652.6 157.6h2.7v1.4h-2.7zM663.5 157.6h1.4v1.4h-1.4zM670.3 157.6h1.4v1.4h-1.4zM674.4 157.6h1.4v1.4h-1.4zM686.6 157.6h1.4v1.4h-1.4zM690.6 157.6h1.4v1.4h-1.4zM537.3 156.2h1.4v1.4h-1.4zM544.1 156.2h1.4v1.4h-1.4zM582.1 156.2h2.7v1.4h-2.7zM618.7 156.2h4.1v1.4h-4.1zM652.6 156.2h2.7v1.4h-2.7zM663.5 156.2h1.4v1.4h-1.4zM671.6 156.2h2.7v1.4h-2.7zM687.9 156.2h2.7v1.4h-2.7zM537.3 154.9h1.4v1.4h-1.4zM641.8 154.9h1.4v1.4h-1.4zM652.6 154.9h2.7v1.4h-2.7zM658.1 154.9h2.7v1.4h-2.7zM664.9 154.9h1.4v1.4h-1.4zM668.9 154.9h5.4v1.4h-5.4zM682.5 154.9h2.7v1.4h-2.7zM538.6 153.5h1.4v1.4h-1.4zM637.7 153.5h1.4v1.4h-1.4zM640.4 153.5h1.4v1.4h-1.4zM643.1 153.5h1.4v1.4h-1.4zM648.6 153.5h4.1v1.4h-4.1zM654.0 153.5h1.4v1.4h-1.4zM658.1 153.5h1.4v1.4h-1.4zM660.8 153.5h1.4v1.4h-1.4zM666.2 153.5h2.7v1.4h-2.7zM674.4 153.5h1.4v1.4h-1.4zM681.1 153.5h1.4v1.4h-1.4zM685.2 153.5h1.4v1.4h-1.4zM540.0 152.2h1.4v1.4h-1.4zM636.4 152.2h1.4v1.4h-1.4zM639.1 152.2h2.7v1.4h-2.7zM643.1 152.2h1.4v1.4h-1.4zM647.2 152.2h5.4v1.4h-5.4zM654.0 152.2h1.4v1.4h-1.4zM660.8 152.2h1.4v1.4h-1.4zM666.2 152.2h2.7v1.4h-2.7zM674.4 152.2h1.4v1.4h-1.4zM677.1 152.2h2.7v1.4h-2.7zM681.1 152.2h1.4v1.4h-1.4zM685.2 152.2h1.4v1.4h-1.4zM696.1 152.2h2.7v1.4h-2.7zM541.4 150.8h1.4v1.4h-1.4zM635.0 150.8h1.4v1.4h-1.4zM637.7 150.8h1.4v1.4h-1.4zM641.8 150.8h1.4v1.4h-1.4zM644.5 150.8h2.7v1.4h-2.7zM652.6 150.8h2.7v1.4h-2.7zM664.9 150.8h1.4v1.4h-1.4zM673.0 150.8h1.4v1.4h-1.4zM675.7 150.8h1.4v1.4h-1.4zM679.8 150.8h1.4v1.4h-1.4zM682.5 150.8h2.7v1.4h-2.7zM694.7 150.8h1.4v1.4h-1.4zM698.8 150.8h1.4v1.4h-1.4zM542.7 149.4h1.4v1.4h-1.4zM635.0 149.4h1.4v1.4h-1.4zM641.8 149.4h1.4v1.4h-1.4zM644.5 149.4h1.4v1.4h-1.4zM654.0 149.4h1.4v1.4h-1.4zM664.9 149.4h1.4v1.4h-1.4zM667.6 149.4h1.4v1.4h-1.4zM671.6 149.4h1.4v1.4h-1.4zM675.7 149.4h1.4v1.4h-1.4zM679.8 149.4h1.4v1.4h-1.4zM693.3 149.4h2.7v1.4h-2.7zM698.8 149.4h1.4v1.4h-1.4zM641.8 148.1h2.7v1.4h-2.7zM655.4 148.1h1.4v1.4h-1.4zM666.2 148.1h1.4v1.4h-1.4zM668.9 148.1h2.7v1.4h-2.7zM677.1 148.1h2.7v1.4h-2.7zM692.0 148.1h1.4v1.4h-1.4zM696.1 148.1h2.7v1.4h-2.7zM550.9 146.7h1.4v1.4h-1.4zM554.9 146.7h2.7v1.4h-2.7zM560.4 146.7h1.4v1.4h-1.4zM586.1 146.7h1.4v1.4h-1.4zM641.8 146.7h2.7v1.4h-2.7zM655.4 146.7h2.7v1.4h-2.7zM666.2 146.7h1.4v1.4h-1.4zM679.8 146.7h2.7v1.4h-2.7zM692.0 146.7h1.4v1.4h-1.4zM696.1 146.7h1.4v1.4h-1.4zM542.7 145.4h1.4v1.4h-1.4zM552.2 145.4h2.7v1.4h-2.7zM557.6 145.4h2.7v1.4h-2.7zM586.1 145.4h1.4v1.4h-1.4zM641.8 145.4h1.4v1.4h-1.4zM644.5 145.4h4.1v1.4h-4.1zM654.0 145.4h1.4v1.4h-1.4zM656.7 145.4h1.4v1.4h-1.4zM662.1 145.4h4.1v1.4h-4.1zM678.4 145.4h1.4v1.4h-1.4zM682.5 145.4h1.4v1.4h-1.4zM693.3 145.4h2.7v1.4h-2.7zM553.6 144.0h1.4v1.4h-1.4zM557.6 144.0h2.7v1.4h-2.7zM584.8 144.0h2.7v1.4h-2.7zM641.8 144.0h2.7v1.4h-2.7zM647.2 144.0h1.4v1.4h-1.4zM654.0 144.0h1.4v1.4h-1.4zM656.7 144.0h1.4v1.4h-1.4zM660.8 144.0h1.4v1.4h-1.4zM666.2 144.0h2.7v1.4h-2.7zM678.4 144.0h1.4v1.4h-1.4zM682.5 144.0h1.4v1.4h-1.4zM545.4 142.6h1.4v1.4h-1.4zM549.5 142.6h1.4v1.4h-1.4zM554.9 142.6h2.7v1.4h-2.7zM560.4 142.6h1.4v1.4h-1.4zM583.4 142.6h1.4v1.4h-1.4zM586.1 142.6h1.4v1.4h-1.4zM640.4 142.6h1.4v1.4h-1.4zM644.5 142.6h2.7v1.4h-2.7zM655.4 142.6h1.4v1.4h-1.4zM658.1 142.6h2.7v1.4h-2.7zM664.9 142.6h1.4v1.4h-1.4zM668.9 142.6h1.4v1.4h-1.4zM679.8 142.6h2.7v1.4h-2.7zM554.9 141.3h2.7v1.4h-2.7zM560.4 141.3h1.4v1.4h-1.4zM567.1 141.3h1.4v1.4h-1.4zM582.1 141.3h1.4v1.4h-1.4zM586.1 141.3h1.4v1.4h-1.4zM644.5 141.3h2.7v1.4h-2.7zM649.9 141.3h2.7v1.4h-2.7zM656.7 141.3h4.1v1.4h-4.1zM664.9 141.3h1.4v1.4h-1.4zM668.9 141.3h1.4v1.4h-1.4zM553.6 139.9h1.4v1.4h-1.4zM557.6 139.9h2.7v1.4h-2.7zM568.5 139.9h1.4v1.4h-1.4zM571.2 139.9h1.4v1.4h-1.4zM582.1 139.9h1.4v1.4h-1.4zM586.1 139.9h1.4v1.4h-1.4zM647.2 139.9h2.7v1.4h-2.7zM652.6 139.9h1.4v1.4h-1.4zM660.8 139.9h1.4v1.4h-1.4zM666.2 139.9h2.7v1.4h-2.7zM553.6 138.6h1.4v1.4h-1.4zM557.6 138.6h2.7v1.4h-2.7zM567.1 138.6h1.4v1.4h-1.4zM582.1 138.6h1.4v1.4h-1.4zM586.1 138.6h1.4v1.4h-1.4zM590.2 138.6h1.4v1.4h-1.4zM647.2 138.6h2.7v1.4h-2.7zM654.0 138.6h1.4v1.4h-1.4zM662.1 138.6h1.4v1.4h-1.4zM554.9 137.2h2.7v1.4h-2.7zM560.4 137.2h1.4v1.4h-1.4zM568.5 137.2h1.4v1.4h-1.4zM580.7 137.2h1.4v1.4h-1.4zM587.5 137.2h2.7v1.4h-2.7zM644.5 137.2h2.7v1.4h-2.7zM649.9 137.2h1.4v1.4h-1.4zM655.4 137.2h4.1v1.4h-4.1zM663.5 137.2h1.4v1.4h-1.4zM544.1 135.9h2.7v1.4h-2.7zM561.7 135.9h1.4v1.4h-1.4zM568.5 135.9h1.4v1.4h-1.4zM571.2 135.9h1.4v1.4h-1.4zM580.7 135.9h4.1v1.4h-4.1zM591.6 135.9h1.4v1.4h-1.4zM622.8 135.9h2.7v1.4h-2.7zM628.2 135.9h1.4v1.4h-1.4zM645.9 135.9h1.4v1.4h-1.4zM649.9 135.9h1.4v1.4h-1.4zM655.4 135.9h2.7v1.4h-2.7zM542.7 134.5h1.4v1.4h-1.4zM546.8 134.5h1.4v1.4h-1.4zM563.1 134.5h5.4v1.4h-5.4zM569.9 134.5h1.4v1.4h-1.4zM584.8 134.5h1.4v1.4h-1.4zM592.9 134.5h1.4v1.4h-1.4zM621.4 134.5h1.4v1.4h-1.4zM625.5 134.5h2.7v1.4h-2.7zM645.9 134.5h1.4v1.4h-1.4zM649.9 134.5h1.4v1.4h-1.4zM654.0 134.5h1.4v1.4h-1.4zM658.1 134.5h2.7v1.4h-2.7zM663.5 134.5h1.4v1.4h-1.4zM542.7 133.1h1.4v1.4h-1.4zM546.8 133.1h1.4v1.4h-1.4zM552.2 133.1h2.7v1.4h-2.7zM569.9 133.1h1.4v1.4h-1.4zM573.9 133.1h1.4v1.4h-1.4zM578.0 133.1h1.4v1.4h-1.4zM584.8 133.1h1.4v1.4h-1.4zM594.3 133.1h1.4v1.4h-1.4zM606.5 133.1h1.4v1.4h-1.4zM614.6 133.1h2.7v1.4h-2.7zM621.4 133.1h4.1v1.4h-4.1zM626.9 133.1h1.4v1.4h-1.4zM630.9 133.1h2.7v1.4h-2.7zM645.9 133.1h1.4v1.4h-1.4zM649.9 133.1h1.4v1.4h-1.4zM652.6 133.1h2.7v1.4h-2.7zM658.1 133.1h2.7v1.4h-2.7zM663.5 133.1h1.4v1.4h-1.4zM544.1 131.8h2.7v1.4h-2.7zM550.9 131.8h1.4v1.4h-1.4zM554.9 131.8h1.4v1.4h-1.4zM569.9 131.8h1.4v1.4h-1.4zM573.9 131.8h1.4v1.4h-1.4zM579.4 131.8h5.4v1.4h-5.4zM595.6 131.8h1.4v1.4h-1.4zM603.8 131.8h2.7v1.4h-2.7zM617.4 131.8h1.4v1.4h-1.4zM625.5 131.8h1.4v1.4h-1.4zM628.2 131.8h2.7v1.4h-2.7zM644.5 131.8h1.4v1.4h-1.4zM647.2 131.8h2.7v1.4h-2.7zM651.3 131.8h1.4v1.4h-1.4zM655.4 131.8h2.7v1.4h-2.7zM660.8 131.8h2.7v1.4h-2.7zM550.9 130.4h1.4v1.4h-1.4zM554.9 130.4h1.4v1.4h-1.4zM569.9 130.4h1.4v1.4h-1.4zM573.9 130.4h1.4v1.4h-1.4zM576.6 130.4h2.7v1.4h-2.7zM582.1 130.4h5.4v1.4h-5.4zM597.0 130.4h1.4v1.4h-1.4zM601.1 130.4h1.4v1.4h-1.4zM605.1 130.4h1.4v1.4h-1.4zM618.7 130.4h1.4v1.4h-1.4zM626.9 130.4h1.4v1.4h-1.4zM632.3 130.4h1.4v1.4h-1.4zM643.1 130.4h1.4v1.4h-1.4zM651.3 130.4h1.4v1.4h-1.4zM655.4 130.4h1.4v1.4h-1.4zM552.2 129.1h2.7v1.4h-2.7zM571.2 129.1h2.7v1.4h-2.7zM575.3 129.1h1.4v1.4h-1.4zM579.4 129.1h2.7v1.4h-2.7zM587.5 129.1h1.4v1.4h-1.4zM597.0 129.1h1.4v1.4h-1.4zM601.1 129.1h1.4v1.4h-1.4zM605.1 129.1h1.4v1.4h-1.4zM614.6 129.1h1.4v1.4h-1.4zM620.1 129.1h1.4v1.4h-1.4zM628.2 129.1h1.4v1.4h-1.4zM633.6 129.1h1.4v1.4h-1.4zM636.4 129.1h2.7v1.4h-2.7zM644.5 129.1h1.4v1.4h-1.4zM651.3 129.1h1.4v1.4h-1.4zM655.4 129.1h1.4v1.4h-1.4zM557.6 127.7h2.7v1.4h-2.7zM573.9 127.7h2.7v1.4h-2.7zM579.4 127.7h2.7v1.4h-2.7zM587.5 127.7h1.4v1.4h-1.4zM597.0 127.7h1.4v1.4h-1.4zM601.1 127.7h1.4v1.4h-1.4zM605.1 127.7h1.4v1.4h-1.4zM614.6 127.7h1.4v1.4h-1.4zM617.4 127.7h2.7v1.4h-2.7zM621.4 127.7h1.4v1.4h-1.4zM628.2 127.7h1.4v1.4h-1.4zM633.6 127.7h2.7v1.4h-2.7zM639.1 127.7h2.7v1.4h-2.7zM647.2 127.7h1.4v1.4h-1.4zM651.3 127.7h1.4v1.4h-1.4zM655.4 127.7h5.4v1.4h-5.4zM556.3 126.3h1.4v1.4h-1.4zM560.4 126.3h1.4v1.4h-1.4zM572.6 126.3h1.4v1.4h-1.4zM576.6 126.3h2.7v1.4h-2.7zM582.1 126.3h1.4v1.4h-1.4zM587.5 126.3h1.4v1.4h-1.4zM597.0 126.3h1.4v1.4h-1.4zM601.1 126.3h1.4v1.4h-1.4zM606.5 126.3h1.4v1.4h-1.4zM616.0 126.3h1.4v1.4h-1.4zM620.1 126.3h1.4v1.4h-1.4zM622.8 126.3h5.4v1.4h-5.4zM632.3 126.3h1.4v1.4h-1.4zM636.4 126.3h2.7v1.4h-2.7zM641.8 126.3h1.4v1.4h-1.4zM652.6 126.3h2.7v1.4h-2.7zM660.8 126.3h1.4v1.4h-1.4zM556.3 125.0h1.4v1.4h-1.4zM560.4 125.0h1.4v1.4h-1.4zM572.6 125.0h1.4v1.4h-1.4zM576.6 125.0h1.4v1.4h-1.4zM583.4 125.0h1.4v1.4h-1.4zM587.5 125.0h1.4v1.4h-1.4zM597.0 125.0h1.4v1.4h-1.4zM602.4 125.0h1.4v1.4h-1.4zM606.5 125.0h1.4v1.4h-1.4zM620.1 125.0h1.4v1.4h-1.4zM632.3 125.0h1.4v1.4h-1.4zM636.4 125.0h2.7v1.4h-2.7zM641.8 125.0h1.4v1.4h-1.4zM654.0 125.0h1.4v1.4h-1.4zM660.8 125.0h1.4v1.4h-1.4zM666.2 125.0h2.7v1.4h-2.7zM557.6 123.6h2.7v1.4h-2.7zM573.9 123.6h2.7v1.4h-2.7zM584.8 123.6h2.7v1.4h-2.7zM597.0 123.6h1.4v1.4h-1.4zM603.8 123.6h2.7v1.4h-2.7zM618.7 123.6h1.4v1.4h-1.4zM633.6 123.6h2.7v1.4h-2.7zM639.1 123.6h2.7v1.4h-2.7zM647.2 123.6h1.4v1.4h-1.4zM654.0 123.6h1.4v1.4h-1.4zM660.8 123.6h1.4v1.4h-1.4zM664.9 123.6h1.4v1.4h-1.4zM668.9 123.6h1.4v1.4h-1.4zM571.2 122.3h2.7v1.4h-2.7zM584.8 122.3h1.4v1.4h-1.4zM587.5 122.3h2.7v1.4h-2.7zM592.9 122.3h1.4v1.4h-1.4zM617.4 122.3h1.4v1.4h-1.4zM620.1 122.3h2.7v1.4h-2.7zM635.0 122.3h1.4v1.4h-1.4zM639.1 122.3h2.7v1.4h-2.7zM644.5 122.3h1.4v1.4h-1.4zM654.0 122.3h1.4v1.4h-1.4zM660.8 122.3h1.4v1.4h-1.4zM664.9 122.3h1.4v1.4h-1.4zM668.9 122.3h1.4v1.4h-1.4zM569.9 120.9h1.4v1.4h-1.4zM573.9 120.9h1.4v1.4h-1.4zM583.4 120.9h1.4v1.4h-1.4zM590.2 120.9h2.7v1.4h-2.7zM607.9 120.9h1.4v1.4h-1.4zM611.9 120.9h2.7v1.4h-2.7zM616.0 120.9h1.4v1.4h-1.4zM618.7 120.9h1.4v1.4h-1.4zM622.8 120.9h1.4v1.4h-1.4zM636.4 120.9h2.7v1.4h-2.7zM641.8 120.9h2.7v1.4h-2.7zM654.0 120.9h1.4v1.4h-1.4zM659.4 120.9h1.4v1.4h-1.4zM666.2 120.9h2.7v1.4h-2.7zM557.6 119.6h5.4v1.4h-5.4zM565.8 119.6h5.4v1.4h-5.4zM573.9 119.6h1.4v1.4h-1.4zM583.4 119.6h1.4v1.4h-1.4zM590.2 119.6h1.4v1.4h-1.4zM598.4 119.6h2.7v1.4h-2.7zM614.6 119.6h2.7v1.4h-2.7zM618.7 119.6h1.4v1.4h-1.4zM622.8 119.6h1.4v1.4h-1.4zM654.0 119.6h1.4v1.4h-1.4zM658.1 119.6h1.4v1.4h-1.4zM556.3 118.2h1.4v1.4h-1.4zM563.1 118.2h2.7v1.4h-2.7zM571.2 118.2h2.7v1.4h-2.7zM584.8 118.2h1.4v1.4h-1.4zM587.5 118.2h2.7v1.4h-2.7zM591.6 118.2h1.4v1.4h-1.4zM597.0 118.2h1.4v1.4h-1.4zM601.1 118.2h1.4v1.4h-1.4zM606.5 118.2h1.4v1.4h-1.4zM613.3 118.2h1.4v1.4h-1.4zM617.4 118.2h1.4v1.4h-1.4zM620.1 118.2h2.7v1.4h-2.7zM655.4 118.2h2.7v1.4h-2.7zM554.9 116.8h2.7v1.4h-2.7zM563.1 116.8h2.7v1.4h-2.7zM573.9 116.8h2.7v1.4h-2.7zM587.5 116.8h2.7v1.4h-2.7zM591.6 116.8h1.4v1.4h-1.4zM595.6 116.8h1.4v1.4h-1.4zM602.4 116.8h1.4v1.4h-1.4zM606.5 116.8h1.4v1.4h-1.4zM613.3 116.8h1.4v1.4h-1.4zM617.4 116.8h1.4v1.4h-1.4zM647.2 116.8h2.7v1.4h-2.7zM666.2 116.8h2.7v1.4h-2.7zM553.6 115.5h1.4v1.4h-1.4zM557.6 115.5h5.4v1.4h-5.4zM564.4 115.5h1.4v1.4h-1.4zM576.6 115.5h1.4v1.4h-1.4zM586.1 115.5h1.4v1.4h-1.4zM590.2 115.5h1.4v1.4h-1.4zM592.9 115.5h2.7v1.4h-2.7zM603.8 115.5h2.7v1.4h-2.7zM614.6 115.5h2.7v1.4h-2.7zM645.9 115.5h1.4v1.4h-1.4zM649.9 115.5h1.4v1.4h-1.4zM664.9 115.5h1.4v1.4h-1.4zM668.9 115.5h1.4v1.4h-1.4zM552.2 114.1h2.7v1.4h-2.7zM557.6 114.1h1.4v1.4h-1.4zM564.4 114.1h1.4v1.4h-1.4zM576.6 114.1h1.4v1.4h-1.4zM579.4 114.1h1.4v1.4h-1.4zM590.2 114.1h1.4v1.4h-1.4zM595.6 114.1h2.7v1.4h-2.7zM601.1 114.1h2.7v1.4h-2.7zM606.5 114.1h2.7v1.4h-2.7zM645.9 114.1h1.4v1.4h-1.4zM649.9 114.1h1.4v1.4h-1.4zM664.9 114.1h1.4v1.4h-1.4zM668.9 114.1h1.4v1.4h-1.4zM550.9 112.8h1.4v1.4h-1.4zM554.9 112.8h2.7v1.4h-2.7zM565.8 112.8h5.4v1.4h-5.4zM573.9 112.8h2.7v1.4h-2.7zM578.0 112.8h1.4v1.4h-1.4zM590.2 112.8h1.4v1.4h-1.4zM594.3 112.8h1.4v1.4h-1.4zM598.4 112.8h2.7v1.4h-2.7zM603.8 112.8h2.7v1.4h-2.7zM609.2 112.8h1.4v1.4h-1.4zM647.2 112.8h2.7v1.4h-2.7zM666.2 112.8h2.7v1.4h-2.7zM546.8 111.4h2.7v1.4h-2.7zM550.9 111.4h1.4v1.4h-1.4zM554.9 111.4h1.4v1.4h-1.4zM557.6 111.4h2.7v1.4h-2.7zM573.9 111.4h1.4v1.4h-1.4zM590.2 111.4h1.4v1.4h-1.4zM603.8 111.4h2.7v1.4h-2.7zM611.9 111.4h2.7v1.4h-2.7zM620.1 111.4h5.4v1.4h-5.4zM545.4 110.0h1.4v1.4h-1.4zM549.5 110.0h1.4v1.4h-1.4zM552.2 110.0h2.7v1.4h-2.7zM556.3 110.0h1.4v1.4h-1.4zM560.4 110.0h1.4v1.4h-1.4zM572.6 110.0h1.4v1.4h-1.4zM588.9 110.0h1.4v1.4h-1.4zM602.4 110.0h1.4v1.4h-1.4zM606.5 110.0h1.4v1.4h-1.4zM614.6 110.0h1.4v1.4h-1.4zM618.7 110.0h1.4v1.4h-1.4zM625.5 110.0h1.4v1.4h-1.4zM550.9 108.7h1.4v1.4h-1.4zM556.3 108.7h1.4v1.4h-1.4zM561.7 108.7h4.1v1.4h-4.1zM568.5 108.7h2.7v1.4h-2.7zM602.4 108.7h1.4v1.4h-1.4zM614.6 108.7h1.4v1.4h-1.4zM618.7 108.7h1.4v1.4h-1.4zM625.5 108.7h1.4v1.4h-1.4zM545.4 107.3h1.4v1.4h-1.4zM552.2 107.3h1.4v1.4h-1.4zM556.3 107.3h1.4v1.4h-1.4zM603.8 107.3h1.4v1.4h-1.4zM614.6 107.3h1.4v1.4h-1.4zM620.1 107.3h5.4v1.4h-5.4zM545.4 106.0h1.4v1.4h-1.4zM552.2 106.0h1.4v1.4h-1.4zM556.3 106.0h1.4v1.4h-1.4zM603.8 106.0h1.4v1.4h-1.4zM607.9 106.0h1.4v1.4h-1.4zM614.6 106.0h1.4v1.4h-1.4zM545.4 104.6h1.4v1.4h-1.4zM552.2 104.6h1.4v1.4h-1.4zM556.3 104.6h1.4v1.4h-1.4zM573.9 104.6h2.7v1.4h-2.7zM603.8 104.6h1.4v1.4h-1.4zM609.2 104.6h1.4v1.4h-1.4zM611.9 104.6h2.7v1.4h-2.7zM545.4 103.2h1.4v1.4h-1.4zM552.2 103.2h1.4v1.4h-1.4zM556.3 103.2h1.4v1.4h-1.4zM560.4 103.2h1.4v1.4h-1.4zM573.9 103.2h1.4v1.4h-1.4zM605.1 103.2h1.4v1.4h-1.4zM545.4 101.9h1.4v1.4h-1.4zM552.2 101.9h1.4v1.4h-1.4zM557.6 101.9h2.7v1.4h-2.7zM573.9 101.9h1.4v1.4h-1.4zM578.0 101.9h1.4v1.4h-1.4zM586.1 101.9h1.4v1.4h-1.4zM590.2 101.9h1.4v1.4h-1.4zM606.5 101.9h1.4v1.4h-1.4zM545.4 100.5h1.4v1.4h-1.4zM552.2 100.5h2.7v1.4h-2.7zM557.6 100.5h2.7v1.4h-2.7zM573.9 100.5h1.4v1.4h-1.4zM576.6 100.5h5.4v1.4h-5.4zM584.8 100.5h2.7v1.4h-2.7zM590.2 100.5h1.4v1.4h-1.4zM597.0 100.5h1.4v1.4h-1.4zM609.2 100.5h1.4v1.4h-1.4zM611.9 100.5h2.7v1.4h-2.7zM546.8 99.2h5.4v1.4h-5.4zM560.4 99.2h1.4v1.4h-1.4zM575.3 99.2h1.4v1.4h-1.4zM582.1 99.2h2.7v1.4h-2.7zM587.5 99.2h2.7v1.4h-2.7zM598.4 99.2h1.4v1.4h-1.4zM602.4 99.2h1.4v1.4h-1.4zM606.5 99.2h2.7v1.4h-2.7zM614.6 99.2h1.4v1.4h-1.4zM544.1 97.8h5.4v1.4h-5.4zM552.2 97.8h1.4v1.4h-1.4zM561.7 97.8h1.4v1.4h-1.4zM575.3 97.8h1.4v1.4h-1.4zM583.4 97.8h1.4v1.4h-1.4zM587.5 97.8h2.7v1.4h-2.7zM598.4 97.8h1.4v1.4h-1.4zM601.1 97.8h2.7v1.4h-2.7zM606.5 97.8h1.4v1.4h-1.4zM614.6 97.8h2.7v1.4h-2.7zM625.5 97.8h2.7v1.4h-2.7zM542.7 96.5h1.4v1.4h-1.4zM549.5 96.5h2.7v1.4h-2.7zM557.6 96.5h1.4v1.4h-1.4zM563.1 96.5h1.4v1.4h-1.4zM573.9 96.5h2.7v1.4h-2.7zM584.8 96.5h2.7v1.4h-2.7zM590.2 96.5h1.4v1.4h-1.4zM598.4 96.5h2.7v1.4h-2.7zM603.8 96.5h2.7v1.4h-2.7zM607.9 96.5h1.4v1.4h-1.4zM613.3 96.5h1.4v1.4h-1.4zM617.4 96.5h1.4v1.4h-1.4zM624.1 96.5h1.4v1.4h-1.4zM628.2 96.5h1.4v1.4h-1.4zM542.7 95.1h1.4v1.4h-1.4zM557.6 95.1h1.4v1.4h-1.4zM563.1 95.1h1.4v1.4h-1.4zM573.9 95.1h1.4v1.4h-1.4zM584.8 95.1h2.7v1.4h-2.7zM590.2 95.1h1.4v1.4h-1.4zM598.4 95.1h2.7v1.4h-2.7zM603.8 95.1h1.4v1.4h-1.4zM607.9 95.1h1.4v1.4h-1.4zM611.9 95.1h2.7v1.4h-2.7zM617.4 95.1h1.4v1.4h-1.4zM624.1 95.1h1.4v1.4h-1.4zM628.2 95.1h1.4v1.4h-1.4zM544.1 93.7h1.4v1.4h-1.4zM557.6 93.7h1.4v1.4h-1.4zM561.7 93.7h1.4v1.4h-1.4zM569.9 93.7h4.1v1.4h-4.1zM584.8 93.7h1.4v1.4h-1.4zM587.5 93.7h2.7v1.4h-2.7zM597.0 93.7h1.4v1.4h-1.4zM601.1 93.7h2.7v1.4h-2.7zM609.2 93.7h2.7v1.4h-2.7zM614.6 93.7h2.7v1.4h-2.7zM625.5 93.7h2.7v1.4h-2.7zM545.4 92.4h1.4v1.4h-1.4zM559.0 92.4h1.4v1.4h-1.4zM561.7 92.4h1.4v1.4h-1.4zM569.9 92.4h4.1v1.4h-4.1zM584.8 92.4h1.4v1.4h-1.4zM587.5 92.4h1.4v1.4h-1.4zM597.0 92.4h1.4v1.4h-1.4zM602.4 92.4h1.4v1.4h-1.4zM609.2 92.4h2.7v1.4h-2.7zM617.4 92.4h2.7v1.4h-2.7zM546.8 91.0h1.4v1.4h-1.4zM560.4 91.0h2.7v1.4h-2.7zM573.9 91.0h1.4v1.4h-1.4zM586.1 91.0h1.4v1.4h-1.4zM597.0 91.0h1.4v1.4h-1.4zM603.8 91.0h1.4v1.4h-1.4zM607.9 91.0h1.4v1.4h-1.4zM611.9 91.0h1.4v1.4h-1.4zM616.0 91.0h1.4v1.4h-1.4zM620.1 91.0h1.4v1.4h-1.4zM548.1 89.7h1.4v1.4h-1.4zM565.8 89.7h2.7v1.4h-2.7zM573.9 89.7h2.7v1.4h-2.7zM579.4 89.7h2.7v1.4h-2.7zM586.1 89.7h1.4v1.4h-1.4zM603.8 89.7h1.4v1.4h-1.4zM607.9 89.7h1.4v1.4h-1.4zM613.3 89.7h1.4v1.4h-1.4zM616.0 89.7h1.4v1.4h-1.4zM620.1 89.7h1.4v1.4h-1.4zM549.5 88.3h1.4v1.4h-1.4zM568.5 88.3h1.4v1.4h-1.4zM573.9 88.3h1.4v1.4h-1.4zM576.6 88.3h2.7v1.4h-2.7zM582.1 88.3h1.4v1.4h-1.4zM587.5 88.3h1.4v1.4h-1.4zM602.4 88.3h1.4v1.4h-1.4zM607.9 88.3h1.4v1.4h-1.4zM614.6 88.3h1.4v1.4h-1.4zM617.4 88.3h2.7v1.4h-2.7zM538.6 86.9h2.7v1.4h-2.7zM546.8 86.9h2.7v1.4h-2.7zM550.9 86.9h1.4v1.4h-1.4zM569.9 86.9h1.4v1.4h-1.4zM573.9 86.9h1.4v1.4h-1.4zM583.4 86.9h1.4v1.4h-1.4zM587.5 86.9h2.7v1.4h-2.7zM592.9 86.9h2.7v1.4h-2.7zM602.4 86.9h1.4v1.4h-1.4zM607.9 86.9h1.4v1.4h-1.4zM614.6 86.9h1.4v1.4h-1.4zM617.4 86.9h2.7v1.4h-2.7zM622.8 86.9h5.4v1.4h-5.4zM537.3 85.6h1.4v1.4h-1.4zM541.4 85.6h1.4v1.4h-1.4zM545.4 85.6h1.4v1.4h-1.4zM549.5 85.6h1.4v1.4h-1.4zM552.2 85.6h2.7v1.4h-2.7zM557.6 85.6h4.1v1.4h-4.1zM565.8 85.6h1.4v1.4h-1.4zM571.2 85.6h2.7v1.4h-2.7zM583.4 85.6h1.4v1.4h-1.4zM587.5 85.6h1.4v1.4h-1.4zM595.6 85.6h4.1v1.4h-4.1zM603.8 85.6h1.4v1.4h-1.4zM609.2 85.6h5.4v1.4h-5.4zM616.0 85.6h1.4v1.4h-1.4zM620.1 85.6h2.7v1.4h-2.7zM628.2 85.6h1.4v1.4h-1.4zM537.3 84.2h1.4v1.4h-1.4zM541.4 84.2h1.4v1.4h-1.4zM545.4 84.2h1.4v1.4h-1.4zM550.9 84.2h6.8v1.4h-6.8zM561.7 84.2h1.4v1.4h-1.4zM567.1 84.2h1.4v1.4h-1.4zM573.9 84.2h5.4v1.4h-5.4zM583.4 84.2h1.4v1.4h-1.4zM587.5 84.2h1.4v1.4h-1.4zM594.3 84.2h1.4v1.4h-1.4zM598.4 84.2h1.4v1.4h-1.4zM606.5 84.2h2.7v1.4h-2.7zM621.4 84.2h1.4v1.4h-1.4zM628.2 84.2h1.4v1.4h-1.4zM538.6 82.9h2.7v1.4h-2.7zM545.4 82.9h1.4v1.4h-1.4zM557.6 82.9h1.4v1.4h-1.4zM561.7 82.9h1.4v1.4h-1.4zM568.5 82.9h1.4v1.4h-1.4zM572.6 82.9h1.4v1.4h-1.4zM579.4 82.9h1.4v1.4h-1.4zM584.8 82.9h2.7v1.4h-2.7zM588.9 82.9h1.4v1.4h-1.4zM592.9 82.9h1.4v1.4h-1.4zM603.8 82.9h2.7v1.4h-2.7zM609.2 82.9h1.4v1.4h-1.4zM616.0 82.9h1.4v1.4h-1.4zM620.1 82.9h1.4v1.4h-1.4zM622.8 82.9h5.4v1.4h-5.4zM545.4 81.5h1.4v1.4h-1.4zM557.6 81.5h1.4v1.4h-1.4zM561.7 81.5h1.4v1.4h-1.4zM568.5 81.5h5.4v1.4h-5.4zM579.4 81.5h2.7v1.4h-2.7zM584.8 81.5h1.4v1.4h-1.4zM592.9 81.5h1.4v1.4h-1.4zM609.2 81.5h1.4v1.4h-1.4zM611.9 81.5h2.7v1.4h-2.7zM616.0 81.5h1.4v1.4h-1.4zM620.1 81.5h1.4v1.4h-1.4zM546.8 80.1h1.4v1.4h-1.4zM553.6 80.1h4.1v1.4h-4.1zM563.1 80.1h5.4v1.4h-5.4zM573.9 80.1h5.4v1.4h-5.4zM582.1 80.1h2.7v1.4h-2.7zM591.6 80.1h1.4v1.4h-1.4zM607.9 80.1h1.4v1.4h-1.4zM610.6 80.1h1.4v1.4h-1.4zM614.6 80.1h1.4v1.4h-1.4zM617.4 80.1h2.7v1.4h-2.7zM541.4 78.8h2.7v1.4h-2.7zM548.1 78.8h1.4v1.4h-1.4zM552.2 78.8h1.4v1.4h-1.4zM560.4 78.8h2.7v1.4h-2.7zM565.8 78.8h2.7v1.4h-2.7zM595.6 78.8h2.7v1.4h-2.7zM610.6 78.8h1.4v1.4h-1.4zM614.6 78.8h1.4v1.4h-1.4zM540.0 77.4h1.4v1.4h-1.4zM544.1 77.4h1.4v1.4h-1.4zM549.5 77.4h2.7v1.4h-2.7zM559.0 77.4h1.4v1.4h-1.4zM563.1 77.4h2.7v1.4h-2.7zM568.5 77.4h1.4v1.4h-1.4zM595.6 77.4h2.7v1.4h-2.7zM606.5 77.4h1.4v1.4h-1.4zM611.9 77.4h2.7v1.4h-2.7zM540.0 76.1h1.4v1.4h-1.4zM544.1 76.1h1.4v1.4h-1.4zM554.9 76.1h1.4v1.4h-1.4zM564.4 76.1h1.4v1.4h-1.4zM595.6 76.1h2.7v1.4h-2.7zM602.4 76.1h4.1v1.4h-4.1zM541.4 74.7h2.7v1.4h-2.7zM553.6 74.7h1.4v1.4h-1.4zM565.8 74.7h1.4v1.4h-1.4zM594.3 74.7h1.4v1.4h-1.4zM597.0 74.7h1.4v1.4h-1.4zM606.5 74.7h1.4v1.4h-1.4zM552.2 73.4h1.4v1.4h-1.4zM565.8 73.4h2.7v1.4h-2.7zM592.9 73.4h1.4v1.4h-1.4zM597.0 73.4h1.4v1.4h-1.4zM606.5 73.4h1.4v1.4h-1.4zM611.9 73.4h2.7v1.4h-2.7zM550.9 72.0h1.4v1.4h-1.4zM564.4 72.0h1.4v1.4h-1.4zM568.5 72.0h1.4v1.4h-1.4zM592.9 72.0h1.4v1.4h-1.4zM597.0 72.0h1.4v1.4h-1.4zM602.4 72.0h4.1v1.4h-4.1zM610.6 72.0h1.4v1.4h-1.4zM614.6 72.0h1.4v1.4h-1.4zM550.9 70.6h1.4v1.4h-1.4zM554.9 70.6h2.7v1.4h-2.7zM563.1 70.6h1.4v1.4h-1.4zM568.5 70.6h1.4v1.4h-1.4zM587.5 70.6h2.7v1.4h-2.7zM592.9 70.6h1.4v1.4h-1.4zM595.6 70.6h1.4v1.4h-1.4zM601.1 70.6h1.4v1.4h-1.4zM610.6 70.6h1.4v1.4h-1.4zM614.6 70.6h2.7v1.4h-2.7zM552.2 69.3h2.7v1.4h-2.7zM563.1 69.3h1.4v1.4h-1.4zM567.1 69.3h1.4v1.4h-1.4zM586.1 69.3h1.4v1.4h-1.4zM588.9 69.3h1.4v1.4h-1.4zM592.9 69.3h2.7v1.4h-2.7zM611.9 69.3h2.7v1.4h-2.7zM617.4 69.3h1.4v1.4h-1.4zM553.6 67.9h1.4v1.4h-1.4zM563.1 67.9h1.4v1.4h-1.4zM565.8 67.9h2.7v1.4h-2.7zM580.7 67.9h1.4v1.4h-1.4zM587.5 67.9h2.7v1.4h-2.7zM592.9 67.9h2.7v1.4h-2.7zM613.3 67.9h1.4v1.4h-1.4zM617.4 67.9h1.4v1.4h-1.4zM554.9 66.6h2.7v1.4h-2.7zM563.1 66.6h2.7v1.4h-2.7zM568.5 66.6h1.4v1.4h-1.4zM582.1 66.6h1.4v1.4h-1.4zM590.2 66.6h2.7v1.4h-2.7zM595.6 66.6h1.4v1.4h-1.4zM601.1 66.6h1.4v1.4h-1.4zM614.6 66.6h2.7v1.4h-2.7zM552.2 65.2h2.7v1.4h-2.7zM559.0 65.2h1.4v1.4h-1.4zM568.5 65.2h2.7v1.4h-2.7zM578.0 65.2h1.4v1.4h-1.4zM590.2 65.2h1.4v1.4h-1.4zM595.6 65.2h1.4v1.4h-1.4zM603.8 65.2h1.4v1.4h-1.4zM606.5 65.2h2.7v1.4h-2.7zM622.8 65.2h2.7v1.4h-2.7zM550.9 63.8h1.4v1.4h-1.4zM554.9 63.8h1.4v1.4h-1.4zM560.4 63.8h1.4v1.4h-1.4zM567.1 63.8h1.4v1.4h-1.4zM571.2 63.8h1.4v1.4h-1.4zM578.0 63.8h1.4v1.4h-1.4zM587.5 63.8h2.7v1.4h-2.7zM594.3 63.8h1.4v1.4h-1.4zM605.1 63.8h1.4v1.4h-1.4zM609.2 63.8h1.4v1.4h-1.4zM621.4 63.8h1.4v1.4h-1.4zM625.5 63.8h1.4v1.4h-1.4zM550.9 62.5h1.4v1.4h-1.4zM554.9 62.5h1.4v1.4h-1.4zM561.7 62.5h1.4v1.4h-1.4zM565.8 62.5h1.4v1.4h-1.4zM572.6 62.5h1.4v1.4h-1.4zM576.6 62.5h2.7v1.4h-2.7zM584.8 62.5h1.4v1.4h-1.4zM587.5 62.5h2.7v1.4h-2.7zM594.3 62.5h1.4v1.4h-1.4zM605.1 62.5h1.4v1.4h-1.4zM609.2 62.5h1.4v1.4h-1.4zM617.4 62.5h2.7v1.4h-2.7zM621.4 62.5h1.4v1.4h-1.4zM625.5 62.5h1.4v1.4h-1.4zM552.2 61.1h2.7v1.4h-2.7zM563.1 61.1h2.7v1.4h-2.7zM573.9 61.1h2.7v1.4h-2.7zM579.4 61.1h5.4v1.4h-5.4zM586.1 61.1h1.4v1.4h-1.4zM590.2 61.1h1.4v1.4h-1.4zM595.6 61.1h4.1v1.4h-4.1zM603.8 61.1h1.4v1.4h-1.4zM606.5 61.1h2.7v1.4h-2.7zM616.0 61.1h1.4v1.4h-1.4zM620.1 61.1h1.4v1.4h-1.4zM622.8 61.1h2.7v1.4h-2.7zM582.1 59.8h2.7v1.4h-2.7zM586.1 59.8h1.4v1.4h-1.4zM590.2 59.8h1.4v1.4h-1.4zM616.0 59.8h1.4v1.4h-1.4zM620.1 59.8h1.4v1.4h-1.4zM580.7 58.4h1.4v1.4h-1.4zM584.8 58.4h1.4v1.4h-1.4zM587.5 58.4h2.7v1.4h-2.7zM617.4 58.4h2.7v1.4h-2.7zM573.9 57.1h2.7v1.4h-2.7zM580.7 57.1h1.4v1.4h-1.4zM584.8 57.1h1.4v1.4h-1.4zM572.6 55.7h1.4v1.4h-1.4zM576.6 55.7h1.4v1.4h-1.4zM582.1 55.7h2.7v1.4h-2.7zM572.6 54.3h1.4v1.4h-1.4zM576.6 54.3h1.4v1.4h-1.4zM573.9 53.0h2.7v1.4h-2.7z"/>
<path fill="#b80e06" d="M587.5 190.2h2.7v1.4h-2.7zM586.1 188.8h1.4v1.4h-1.4zM590.2 188.8h1.4v1.4h-1.4zM595.6 188.8h2.7v1.4h-2.7zM603.8 188.8h5.4v1.4h-5.4zM625.5 188.8h2.7v1.4h-2.7zM633.6 188.8h2.7v1.4h-2.7zM561.7 187.5h1.4v1.4h-1.4zM565.8 187.5h1.4v1.4h-1.4zM586.1 187.5h1.4v1.4h-1.4zM590.2 187.5h1.4v1.4h-1.4zM595.6 187.5h2.7v1.4h-2.7zM603.8 187.5h1.4v1.4h-1.4zM609.2 187.5h1.4v1.4h-1.4zM625.5 187.5h2.7v1.4h-2.7zM633.6 187.5h1.4v1.4h-1.4zM636.4 187.5h1.4v1.4h-1.4zM544.1 186.1h2.7v1.4h-2.7zM554.9 186.1h2.7v1.4h-2.7zM573.9 186.1h2.7v1.4h-2.7zM579.4 186.1h2.7v1.4h-2.7zM592.9 186.1h2.7v1.4h-2.7zM603.8 186.1h1.4v1.4h-1.4zM610.6 186.1h6.8v1.4h-6.8zM628.2 186.1h2.7v1.4h-2.7zM633.6 186.1h1.4v1.4h-1.4zM637.7 186.1h1.4v1.4h-1.4zM544.1 184.8h2.7v1.4h-2.7zM554.9 184.8h2.7v1.4h-2.7zM568.5 184.8h1.4v1.4h-1.4zM573.9 184.8h1.4v1.4h-1.4zM582.1 184.8h1.4v1.4h-1.4zM584.8 184.8h1.4v1.4h-1.4zM617.4 184.8h1.4v1.4h-1.4zM626.9 184.8h1.4v1.4h-1.4zM629.6 184.8h1.4v1.4h-1.4zM633.6 184.8h1.4v1.4h-1.4zM544.1 183.4h2.7v1.4h-2.7zM561.7 183.4h1.4v1.4h-1.4zM569.9 183.4h1.4v1.4h-1.4zM573.9 183.4h1.4v1.4h-1.4zM618.7 183.4h8.1v1.4h-8.1zM629.6 183.4h1.4v1.4h-1.4zM633.6 183.4h1.4v1.4h-1.4zM639.1 183.4h1.4v1.4h-1.4zM546.8 182.0h1.4v1.4h-1.4zM560.4 182.0h1.4v1.4h-1.4zM571.2 182.0h1.4v1.4h-1.4zM629.6 182.0h1.4v1.4h-1.4zM632.3 182.0h1.4v1.4h-1.4zM542.7 180.7h1.4v1.4h-1.4zM559.0 180.7h1.4v1.4h-1.4zM630.9 180.7h1.4v1.4h-1.4zM640.4 180.7h4.1v1.4h-4.1zM652.6 180.7h2.7v1.4h-2.7zM559.0 179.3h1.4v1.4h-1.4zM643.1 179.3h2.7v1.4h-2.7zM652.6 179.3h2.7v1.4h-2.7zM545.4 178.0h2.7v1.4h-2.7zM552.2 178.0h2.7v1.4h-2.7zM559.0 178.0h1.4v1.4h-1.4zM643.1 178.0h1.4v1.4h-1.4zM552.2 176.6h2.7v1.4h-2.7zM557.6 176.6h1.4v1.4h-1.4zM643.1 176.6h1.4v1.4h-1.4zM541.4 175.3h5.4v1.4h-5.4zM554.9 175.3h1.4v1.4h-1.4zM644.5 175.3h1.4v1.4h-1.4zM649.9 175.3h2.7v1.4h-2.7zM541.4 173.9h5.4v1.4h-5.4zM554.9 173.9h1.4v1.4h-1.4zM560.4 173.9h2.7v1.4h-2.7zM644.5 173.9h1.4v1.4h-1.4zM647.2 173.9h5.4v1.4h-5.4zM658.1 173.9h1.4v1.4h-1.4zM546.8 172.5h5.4v1.4h-5.4zM554.9 172.5h1.4v1.4h-1.4zM557.6 172.5h4.1v1.4h-4.1zM649.9 172.5h1.4v1.4h-1.4zM655.4 172.5h1.4v1.4h-1.4zM542.7 171.2h1.4v1.4h-1.4zM545.4 171.2h1.4v1.4h-1.4zM552.2 171.2h2.7v1.4h-2.7zM655.4 171.2h1.4v1.4h-1.4zM660.8 171.2h1.4v1.4h-1.4zM643.1 169.8h1.4v1.4h-1.4zM647.2 169.8h1.4v1.4h-1.4zM655.4 169.8h1.4v1.4h-1.4zM658.1 169.8h5.4v1.4h-5.4zM698.8 169.8h2.7v1.4h-2.7zM540.0 168.5h1.4v1.4h-1.4zM641.8 168.5h1.4v1.4h-1.4zM654.0 168.5h1.4v1.4h-1.4zM658.1 168.5h1.4v1.4h-1.4zM660.8 168.5h2.7v1.4h-2.7zM698.8 168.5h2.7v1.4h-2.7zM538.6 167.1h1.4v1.4h-1.4zM582.1 167.1h2.7v1.4h-2.7zM602.4 167.1h2.7v1.4h-2.7zM635.0 167.1h1.4v1.4h-1.4zM643.1 167.1h1.4v1.4h-1.4zM652.6 167.1h1.4v1.4h-1.4zM660.8 167.1h2.7v1.4h-2.7zM706.9 167.1h2.7v1.4h-2.7zM538.6 165.7h1.4v1.4h-1.4zM582.1 165.7h2.7v1.4h-2.7zM601.1 165.7h1.4v1.4h-1.4zM605.1 165.7h1.4v1.4h-1.4zM633.6 165.7h1.4v1.4h-1.4zM636.4 165.7h1.4v1.4h-1.4zM643.1 165.7h1.4v1.4h-1.4zM652.6 165.7h1.4v1.4h-1.4zM660.8 165.7h2.7v1.4h-2.7zM706.9 165.7h2.7v1.4h-2.7zM540.0 164.4h1.4v1.4h-1.4zM571.2 164.4h2.7v1.4h-2.7zM576.6 164.4h2.7v1.4h-2.7zM605.1 164.4h1.4v1.4h-1.4zM611.9 164.4h1.4v1.4h-1.4zM635.0 164.4h1.4v1.4h-1.4zM637.7 164.4h1.4v1.4h-1.4zM641.8 164.4h1.4v1.4h-1.4zM644.5 164.4h5.4v1.4h-5.4zM652.6 164.4h1.4v1.4h-1.4zM659.4 164.4h1.4v1.4h-1.4zM668.9 164.4h2.7v1.4h-2.7zM540.0 163.0h1.4v1.4h-1.4zM571.2 163.0h1.4v1.4h-1.4zM598.4 163.0h1.4v1.4h-1.4zM610.6 163.0h1.4v1.4h-1.4zM613.3 163.0h1.4v1.4h-1.4zM635.0 163.0h1.4v1.4h-1.4zM641.8 163.0h2.7v1.4h-2.7zM648.6 163.0h1.4v1.4h-1.4zM652.6 163.0h1.4v1.4h-1.4zM659.4 163.0h1.4v1.4h-1.4zM668.9 163.0h2.7v1.4h-2.7zM599.7 161.7h1.4v1.4h-1.4zM607.9 161.7h1.4v1.4h-1.4zM611.9 161.7h1.4v1.4h-1.4zM622.8 161.7h1.4v1.4h-1.4zM635.0 161.7h1.4v1.4h-1.4zM637.7 161.7h1.4v1.4h-1.4zM648.6 161.7h1.4v1.4h-1.4zM654.0 161.7h1.4v1.4h-1.4zM658.1 161.7h1.4v1.4h-1.4zM660.8 161.7h2.7v1.4h-2.7zM682.5 161.7h2.7v1.4h-2.7zM541.4 160.3h2.7v1.4h-2.7zM599.7 160.3h1.4v1.4h-1.4zM609.2 160.3h1.4v1.4h-1.4zM617.4 160.3h2.7v1.4h-2.7zM621.4 160.3h1.4v1.4h-1.4zM635.0 160.3h1.4v1.4h-1.4zM637.7 160.3h1.4v1.4h-1.4zM645.9 160.3h4.1v1.4h-4.1zM655.4 160.3h1.4v1.4h-1.4zM658.1 160.3h2.7v1.4h-2.7zM662.1 160.3h1.4v1.4h-1.4zM682.5 160.3h2.7v1.4h-2.7zM545.4 159.0h1.4v1.4h-1.4zM579.4 159.0h2.7v1.4h-2.7zM584.8 159.0h1.4v1.4h-1.4zM607.9 159.0h1.4v1.4h-1.4zM621.4 159.0h1.4v1.4h-1.4zM624.1 159.0h1.4v1.4h-1.4zM635.0 159.0h1.4v1.4h-1.4zM641.8 159.0h2.7v1.4h-2.7zM649.9 159.0h2.7v1.4h-2.7zM655.4 159.0h1.4v1.4h-1.4zM662.1 159.0h1.4v1.4h-1.4zM671.6 159.0h2.7v1.4h-2.7zM687.9 159.0h2.7v1.4h-2.7zM545.4 157.6h1.4v1.4h-1.4zM579.4 157.6h1.4v1.4h-1.4zM582.1 157.6h2.7v1.4h-2.7zM586.1 157.6h1.4v1.4h-1.4zM599.7 157.6h1.4v1.4h-1.4zM605.1 157.6h1.4v1.4h-1.4zM618.7 157.6h4.1v1.4h-4.1zM624.1 157.6h1.4v1.4h-1.4zM636.4 157.6h2.7v1.4h-2.7zM644.5 157.6h2.7v1.4h-2.7zM648.6 157.6h1.4v1.4h-1.4zM651.3 157.6h1.4v1.4h-1.4zM655.4 157.6h1.4v1.4h-1.4zM662.1 157.6h1.4v1.4h-1.4zM671.6 157.6h2.7v1.4h-2.7zM687.9 157.6h2.7v1.4h-2.7zM538.6 156.2h5.4v1.4h-5.4zM545.4 156.2h1.4v1.4h-1.4zM578.0 156.2h4.1v1.4h-4.1zM584.8 156.2h1.4v1.4h-1.4zM622.8 156.2h1.4v1.4h-1.4zM641.8 156.2h2.7v1.4h-2.7zM651.3 156.2h1.4v1.4h-1.4zM655.4 156.2h1.4v1.4h-1.4zM658.1 156.2h2.7v1.4h-2.7zM662.1 156.2h1.4v1.4h-1.4zM538.6 154.9h1.4v1.4h-1.4zM544.1 154.9h1.4v1.4h-1.4zM554.9 154.9h2.7v1.4h-2.7zM578.0 154.9h1.4v1.4h-1.4zM582.1 154.9h2.7v1.4h-2.7zM618.7 154.9h1.4v1.4h-1.4zM643.1 154.9h1.4v1.4h-1.4zM648.6 154.9h4.1v1.4h-4.1zM655.4 154.9h2.7v1.4h-2.7zM660.8 154.9h4.1v1.4h-4.1zM540.0 153.5h1.4v1.4h-1.4zM549.5 153.5h2.7v1.4h-2.7zM556.3 153.5h2.7v1.4h-2.7zM587.5 153.5h1.4v1.4h-1.4zM636.4 153.5h1.4v1.4h-1.4zM639.1 153.5h1.4v1.4h-1.4zM647.2 153.5h1.4v1.4h-1.4zM655.4 153.5h2.7v1.4h-2.7zM662.1 153.5h1.4v1.4h-1.4zM668.9 153.5h5.4v1.4h-5.4zM682.5 153.5h2.7v1.4h-2.7zM541.4 152.2h1.4v1.4h-1.4zM549.5 152.2h2.7v1.4h-2.7zM557.6 152.2h2.7v1.4h-2.7zM635.0 152.2h1.4v1.4h-1.4zM644.5 152.2h2.7v1.4h-2.7zM655.4 152.2h1.4v1.4h-1.4zM658.1 152.2h2.7v1.4h-2.7zM662.1 152.2h1.4v1.4h-1.4zM673.0 152.2h1.4v1.4h-1.4zM682.5 152.2h2.7v1.4h-2.7zM542.7 150.8h1.4v1.4h-1.4zM578.0 150.8h1.4v1.4h-1.4zM639.1 150.8h2.7v1.4h-2.7zM647.2 150.8h5.4v1.4h-5.4zM655.4 150.8h1.4v1.4h-1.4zM662.1 150.8h2.7v1.4h-2.7zM667.6 150.8h1.4v1.4h-1.4zM671.6 150.8h1.4v1.4h-1.4zM677.1 150.8h2.7v1.4h-2.7zM696.1 150.8h2.7v1.4h-2.7zM576.6 149.4h2.7v1.4h-2.7zM636.4 149.4h1.4v1.4h-1.4zM640.4 149.4h1.4v1.4h-1.4zM645.9 149.4h1.4v1.4h-1.4zM652.6 149.4h1.4v1.4h-1.4zM655.4 149.4h1.4v1.4h-1.4zM663.5 149.4h1.4v1.4h-1.4zM677.1 149.4h2.7v1.4h-2.7zM696.1 149.4h2.7v1.4h-2.7zM542.7 148.1h1.4v1.4h-1.4zM550.9 148.1h1.4v1.4h-1.4zM554.9 148.1h2.7v1.4h-2.7zM640.4 148.1h1.4v1.4h-1.4zM644.5 148.1h1.4v1.4h-1.4zM654.0 148.1h1.4v1.4h-1.4zM656.7 148.1h1.4v1.4h-1.4zM664.9 148.1h1.4v1.4h-1.4zM693.3 148.1h2.7v1.4h-2.7zM542.7 146.7h1.4v1.4h-1.4zM549.5 146.7h1.4v1.4h-1.4zM552.2 146.7h2.7v1.4h-2.7zM557.6 146.7h2.7v1.4h-2.7zM561.7 146.7h1.4v1.4h-1.4zM584.8 146.7h1.4v1.4h-1.4zM587.5 146.7h1.4v1.4h-1.4zM640.4 146.7h1.4v1.4h-1.4zM644.5 146.7h4.1v1.4h-4.1zM654.0 146.7h1.4v1.4h-1.4zM658.1 146.7h1.4v1.4h-1.4zM662.1 146.7h4.1v1.4h-4.1zM693.3 146.7h2.7v1.4h-2.7zM544.1 145.4h1.4v1.4h-1.4zM549.5 145.4h1.4v1.4h-1.4zM554.9 145.4h2.7v1.4h-2.7zM561.7 145.4h1.4v1.4h-1.4zM568.5 145.4h1.4v1.4h-1.4zM584.8 145.4h1.4v1.4h-1.4zM640.4 145.4h1.4v1.4h-1.4zM648.6 145.4h1.4v1.4h-1.4zM652.6 145.4h1.4v1.4h-1.4zM658.1 145.4h1.4v1.4h-1.4zM660.8 145.4h1.4v1.4h-1.4zM679.8 145.4h2.7v1.4h-2.7zM545.4 144.0h1.4v1.4h-1.4zM549.5 144.0h1.4v1.4h-1.4zM554.9 144.0h2.7v1.4h-2.7zM561.7 144.0h1.4v1.4h-1.4zM568.5 144.0h1.4v1.4h-1.4zM583.4 144.0h1.4v1.4h-1.4zM640.4 144.0h1.4v1.4h-1.4zM648.6 144.0h1.4v1.4h-1.4zM652.6 144.0h1.4v1.4h-1.4zM658.1 144.0h2.7v1.4h-2.7zM679.8 144.0h2.7v1.4h-2.7zM546.8 142.6h2.7v1.4h-2.7zM557.6 142.6h2.7v1.4h-2.7zM567.1 142.6h1.4v1.4h-1.4zM582.1 142.6h1.4v1.4h-1.4zM639.1 142.6h1.4v1.4h-1.4zM641.8 142.6h2.7v1.4h-2.7zM649.9 142.6h2.7v1.4h-2.7zM666.2 142.6h2.7v1.4h-2.7zM557.6 141.3h2.7v1.4h-2.7zM580.7 141.3h1.4v1.4h-1.4zM587.5 141.3h1.4v1.4h-1.4zM655.4 141.3h1.4v1.4h-1.4zM666.2 141.3h2.7v1.4h-2.7zM554.9 139.9h2.7v1.4h-2.7zM560.4 139.9h1.4v1.4h-1.4zM569.9 139.9h1.4v1.4h-1.4zM580.7 139.9h1.4v1.4h-1.4zM587.5 139.9h1.4v1.4h-1.4zM644.5 139.9h1.4v1.4h-1.4zM654.0 139.9h6.8v1.4h-6.8zM554.9 138.6h2.7v1.4h-2.7zM560.4 138.6h1.4v1.4h-1.4zM580.7 138.6h1.4v1.4h-1.4zM587.5 138.6h2.7v1.4h-2.7zM636.4 138.6h1.4v1.4h-1.4zM644.5 138.6h1.4v1.4h-1.4zM655.4 138.6h6.8v1.4h-6.8zM561.7 137.2h1.4v1.4h-1.4zM567.1 137.2h1.4v1.4h-1.4zM591.6 137.2h1.4v1.4h-1.4zM647.2 137.2h2.7v1.4h-2.7zM659.4 137.2h1.4v1.4h-1.4zM563.1 135.9h5.4v1.4h-5.4zM579.4 135.9h1.4v1.4h-1.4zM592.9 135.9h1.4v1.4h-1.4zM598.4 135.9h1.4v1.4h-1.4zM621.4 135.9h1.4v1.4h-1.4zM625.5 135.9h2.7v1.4h-2.7zM629.6 135.9h1.4v1.4h-1.4zM644.5 135.9h1.4v1.4h-1.4zM647.2 135.9h2.7v1.4h-2.7zM659.4 135.9h1.4v1.4h-1.4zM663.5 135.9h1.4v1.4h-1.4zM544.1 134.5h2.7v1.4h-2.7zM571.2 134.5h1.4v1.4h-1.4zM578.0 134.5h6.8v1.4h-6.8zM594.3 134.5h1.4v1.4h-1.4zM614.6 134.5h2.7v1.4h-2.7zM620.1 134.5h1.4v1.4h-1.4zM628.2 134.5h4.1v1.4h-4.1zM636.4 134.5h1.4v1.4h-1.4zM647.2 134.5h2.7v1.4h-2.7zM655.4 134.5h2.7v1.4h-2.7zM544.1 133.1h2.7v1.4h-2.7zM571.2 133.1h2.7v1.4h-2.7zM579.4 133.1h5.4v1.4h-5.4zM595.6 133.1h1.4v1.4h-1.4zM603.8 133.1h1.4v1.4h-1.4zM607.9 133.1h1.4v1.4h-1.4zM620.1 133.1h1.4v1.4h-1.4zM628.2 133.1h2.7v1.4h-2.7zM636.4 133.1h1.4v1.4h-1.4zM644.5 133.1h1.4v1.4h-1.4zM647.2 133.1h2.7v1.4h-2.7zM655.4 133.1h2.7v1.4h-2.7zM660.8 133.1h2.7v1.4h-2.7zM552.2 131.8h2.7v1.4h-2.7zM571.2 131.8h2.7v1.4h-2.7zM597.0 131.8h1.4v1.4h-1.4zM602.4 131.8h1.4v1.4h-1.4zM606.5 131.8h1.4v1.4h-1.4zM614.6 131.8h1.4v1.4h-1.4zM618.7 131.8h6.8v1.4h-6.8zM632.3 131.8h1.4v1.4h-1.4zM643.1 131.8h1.4v1.4h-1.4zM652.6 131.8h2.7v1.4h-2.7zM552.2 130.4h2.7v1.4h-2.7zM571.2 130.4h2.7v1.4h-2.7zM598.4 130.4h2.7v1.4h-2.7zM606.5 130.4h1.4v1.4h-1.4zM614.6 130.4h1.4v1.4h-1.4zM620.1 130.4h1.4v1.4h-1.4zM625.5 130.4h1.4v1.4h-1.4zM641.8 130.4h1.4v1.4h-1.4zM652.6 130.4h2.7v1.4h-2.7zM576.6 129.1h2.7v1.4h-2.7zM582.1 129.1h5.4v1.4h-5.4zM598.4 129.1h2.7v1.4h-2.7zM606.5 129.1h1.4v1.4h-1.4zM621.4 129.1h1.4v1.4h-1.4zM626.9 129.1h1.4v1.4h-1.4zM635.0 129.1h1.4v1.4h-1.4zM639.1 129.1h5.4v1.4h-5.4zM652.6 129.1h2.7v1.4h-2.7zM576.6 127.7h2.7v1.4h-2.7zM582.1 127.7h1.4v1.4h-1.4zM586.1 127.7h1.4v1.4h-1.4zM598.4 127.7h2.7v1.4h-2.7zM606.5 127.7h1.4v1.4h-1.4zM622.8 127.7h5.4v1.4h-5.4zM641.8 127.7h5.4v1.4h-5.4zM652.6 127.7h2.7v1.4h-2.7zM557.6 126.3h2.7v1.4h-2.7zM573.9 126.3h2.7v1.4h-2.7zM583.4 126.3h1.4v1.4h-1.4zM586.1 126.3h1.4v1.4h-1.4zM598.4 126.3h2.7v1.4h-2.7zM607.9 126.3h1.4v1.4h-1.4zM614.6 126.3h1.4v1.4h-1.4zM617.4 126.3h2.7v1.4h-2.7zM633.6 126.3h2.7v1.4h-2.7zM639.1 126.3h2.7v1.4h-2.7zM643.1 126.3h1.4v1.4h-1.4zM647.2 126.3h1.4v1.4h-1.4zM655.4 126.3h5.4v1.4h-5.4zM557.6 125.0h2.7v1.4h-2.7zM573.9 125.0h2.7v1.4h-2.7zM584.8 125.0h2.7v1.4h-2.7zM598.4 125.0h1.4v1.4h-1.4zM601.1 125.0h1.4v1.4h-1.4zM607.9 125.0h1.4v1.4h-1.4zM616.0 125.0h4.1v1.4h-4.1zM633.6 125.0h2.7v1.4h-2.7zM639.1 125.0h2.7v1.4h-2.7zM643.1 125.0h1.4v1.4h-1.4zM647.2 125.0h1.4v1.4h-1.4zM655.4 125.0h1.4v1.4h-1.4zM659.4 125.0h1.4v1.4h-1.4zM598.4 123.6h1.4v1.4h-1.4zM606.5 123.6h1.4v1.4h-1.4zM617.4 123.6h1.4v1.4h-1.4zM636.4 123.6h2.7v1.4h-2.7zM641.8 123.6h5.4v1.4h-5.4zM655.4 123.6h1.4v1.4h-1.4zM659.4 123.6h1.4v1.4h-1.4zM586.1 122.3h1.4v1.4h-1.4zM594.3 122.3h5.4v1.4h-5.4zM605.1 122.3h2.7v1.4h-2.7zM636.4 122.3h2.7v1.4h-2.7zM641.8 122.3h2.7v1.4h-2.7zM655.4 122.3h1.4v1.4h-1.4zM659.4 122.3h1.4v1.4h-1.4zM571.2 120.9h2.7v1.4h-2.7zM588.9 120.9h1.4v1.4h-1.4zM598.4 120.9h2.7v1.4h-2.7zM606.5 120.9h1.4v1.4h-1.4zM609.2 120.9h2.7v1.4h-2.7zM614.6 120.9h1.4v1.4h-1.4zM620.1 120.9h2.7v1.4h-2.7zM655.4 120.9h1.4v1.4h-1.4zM658.1 120.9h1.4v1.4h-1.4zM571.2 119.6h2.7v1.4h-2.7zM588.9 119.6h1.4v1.4h-1.4zM591.6 119.6h1.4v1.4h-1.4zM601.1 119.6h1.4v1.4h-1.4zM606.5 119.6h1.4v1.4h-1.4zM620.1 119.6h2.7v1.4h-2.7zM655.4 119.6h2.7v1.4h-2.7zM557.6 118.2h5.4v1.4h-5.4zM565.8 118.2h5.4v1.4h-5.4zM586.1 118.2h1.4v1.4h-1.4zM595.6 118.2h1.4v1.4h-1.4zM602.4 118.2h1.4v1.4h-1.4zM614.6 118.2h2.7v1.4h-2.7zM557.6 116.8h5.4v1.4h-5.4zM565.8 116.8h1.4v1.4h-1.4zM571.2 116.8h2.7v1.4h-2.7zM592.9 116.8h2.7v1.4h-2.7zM603.8 116.8h2.7v1.4h-2.7zM614.6 116.8h2.7v1.4h-2.7zM554.9 115.5h2.7v1.4h-2.7zM565.8 115.5h1.4v1.4h-1.4zM575.3 115.5h1.4v1.4h-1.4zM587.5 115.5h2.7v1.4h-2.7zM647.2 115.5h2.7v1.4h-2.7zM666.2 115.5h2.7v1.4h-2.7zM554.9 114.1h2.7v1.4h-2.7zM565.8 114.1h4.1v1.4h-4.1zM575.3 114.1h1.4v1.4h-1.4zM580.7 114.1h6.8v1.4h-6.8zM588.9 114.1h1.4v1.4h-1.4zM647.2 114.1h2.7v1.4h-2.7zM666.2 114.1h2.7v1.4h-2.7zM552.2 112.8h2.7v1.4h-2.7zM571.2 112.8h2.7v1.4h-2.7zM588.9 112.8h1.4v1.4h-1.4zM595.6 112.8h2.7v1.4h-2.7zM601.1 112.8h2.7v1.4h-2.7zM606.5 112.8h2.7v1.4h-2.7zM552.2 111.4h2.7v1.4h-2.7zM575.3 111.4h2.7v1.4h-2.7zM588.9 111.4h1.4v1.4h-1.4zM591.6 111.4h1.4v1.4h-1.4zM599.7 111.4h4.1v1.4h-4.1zM606.5 111.4h5.4v1.4h-5.4zM557.6 110.0h2.7v1.4h-2.7zM587.5 110.0h1.4v1.4h-1.4zM590.2 110.0h1.4v1.4h-1.4zM601.1 110.0h1.4v1.4h-1.4zM607.9 110.0h1.4v1.4h-1.4zM613.3 110.0h1.4v1.4h-1.4zM620.1 110.0h5.4v1.4h-5.4zM545.4 108.7h1.4v1.4h-1.4zM549.5 108.7h1.4v1.4h-1.4zM557.6 108.7h1.4v1.4h-1.4zM560.4 108.7h1.4v1.4h-1.4zM565.8 108.7h2.7v1.4h-2.7zM571.2 108.7h2.7v1.4h-2.7zM587.5 108.7h2.7v1.4h-2.7zM607.9 108.7h1.4v1.4h-1.4zM613.3 108.7h1.4v1.4h-1.4zM620.1 108.7h5.4v1.4h-5.4zM550.9 107.3h1.4v1.4h-1.4zM557.6 107.3h1.4v1.4h-1.4zM561.7 107.3h2.7v1.4h-2.7zM573.9 107.3h1.4v1.4h-1.4zM602.4 107.3h1.4v1.4h-1.4zM607.9 107.3h1.4v1.4h-1.4zM613.3 107.3h1.4v1.4h-1.4zM546.8 106.0h1.4v1.4h-1.4zM550.9 106.0h1.4v1.4h-1.4zM557.6 106.0h1.4v1.4h-1.4zM573.9 106.0h1.4v1.4h-1.4zM602.4 106.0h1.4v1.4h-1.4zM613.3 106.0h1.4v1.4h-1.4zM546.8 104.6h1.4v1.4h-1.4zM550.9 104.6h1.4v1.4h-1.4zM557.6 104.6h1.4v1.4h-1.4zM560.4 104.6h1.4v1.4h-1.4zM602.4 104.6h1.4v1.4h-1.4zM610.6 104.6h1.4v1.4h-1.4zM546.8 103.2h1.4v1.4h-1.4zM550.9 103.2h1.4v1.4h-1.4zM557.6 103.2h2.7v1.4h-2.7zM572.6 103.2h1.4v1.4h-1.4zM578.0 103.2h1.4v1.4h-1.4zM602.4 103.2h2.7v1.4h-2.7zM546.8 101.9h1.4v1.4h-1.4zM550.9 101.9h1.4v1.4h-1.4zM560.4 101.9h1.4v1.4h-1.4zM572.6 101.9h1.4v1.4h-1.4zM579.4 101.9h1.4v1.4h-1.4zM584.8 101.9h1.4v1.4h-1.4zM587.5 101.9h2.7v1.4h-2.7zM601.1 101.9h2.7v1.4h-2.7zM546.8 100.5h5.4v1.4h-5.4zM554.9 100.5h2.7v1.4h-2.7zM560.4 100.5h1.4v1.4h-1.4zM602.4 100.5h1.4v1.4h-1.4zM606.5 100.5h1.4v1.4h-1.4zM610.6 100.5h1.4v1.4h-1.4zM553.6 99.2h1.4v1.4h-1.4zM557.6 99.2h1.4v1.4h-1.4zM561.7 99.2h1.4v1.4h-1.4zM573.9 99.2h1.4v1.4h-1.4zM576.6 99.2h5.4v1.4h-5.4zM584.8 99.2h2.7v1.4h-2.7zM590.2 99.2h1.4v1.4h-1.4zM597.0 99.2h1.4v1.4h-1.4zM613.3 99.2h1.4v1.4h-1.4zM557.6 97.8h1.4v1.4h-1.4zM573.9 97.8h1.4v1.4h-1.4zM576.6 97.8h1.4v1.4h-1.4zM582.1 97.8h1.4v1.4h-1.4zM584.8 97.8h2.7v1.4h-2.7zM590.2 97.8h1.4v1.4h-1.4zM597.0 97.8h1.4v1.4h-1.4zM603.8 97.8h2.7v1.4h-2.7zM607.9 97.8h1.4v1.4h-1.4zM613.3 97.8h1.4v1.4h-1.4zM544.1 96.5h5.4v1.4h-5.4zM552.2 96.5h1.4v1.4h-1.4zM564.4 96.5h1.4v1.4h-1.4zM576.6 96.5h1.4v1.4h-1.4zM583.4 96.5h1.4v1.4h-1.4zM587.5 96.5h2.7v1.4h-2.7zM591.6 96.5h1.4v1.4h-1.4zM597.0 96.5h1.4v1.4h-1.4zM601.1 96.5h2.7v1.4h-2.7zM611.9 96.5h1.4v1.4h-1.4zM614.6 96.5h2.7v1.4h-2.7zM625.5 96.5h2.7v1.4h-2.7zM544.1 95.1h1.4v1.4h-1.4zM549.5 95.1h2.7v1.4h-2.7zM556.3 95.1h1.4v1.4h-1.4zM564.4 95.1h1.4v1.4h-1.4zM569.9 95.1h4.1v1.4h-4.1zM575.3 95.1h1.4v1.4h-1.4zM583.4 95.1h1.4v1.4h-1.4zM587.5 95.1h2.7v1.4h-2.7zM591.6 95.1h1.4v1.4h-1.4zM597.0 95.1h1.4v1.4h-1.4zM601.1 95.1h2.7v1.4h-2.7zM609.2 95.1h2.7v1.4h-2.7zM614.6 95.1h2.7v1.4h-2.7zM625.5 95.1h2.7v1.4h-2.7zM545.4 93.7h1.4v1.4h-1.4zM556.3 93.7h1.4v1.4h-1.4zM563.1 93.7h1.4v1.4h-1.4zM568.5 93.7h1.4v1.4h-1.4zM573.9 93.7h1.4v1.4h-1.4zM583.4 93.7h1.4v1.4h-1.4zM590.2 93.7h1.4v1.4h-1.4zM598.4 93.7h2.7v1.4h-2.7zM546.8 92.4h1.4v1.4h-1.4zM557.6 92.4h1.4v1.4h-1.4zM563.1 92.4h1.4v1.4h-1.4zM568.5 92.4h1.4v1.4h-1.4zM573.9 92.4h1.4v1.4h-1.4zM588.9 92.4h1.4v1.4h-1.4zM595.6 92.4h1.4v1.4h-1.4zM598.4 92.4h1.4v1.4h-1.4zM601.1 92.4h1.4v1.4h-1.4zM548.1 91.0h1.4v1.4h-1.4zM559.0 91.0h1.4v1.4h-1.4zM563.1 91.0h1.4v1.4h-1.4zM565.8 91.0h8.1v1.4h-8.1zM575.3 91.0h1.4v1.4h-1.4zM584.8 91.0h1.4v1.4h-1.4zM587.5 91.0h1.4v1.4h-1.4zM595.6 91.0h1.4v1.4h-1.4zM598.4 91.0h1.4v1.4h-1.4zM602.4 91.0h1.4v1.4h-1.4zM609.2 91.0h2.7v1.4h-2.7zM617.4 91.0h2.7v1.4h-2.7zM549.5 89.7h1.4v1.4h-1.4zM560.4 89.7h2.7v1.4h-2.7zM568.5 89.7h1.4v1.4h-1.4zM572.6 89.7h1.4v1.4h-1.4zM584.8 89.7h1.4v1.4h-1.4zM587.5 89.7h1.4v1.4h-1.4zM595.6 89.7h2.7v1.4h-2.7zM602.4 89.7h1.4v1.4h-1.4zM609.2 89.7h1.4v1.4h-1.4zM611.9 89.7h1.4v1.4h-1.4zM617.4 89.7h2.7v1.4h-2.7zM550.9 88.3h1.4v1.4h-1.4zM565.8 88.3h1.4v1.4h-1.4zM569.9 88.3h1.4v1.4h-1.4zM572.6 88.3h1.4v1.4h-1.4zM583.4 88.3h4.1v1.4h-4.1zM588.9 88.3h1.4v1.4h-1.4zM592.9 88.3h4.1v1.4h-4.1zM601.1 88.3h1.4v1.4h-1.4zM609.2 88.3h1.4v1.4h-1.4zM613.3 88.3h1.4v1.4h-1.4zM552.2 86.9h1.4v1.4h-1.4zM559.0 86.9h2.7v1.4h-2.7zM565.8 86.9h1.4v1.4h-1.4zM571.2 86.9h2.7v1.4h-2.7zM584.8 86.9h2.7v1.4h-2.7zM595.6 86.9h6.8v1.4h-6.8zM609.2 86.9h5.4v1.4h-5.4zM538.6 85.6h2.7v1.4h-2.7zM546.8 85.6h2.7v1.4h-2.7zM554.9 85.6h2.7v1.4h-2.7zM561.7 85.6h1.4v1.4h-1.4zM584.8 85.6h2.7v1.4h-2.7zM588.9 85.6h1.4v1.4h-1.4zM592.9 85.6h1.4v1.4h-1.4zM599.7 85.6h1.4v1.4h-1.4zM622.8 85.6h5.4v1.4h-5.4zM538.6 84.2h2.7v1.4h-2.7zM546.8 84.2h1.4v1.4h-1.4zM549.5 84.2h1.4v1.4h-1.4zM563.1 84.2h1.4v1.4h-1.4zM565.8 84.2h1.4v1.4h-1.4zM584.8 84.2h2.7v1.4h-2.7zM588.9 84.2h1.4v1.4h-1.4zM592.9 84.2h1.4v1.4h-1.4zM595.6 84.2h2.7v1.4h-2.7zM599.7 84.2h1.4v1.4h-1.4zM603.8 84.2h1.4v1.4h-1.4zM616.0 84.2h1.4v1.4h-1.4zM620.1 84.2h1.4v1.4h-1.4zM622.8 84.2h5.4v1.4h-5.4zM546.8 82.9h1.4v1.4h-1.4zM550.9 82.9h6.8v1.4h-6.8zM563.1 82.9h1.4v1.4h-1.4zM567.1 82.9h1.4v1.4h-1.4zM573.9 82.9h5.4v1.4h-5.4zM594.3 82.9h1.4v1.4h-1.4zM606.5 82.9h2.7v1.4h-2.7zM546.8 81.5h1.4v1.4h-1.4zM553.6 81.5h4.1v1.4h-4.1zM563.1 81.5h5.4v1.4h-5.4zM573.9 81.5h5.4v1.4h-5.4zM586.1 81.5h6.8v1.4h-6.8zM594.3 81.5h1.4v1.4h-1.4zM607.9 81.5h1.4v1.4h-1.4zM617.4 81.5h2.7v1.4h-2.7zM548.1 80.1h1.4v1.4h-1.4zM552.2 80.1h1.4v1.4h-1.4zM568.5 80.1h5.4v1.4h-5.4zM579.4 80.1h2.7v1.4h-2.7zM590.2 80.1h1.4v1.4h-1.4zM592.9 80.1h4.1v1.4h-4.1zM611.9 80.1h2.7v1.4h-2.7zM568.5 78.8h1.4v1.4h-1.4zM573.9 78.8h2.7v1.4h-2.7zM582.1 78.8h2.7v1.4h-2.7zM594.3 78.8h1.4v1.4h-1.4zM598.4 78.8h1.4v1.4h-1.4zM606.5 78.8h1.4v1.4h-1.4zM611.9 78.8h2.7v1.4h-2.7zM541.4 77.4h2.7v1.4h-2.7zM560.4 77.4h2.7v1.4h-2.7zM565.8 77.4h2.7v1.4h-2.7zM569.9 77.4h1.4v1.4h-1.4zM594.3 77.4h1.4v1.4h-1.4zM598.4 77.4h1.4v1.4h-1.4zM601.1 77.4h2.7v1.4h-2.7zM605.1 77.4h1.4v1.4h-1.4zM541.4 76.1h2.7v1.4h-2.7zM556.3 76.1h2.7v1.4h-2.7zM563.1 76.1h1.4v1.4h-1.4zM565.8 76.1h5.4v1.4h-5.4zM594.3 76.1h1.4v1.4h-1.4zM598.4 76.1h1.4v1.4h-1.4zM601.1 76.1h1.4v1.4h-1.4zM564.4 74.7h1.4v1.4h-1.4zM567.1 74.7h1.4v1.4h-1.4zM573.9 74.7h1.4v1.4h-1.4zM592.9 74.7h1.4v1.4h-1.4zM598.4 74.7h1.4v1.4h-1.4zM602.4 74.7h4.1v1.4h-4.1zM553.6 73.4h1.4v1.4h-1.4zM564.4 73.4h1.4v1.4h-1.4zM591.6 73.4h1.4v1.4h-1.4zM598.4 73.4h1.4v1.4h-1.4zM602.4 73.4h4.1v1.4h-4.1zM552.2 72.0h6.8v1.4h-6.8zM563.1 72.0h1.4v1.4h-1.4zM569.9 72.0h1.4v1.4h-1.4zM587.5 72.0h2.7v1.4h-2.7zM591.6 72.0h1.4v1.4h-1.4zM598.4 72.0h1.4v1.4h-1.4zM601.1 72.0h1.4v1.4h-1.4zM611.9 72.0h2.7v1.4h-2.7zM552.2 70.6h2.7v1.4h-2.7zM557.6 70.6h1.4v1.4h-1.4zM561.7 70.6h1.4v1.4h-1.4zM569.9 70.6h1.4v1.4h-1.4zM586.1 70.6h1.4v1.4h-1.4zM590.2 70.6h2.7v1.4h-2.7zM597.0 70.6h1.4v1.4h-1.4zM611.9 70.6h2.7v1.4h-2.7zM554.9 69.3h1.4v1.4h-1.4zM561.7 69.3h1.4v1.4h-1.4zM568.5 69.3h1.4v1.4h-1.4zM584.8 69.3h1.4v1.4h-1.4zM590.2 69.3h2.7v1.4h-2.7zM601.1 69.3h1.4v1.4h-1.4zM614.6 69.3h2.7v1.4h-2.7zM554.9 67.9h1.4v1.4h-1.4zM561.7 67.9h1.4v1.4h-1.4zM568.5 67.9h1.4v1.4h-1.4zM579.4 67.9h1.4v1.4h-1.4zM582.1 67.9h5.4v1.4h-5.4zM590.2 67.9h2.7v1.4h-2.7zM601.1 67.9h1.4v1.4h-1.4zM614.6 67.9h2.7v1.4h-2.7zM557.6 66.6h1.4v1.4h-1.4zM561.7 66.6h1.4v1.4h-1.4zM565.8 66.6h2.7v1.4h-2.7zM569.9 66.6h1.4v1.4h-1.4zM578.0 66.6h4.1v1.4h-4.1zM583.4 66.6h1.4v1.4h-1.4zM588.9 66.6h1.4v1.4h-1.4zM597.0 66.6h1.4v1.4h-1.4zM560.4 65.2h8.1v1.4h-8.1zM579.4 65.2h1.4v1.4h-1.4zM582.1 65.2h2.7v1.4h-2.7zM588.9 65.2h1.4v1.4h-1.4zM597.0 65.2h1.4v1.4h-1.4zM602.4 65.2h1.4v1.4h-1.4zM552.2 63.8h2.7v1.4h-2.7zM561.7 63.8h1.4v1.4h-1.4zM565.8 63.8h1.4v1.4h-1.4zM576.6 63.8h1.4v1.4h-1.4zM579.4 63.8h1.4v1.4h-1.4zM583.4 63.8h4.1v1.4h-4.1zM595.6 63.8h1.4v1.4h-1.4zM603.8 63.8h1.4v1.4h-1.4zM606.5 63.8h2.7v1.4h-2.7zM622.8 63.8h2.7v1.4h-2.7zM552.2 62.5h2.7v1.4h-2.7zM573.9 62.5h2.7v1.4h-2.7zM579.4 62.5h5.4v1.4h-5.4zM595.6 62.5h4.1v1.4h-4.1zM603.8 62.5h1.4v1.4h-1.4zM606.5 62.5h2.7v1.4h-2.7zM622.8 62.5h2.7v1.4h-2.7zM587.5 61.1h2.7v1.4h-2.7zM599.7 61.1h1.4v1.4h-1.4zM602.4 61.1h1.4v1.4h-1.4zM617.4 61.1h2.7v1.4h-2.7zM587.5 59.8h2.7v1.4h-2.7zM617.4 59.8h2.7v1.4h-2.7zM582.1 58.4h2.7v1.4h-2.7zM582.1 57.1h2.7v1.4h-2.7zM573.9 55.7h2.7v1.4h-2.7zM573.9 54.3h2.7v1.4h-2.7z"/>
<path fill="#f02010" d="M635.0 187.5h1.4v1.4h-1.4zM563.1 186.1h2.7v1.4h-2.7zM635.0 186.1h2.7v1.4h-2.7zM575.3 184.8h2.7v1.4h-2.7zM591.6 184.8h1.4v1.4h-1.4zM597.0 184.8h6.8v1.4h-6.8zM628.2 184.8h1.4v1.4h-1.4zM637.7 184.8h1.4v1.4h-1.4zM563.1 183.4h1.4v1.4h-1.4zM583.4 183.4h1.4v1.4h-1.4zM626.9 183.4h2.7v1.4h-2.7zM544.1 182.0h1.4v1.4h-1.4zM572.6 182.0h1.4v1.4h-1.4zM559.0 176.6h1.4v1.4h-1.4zM556.3 175.3h1.4v1.4h-1.4zM560.4 175.3h2.7v1.4h-2.7zM556.3 172.5h1.4v1.4h-1.4zM645.9 172.5h1.4v1.4h-1.4zM656.7 172.5h1.4v1.4h-1.4zM546.8 171.2h1.4v1.4h-1.4zM645.9 171.2h1.4v1.4h-1.4zM544.1 169.8h4.1v1.4h-4.1zM656.7 169.8h1.4v1.4h-1.4zM640.4 168.5h1.4v1.4h-1.4zM540.0 167.1h1.4v1.4h-1.4zM605.1 167.1h1.4v1.4h-1.4zM633.6 167.1h1.4v1.4h-1.4zM636.4 167.1h1.4v1.4h-1.4zM640.4 167.1h2.7v1.4h-2.7zM540.0 165.7h1.4v1.4h-1.4zM569.9 165.7h4.1v1.4h-4.1zM576.6 165.7h5.4v1.4h-5.4zM637.7 165.7h5.4v1.4h-5.4zM569.9 164.4h1.4v1.4h-1.4zM579.4 164.4h4.1v1.4h-4.1zM598.4 164.4h1.4v1.4h-1.4zM633.6 164.4h1.4v1.4h-1.4zM639.1 164.4h2.7v1.4h-2.7zM563.1 163.0h1.4v1.4h-1.4zM569.9 163.0h1.4v1.4h-1.4zM572.6 163.0h1.4v1.4h-1.4zM578.0 163.0h2.7v1.4h-2.7zM587.5 163.0h1.4v1.4h-1.4zM597.0 163.0h1.4v1.4h-1.4zM609.2 163.0h1.4v1.4h-1.4zM639.1 163.0h1.4v1.4h-1.4zM644.5 163.0h1.4v1.4h-1.4zM541.4 161.7h1.4v1.4h-1.4zM569.9 161.7h2.7v1.4h-2.7zM597.0 161.7h2.7v1.4h-2.7zM613.3 161.7h1.4v1.4h-1.4zM617.4 161.7h2.7v1.4h-2.7zM546.8 160.3h1.4v1.4h-1.4zM598.4 160.3h1.4v1.4h-1.4zM610.6 160.3h1.4v1.4h-1.4zM616.0 160.3h1.4v1.4h-1.4zM620.1 160.3h1.4v1.4h-1.4zM644.5 160.3h1.4v1.4h-1.4zM656.7 160.3h1.4v1.4h-1.4zM660.8 160.3h1.4v1.4h-1.4zM586.1 159.0h1.4v1.4h-1.4zM598.4 159.0h1.4v1.4h-1.4zM616.0 159.0h5.4v1.4h-5.4zM639.1 159.0h1.4v1.4h-1.4zM656.7 159.0h5.4v1.4h-5.4zM606.5 157.6h1.4v1.4h-1.4zM635.0 157.6h1.4v1.4h-1.4zM640.4 157.6h1.4v1.4h-1.4zM649.9 157.6h1.4v1.4h-1.4zM656.7 157.6h5.4v1.4h-5.4zM586.1 156.2h1.4v1.4h-1.4zM602.4 156.2h2.7v1.4h-2.7zM635.0 156.2h2.7v1.4h-2.7zM648.6 156.2h2.7v1.4h-2.7zM656.7 156.2h1.4v1.4h-1.4zM660.8 156.2h1.4v1.4h-1.4zM540.0 154.9h4.1v1.4h-4.1zM545.4 154.9h1.4v1.4h-1.4zM550.9 154.9h4.1v1.4h-4.1zM587.5 154.9h2.7v1.4h-2.7zM635.0 154.9h4.1v1.4h-4.1zM541.4 153.5h1.4v1.4h-1.4zM552.2 153.5h4.1v1.4h-4.1zM559.0 153.5h1.4v1.4h-1.4zM569.9 153.5h1.4v1.4h-1.4zM588.9 153.5h1.4v1.4h-1.4zM635.0 153.5h1.4v1.4h-1.4zM552.2 152.2h1.4v1.4h-1.4zM556.3 152.2h1.4v1.4h-1.4zM633.6 152.2h1.4v1.4h-1.4zM656.7 152.2h1.4v1.4h-1.4zM668.9 152.2h1.4v1.4h-1.4zM671.6 152.2h1.4v1.4h-1.4zM576.6 150.8h1.4v1.4h-1.4zM633.6 150.8h1.4v1.4h-1.4zM660.8 150.8h1.4v1.4h-1.4zM553.6 149.4h2.7v1.4h-2.7zM633.6 149.4h1.4v1.4h-1.4zM637.7 149.4h2.7v1.4h-2.7zM647.2 149.4h1.4v1.4h-1.4zM651.3 149.4h1.4v1.4h-1.4zM662.1 149.4h1.4v1.4h-1.4zM552.2 148.1h2.7v1.4h-2.7zM560.4 148.1h1.4v1.4h-1.4zM576.6 148.1h1.4v1.4h-1.4zM586.1 148.1h1.4v1.4h-1.4zM633.6 148.1h1.4v1.4h-1.4zM645.9 148.1h2.7v1.4h-2.7zM651.3 148.1h2.7v1.4h-2.7zM662.1 148.1h2.7v1.4h-2.7zM576.6 146.7h1.4v1.4h-1.4zM648.6 146.7h1.4v1.4h-1.4zM652.6 146.7h1.4v1.4h-1.4zM659.4 146.7h2.7v1.4h-2.7zM569.9 145.4h1.4v1.4h-1.4zM576.6 145.4h2.7v1.4h-2.7zM587.5 145.4h1.4v1.4h-1.4zM659.4 145.4h1.4v1.4h-1.4zM569.9 144.0h1.4v1.4h-1.4zM587.5 144.0h1.4v1.4h-1.4zM639.1 144.0h1.4v1.4h-1.4zM561.7 142.6h1.4v1.4h-1.4zM587.5 142.6h1.4v1.4h-1.4zM565.8 141.3h1.4v1.4h-1.4zM571.2 141.3h1.4v1.4h-1.4zM639.1 141.3h2.7v1.4h-2.7zM643.1 141.3h1.4v1.4h-1.4zM565.8 139.9h1.4v1.4h-1.4zM572.6 139.9h1.4v1.4h-1.4zM636.4 139.9h2.7v1.4h-2.7zM565.8 138.6h1.4v1.4h-1.4zM572.6 138.6h1.4v1.4h-1.4zM591.6 138.6h1.4v1.4h-1.4zM635.0 138.6h1.4v1.4h-1.4zM565.8 137.2h1.4v1.4h-1.4zM621.4 137.2h2.7v1.4h-2.7zM628.2 137.2h1.4v1.4h-1.4zM643.1 137.2h1.4v1.4h-1.4zM594.3 135.9h4.1v1.4h-4.1zM572.6 134.5h1.4v1.4h-1.4zM576.6 134.5h1.4v1.4h-1.4zM595.6 134.5h1.4v1.4h-1.4zM606.5 134.5h1.4v1.4h-1.4zM632.3 134.5h4.1v1.4h-4.1zM644.5 134.5h1.4v1.4h-1.4zM660.8 134.5h2.7v1.4h-2.7zM613.3 133.1h1.4v1.4h-1.4zM633.6 133.1h1.4v1.4h-1.4zM607.9 131.8h1.4v1.4h-1.4zM621.4 130.4h4.1v1.4h-4.1zM636.4 130.4h2.7v1.4h-2.7zM613.3 129.1h1.4v1.4h-1.4zM622.8 129.1h4.1v1.4h-4.1zM583.4 127.7h2.7v1.4h-2.7zM584.8 126.3h1.4v1.4h-1.4zM599.7 125.0h1.4v1.4h-1.4zM603.8 122.3h1.4v1.4h-1.4zM607.9 122.3h1.4v1.4h-1.4zM611.9 122.3h2.7v1.4h-2.7zM656.7 122.3h2.7v1.4h-2.7zM587.5 120.9h1.4v1.4h-1.4zM656.7 120.9h1.4v1.4h-1.4zM587.5 119.6h1.4v1.4h-1.4zM592.9 118.2h1.4v1.4h-1.4zM605.1 118.2h1.4v1.4h-1.4zM569.9 116.8h1.4v1.4h-1.4zM573.9 115.5h1.4v1.4h-1.4zM569.9 114.1h1.4v1.4h-1.4zM573.9 114.1h1.4v1.4h-1.4zM587.5 114.1h1.4v1.4h-1.4zM598.4 111.4h1.4v1.4h-1.4zM611.9 110.0h1.4v1.4h-1.4zM559.0 108.7h1.4v1.4h-1.4zM586.1 108.7h1.4v1.4h-1.4zM590.2 108.7h1.4v1.4h-1.4zM546.8 107.3h1.4v1.4h-1.4zM549.5 107.3h1.4v1.4h-1.4zM559.0 107.3h2.7v1.4h-2.7zM564.4 107.3h1.4v1.4h-1.4zM568.5 107.3h2.7v1.4h-2.7zM559.0 106.0h2.7v1.4h-2.7zM611.9 106.0h1.4v1.4h-1.4zM559.0 104.6h1.4v1.4h-1.4zM572.6 104.6h1.4v1.4h-1.4zM586.1 103.2h1.4v1.4h-1.4zM590.2 103.2h1.4v1.4h-1.4zM580.7 101.9h1.4v1.4h-1.4zM591.6 101.9h1.4v1.4h-1.4zM561.7 100.5h1.4v1.4h-1.4zM572.6 100.5h1.4v1.4h-1.4zM591.6 100.5h1.4v1.4h-1.4zM595.6 100.5h1.4v1.4h-1.4zM591.6 99.2h1.4v1.4h-1.4zM595.6 99.2h1.4v1.4h-1.4zM603.8 99.2h2.7v1.4h-2.7zM611.9 99.2h1.4v1.4h-1.4zM553.6 97.8h1.4v1.4h-1.4zM591.6 97.8h2.7v1.4h-2.7zM553.6 96.5h1.4v1.4h-1.4zM572.6 96.5h1.4v1.4h-1.4zM592.9 96.5h1.4v1.4h-1.4zM609.2 96.5h1.4v1.4h-1.4zM545.4 95.1h4.1v1.4h-4.1zM568.5 95.1h1.4v1.4h-1.4zM576.6 95.1h1.4v1.4h-1.4zM595.6 95.1h1.4v1.4h-1.4zM546.8 93.7h4.1v1.4h-4.1zM575.3 93.7h2.7v1.4h-2.7zM595.6 93.7h1.4v1.4h-1.4zM548.1 92.4h2.7v1.4h-2.7zM575.3 92.4h1.4v1.4h-1.4zM583.4 92.4h1.4v1.4h-1.4zM590.2 92.4h1.4v1.4h-1.4zM599.7 92.4h1.4v1.4h-1.4zM549.5 91.0h1.4v1.4h-1.4zM564.4 91.0h1.4v1.4h-1.4zM588.9 91.0h2.7v1.4h-2.7zM599.7 91.0h2.7v1.4h-2.7zM550.9 89.7h2.7v1.4h-2.7zM559.0 89.7h1.4v1.4h-1.4zM564.4 89.7h1.4v1.4h-1.4zM569.9 89.7h2.7v1.4h-2.7zM588.9 89.7h2.7v1.4h-2.7zM598.4 89.7h4.1v1.4h-4.1zM610.6 89.7h1.4v1.4h-1.4zM552.2 88.3h1.4v1.4h-1.4zM559.0 88.3h2.7v1.4h-2.7zM571.2 88.3h1.4v1.4h-1.4zM590.2 88.3h2.7v1.4h-2.7zM597.0 88.3h4.1v1.4h-4.1zM610.6 88.3h2.7v1.4h-2.7zM553.6 86.9h1.4v1.4h-1.4zM557.6 86.9h1.4v1.4h-1.4zM590.2 86.9h2.7v1.4h-2.7zM564.4 85.6h1.4v1.4h-1.4zM548.1 84.2h1.4v1.4h-1.4zM564.4 84.2h1.4v1.4h-1.4zM548.1 82.9h2.7v1.4h-2.7zM564.4 82.9h2.7v1.4h-2.7zM590.2 82.9h2.7v1.4h-2.7zM599.7 82.9h1.4v1.4h-1.4zM602.4 82.9h1.4v1.4h-1.4zM617.4 82.9h2.7v1.4h-2.7zM548.1 81.5h1.4v1.4h-1.4zM552.2 81.5h1.4v1.4h-1.4zM605.1 81.5h2.7v1.4h-2.7zM597.0 80.1h2.7v1.4h-2.7zM606.5 80.1h1.4v1.4h-1.4zM569.9 78.8h4.1v1.4h-4.1zM576.6 78.8h1.4v1.4h-1.4zM571.2 77.4h1.4v1.4h-1.4zM599.7 77.4h1.4v1.4h-1.4zM603.8 77.4h1.4v1.4h-1.4zM559.0 76.1h4.1v1.4h-4.1zM571.2 76.1h1.4v1.4h-1.4zM599.7 76.1h1.4v1.4h-1.4zM561.7 74.7h2.7v1.4h-2.7zM572.6 74.7h1.4v1.4h-1.4zM599.7 74.7h2.7v1.4h-2.7zM561.7 73.4h2.7v1.4h-2.7zM588.9 73.4h2.7v1.4h-2.7zM599.7 73.4h2.7v1.4h-2.7zM559.0 72.0h4.1v1.4h-4.1zM571.2 72.0h1.4v1.4h-1.4zM590.2 72.0h1.4v1.4h-1.4zM599.7 72.0h1.4v1.4h-1.4zM559.0 70.6h2.7v1.4h-2.7zM571.2 70.6h1.4v1.4h-1.4zM583.4 70.6h2.7v1.4h-2.7zM599.7 70.6h1.4v1.4h-1.4zM569.9 69.3h2.7v1.4h-2.7zM580.7 69.3h4.1v1.4h-4.1zM569.9 67.9h1.4v1.4h-1.4zM559.0 66.6h2.7v1.4h-2.7zM587.5 66.6h1.4v1.4h-1.4zM599.7 66.6h1.4v1.4h-1.4zM576.6 65.2h1.4v1.4h-1.4zM580.7 65.2h1.4v1.4h-1.4zM587.5 65.2h1.4v1.4h-1.4zM598.4 65.2h1.4v1.4h-1.4zM572.6 63.8h1.4v1.4h-1.4zM580.7 63.8h2.7v1.4h-2.7zM597.0 63.8h2.7v1.4h-2.7zM601.1 61.1h1.4v1.4h-1.4z"/>
<path fill="#d8dc00" d="M605.1 187.5h1.4v1.4h-1.4zM607.9 187.5h1.4v1.4h-1.4zM609.2 186.1h1.4v1.4h-1.4zM586.1 184.8h1.4v1.4h-1.4zM590.2 184.8h1.4v1.4h-1.4zM595.6 184.8h1.4v1.4h-1.4zM635.0 184.8h1.4v1.4h-1.4zM606.5 183.4h1.4v1.4h-1.4zM545.4 182.0h1.4v1.4h-1.4zM561.7 182.0h1.4v1.4h-1.4zM569.9 182.0h1.4v1.4h-1.4zM628.2 182.0h1.4v1.4h-1.4zM633.6 182.0h1.4v1.4h-1.4zM639.1 182.0h1.4v1.4h-1.4zM632.3 180.7h1.4v1.4h-1.4zM548.1 171.2h1.4v1.4h-1.4zM550.9 171.2h1.4v1.4h-1.4zM554.9 171.2h1.4v1.4h-1.4zM552.2 169.8h2.7v1.4h-2.7zM637.7 168.5h2.7v1.4h-2.7zM544.1 167.1h1.4v1.4h-1.4zM637.7 167.1h2.7v1.4h-2.7zM658.1 167.1h1.4v1.4h-1.4zM584.8 165.7h1.4v1.4h-1.4zM583.4 164.4h1.4v1.4h-1.4zM613.3 164.4h1.4v1.4h-1.4zM580.7 163.0h1.4v1.4h-1.4zM640.4 163.0h1.4v1.4h-1.4zM645.9 163.0h2.7v1.4h-2.7zM621.4 161.7h1.4v1.4h-1.4zM645.9 161.7h2.7v1.4h-2.7zM580.7 160.3h1.4v1.4h-1.4zM582.1 159.0h2.7v1.4h-2.7zM640.4 159.0h1.4v1.4h-1.4zM617.4 157.6h1.4v1.4h-1.4zM625.5 157.6h1.4v1.4h-1.4zM639.1 157.6h1.4v1.4h-1.4zM601.1 156.2h1.4v1.4h-1.4zM617.4 156.2h1.4v1.4h-1.4zM624.1 156.2h1.4v1.4h-1.4zM637.7 156.2h1.4v1.4h-1.4zM549.5 154.9h1.4v1.4h-1.4zM576.6 154.9h1.4v1.4h-1.4zM579.4 154.9h2.7v1.4h-2.7zM584.8 154.9h1.4v1.4h-1.4zM548.1 153.5h1.4v1.4h-1.4zM582.1 153.5h2.7v1.4h-2.7zM542.7 152.2h1.4v1.4h-1.4zM553.6 152.2h2.7v1.4h-2.7zM587.5 152.2h1.4v1.4h-1.4zM544.1 150.8h1.4v1.4h-1.4zM553.6 150.8h2.7v1.4h-2.7zM579.4 150.8h1.4v1.4h-1.4zM556.3 149.4h1.4v1.4h-1.4zM648.6 149.4h2.7v1.4h-2.7zM656.7 149.4h1.4v1.4h-1.4zM557.6 148.1h1.4v1.4h-1.4zM587.5 148.1h1.4v1.4h-1.4zM648.6 148.1h2.7v1.4h-2.7zM658.1 148.1h1.4v1.4h-1.4zM660.8 148.1h1.4v1.4h-1.4zM568.5 146.7h1.4v1.4h-1.4zM583.4 145.4h1.4v1.4h-1.4zM588.9 139.9h2.7v1.4h-2.7zM637.7 138.6h1.4v1.4h-1.4zM616.0 135.9h1.4v1.4h-1.4zM620.1 135.9h1.4v1.4h-1.4zM597.0 133.1h1.4v1.4h-1.4zM635.0 133.1h1.4v1.4h-1.4zM637.7 133.1h1.4v1.4h-1.4zM598.4 131.8h1.4v1.4h-1.4zM601.1 131.8h1.4v1.4h-1.4zM636.4 131.8h1.4v1.4h-1.4zM607.9 130.4h1.4v1.4h-1.4zM607.9 127.7h1.4v1.4h-1.4zM609.2 126.3h1.4v1.4h-1.4zM609.2 125.0h1.4v1.4h-1.4zM614.6 125.0h1.4v1.4h-1.4zM656.7 125.0h2.7v1.4h-2.7zM607.9 123.6h1.4v1.4h-1.4zM656.7 123.6h2.7v1.4h-2.7zM599.7 122.3h1.4v1.4h-1.4zM601.1 120.9h1.4v1.4h-1.4zM602.4 119.6h1.4v1.4h-1.4zM594.3 118.2h1.4v1.4h-1.4zM603.8 118.2h1.4v1.4h-1.4zM567.1 116.8h2.7v1.4h-2.7zM567.1 115.5h2.7v1.4h-2.7zM578.0 111.4h1.4v1.4h-1.4zM587.5 111.4h1.4v1.4h-1.4zM592.9 111.4h1.4v1.4h-1.4zM586.1 110.0h1.4v1.4h-1.4zM548.1 106.0h2.7v1.4h-2.7zM561.7 106.0h1.4v1.4h-1.4zM548.1 104.6h2.7v1.4h-2.7zM561.7 104.6h1.4v1.4h-1.4zM548.1 103.2h2.7v1.4h-2.7zM561.7 103.2h1.4v1.4h-1.4zM548.1 101.9h2.7v1.4h-2.7zM561.7 101.9h1.4v1.4h-1.4zM583.4 101.9h1.4v1.4h-1.4zM578.0 97.8h1.4v1.4h-1.4zM580.7 97.8h1.4v1.4h-1.4zM594.3 97.8h2.7v1.4h-2.7zM611.9 97.8h1.4v1.4h-1.4zM565.8 96.5h1.4v1.4h-1.4zM568.5 96.5h2.7v1.4h-2.7zM582.1 96.5h1.4v1.4h-1.4zM594.3 96.5h2.7v1.4h-2.7zM610.6 96.5h1.4v1.4h-1.4zM565.8 95.1h1.4v1.4h-1.4zM564.4 93.7h1.4v1.4h-1.4zM579.4 91.0h2.7v1.4h-2.7zM563.1 89.7h1.4v1.4h-1.4zM561.7 88.3h1.4v1.4h-1.4zM561.7 86.9h1.4v1.4h-1.4zM563.1 85.6h1.4v1.4h-1.4zM599.7 81.5h1.4v1.4h-1.4zM603.8 81.5h1.4v1.4h-1.4zM591.6 78.8h2.7v1.4h-2.7zM583.4 77.4h1.4v1.4h-1.4zM572.6 73.4h2.7v1.4h-2.7zM587.5 73.4h1.4v1.4h-1.4zM586.1 72.0h1.4v1.4h-1.4zM598.4 70.6h1.4v1.4h-1.4zM579.4 69.3h1.4v1.4h-1.4zM598.4 66.6h1.4v1.4h-1.4zM599.7 65.2h2.7v1.4h-2.7z"/>
<path fill="#00ff00" d="M587.5 188.8h2.7v1.4h-2.7zM587.5 187.5h2.7v1.4h-2.7zM606.5 187.5h1.4v1.4h-1.4zM560.4 186.1h2.7v1.4h-2.7zM565.8 186.1h2.7v1.4h-2.7zM587.5 186.1h2.7v1.4h-2.7zM605.1 186.1h4.1v1.4h-4.1zM560.4 184.8h8.1v1.4h-8.1zM578.0 184.8h4.1v1.4h-4.1zM587.5 184.8h2.7v1.4h-2.7zM592.9 184.8h2.7v1.4h-2.7zM603.8 184.8h13.6v1.4h-13.6zM636.4 184.8h1.4v1.4h-1.4zM564.4 183.4h5.4v1.4h-5.4zM575.3 183.4h2.7v1.4h-2.7zM582.1 183.4h1.4v1.4h-1.4zM584.8 183.4h2.7v1.4h-2.7zM590.2 183.4h6.8v1.4h-6.8zM599.7 183.4h6.8v1.4h-6.8zM607.9 183.4h4.1v1.4h-4.1zM617.4 183.4h1.4v1.4h-1.4zM635.0 183.4h4.1v1.4h-4.1zM563.1 182.0h2.7v1.4h-2.7zM568.5 182.0h1.4v1.4h-1.4zM573.9 182.0h2.7v1.4h-2.7zM583.4 182.0h1.4v1.4h-1.4zM605.1 182.0h4.1v1.4h-4.1zM618.7 182.0h9.5v1.4h-9.5zM635.0 182.0h1.4v1.4h-1.4zM637.7 182.0h1.4v1.4h-1.4zM544.1 180.7h5.4v1.4h-5.4zM560.4 180.7h2.7v1.4h-2.7zM568.5 180.7h5.4v1.4h-5.4zM622.8 180.7h2.7v1.4h-2.7zM628.2 180.7h1.4v1.4h-1.4zM633.6 180.7h1.4v1.4h-1.4zM639.1 180.7h1.4v1.4h-1.4zM544.1 179.3h5.4v1.4h-5.4zM560.4 179.3h1.4v1.4h-1.4zM629.6 179.3h4.1v1.4h-4.1zM640.4 179.3h2.7v1.4h-2.7zM560.4 178.0h1.4v1.4h-1.4zM641.8 178.0h1.4v1.4h-1.4zM644.5 178.0h2.7v1.4h-2.7zM560.4 176.6h5.4v1.4h-5.4zM641.8 176.6h1.4v1.4h-1.4zM644.5 176.6h2.7v1.4h-2.7zM557.6 175.3h2.7v1.4h-2.7zM563.1 175.3h5.4v1.4h-5.4zM643.1 175.3h1.4v1.4h-1.4zM556.3 173.9h4.1v1.4h-4.1zM563.1 173.9h5.4v1.4h-5.4zM643.1 173.9h1.4v1.4h-1.4zM561.7 172.5h4.1v1.4h-4.1zM643.1 172.5h2.7v1.4h-2.7zM647.2 172.5h2.7v1.4h-2.7zM658.1 172.5h2.7v1.4h-2.7zM549.5 171.2h1.4v1.4h-1.4zM556.3 171.2h6.8v1.4h-6.8zM571.2 171.2h1.4v1.4h-1.4zM643.1 171.2h2.7v1.4h-2.7zM647.2 171.2h2.7v1.4h-2.7zM656.7 171.2h4.1v1.4h-4.1zM541.4 169.8h2.7v1.4h-2.7zM548.1 169.8h4.1v1.4h-4.1zM554.9 169.8h1.4v1.4h-1.4zM571.2 169.8h2.7v1.4h-2.7zM606.5 169.8h1.4v1.4h-1.4zM635.0 169.8h2.7v1.4h-2.7zM641.8 169.8h1.4v1.4h-1.4zM541.4 168.5h8.1v1.4h-8.1zM552.2 168.5h4.1v1.4h-4.1zM571.2 168.5h14.9v1.4h-14.9zM602.4 168.5h6.8v1.4h-6.8zM621.4 168.5h2.7v1.4h-2.7zM632.3 168.5h5.4v1.4h-5.4zM655.4 168.5h2.7v1.4h-2.7zM541.4 167.1h2.7v1.4h-2.7zM545.4 167.1h1.4v1.4h-1.4zM567.1 167.1h14.9v1.4h-14.9zM584.8 167.1h2.7v1.4h-2.7zM592.9 167.1h2.7v1.4h-2.7zM601.1 167.1h1.4v1.4h-1.4zM606.5 167.1h2.7v1.4h-2.7zM611.9 167.1h1.4v1.4h-1.4zM621.4 167.1h4.1v1.4h-4.1zM632.3 167.1h1.4v1.4h-1.4zM654.0 167.1h1.4v1.4h-1.4zM541.4 165.7h4.1v1.4h-4.1zM567.1 165.7h2.7v1.4h-2.7zM573.9 165.7h2.7v1.4h-2.7zM586.1 165.7h2.7v1.4h-2.7zM590.2 165.7h5.4v1.4h-5.4zM598.4 165.7h2.7v1.4h-2.7zM606.5 165.7h8.1v1.4h-8.1zM621.4 165.7h4.1v1.4h-4.1zM630.9 165.7h2.7v1.4h-2.7zM654.0 165.7h1.4v1.4h-1.4zM658.1 165.7h1.4v1.4h-1.4zM541.4 164.4h2.7v1.4h-2.7zM563.1 164.4h6.8v1.4h-6.8zM573.9 164.4h2.7v1.4h-2.7zM584.8 164.4h5.4v1.4h-5.4zM597.0 164.4h1.4v1.4h-1.4zM606.5 164.4h5.4v1.4h-5.4zM614.6 164.4h1.4v1.4h-1.4zM620.1 164.4h4.1v1.4h-4.1zM630.9 164.4h2.7v1.4h-2.7zM654.0 164.4h1.4v1.4h-1.4zM658.1 164.4h1.4v1.4h-1.4zM541.4 163.0h2.7v1.4h-2.7zM560.4 163.0h2.7v1.4h-2.7zM564.4 163.0h5.4v1.4h-5.4zM573.9 163.0h4.1v1.4h-4.1zM582.1 163.0h5.4v1.4h-5.4zM588.9 163.0h1.4v1.4h-1.4zM595.6 163.0h1.4v1.4h-1.4zM606.5 163.0h2.7v1.4h-2.7zM614.6 163.0h9.5v1.4h-9.5zM632.3 163.0h2.7v1.4h-2.7zM654.0 163.0h5.4v1.4h-5.4zM542.7 161.7h5.4v1.4h-5.4zM561.7 161.7h8.1v1.4h-8.1zM572.6 161.7h1.4v1.4h-1.4zM578.0 161.7h12.2v1.4h-12.2zM595.6 161.7h1.4v1.4h-1.4zM614.6 161.7h2.7v1.4h-2.7zM620.1 161.7h1.4v1.4h-1.4zM624.1 161.7h1.4v1.4h-1.4zM633.6 161.7h1.4v1.4h-1.4zM639.1 161.7h6.8v1.4h-6.8zM655.4 161.7h2.7v1.4h-2.7zM548.1 160.3h2.7v1.4h-2.7zM561.7 160.3h12.2v1.4h-12.2zM578.0 160.3h2.7v1.4h-2.7zM582.1 160.3h6.8v1.4h-6.8zM595.6 160.3h2.7v1.4h-2.7zM611.9 160.3h4.1v1.4h-4.1zM624.1 160.3h1.4v1.4h-1.4zM633.6 160.3h1.4v1.4h-1.4zM639.1 160.3h5.4v1.4h-5.4zM546.8 159.0h4.1v1.4h-4.1zM563.1 159.0h2.7v1.4h-2.7zM568.5 159.0h2.7v1.4h-2.7zM578.0 159.0h1.4v1.4h-1.4zM587.5 159.0h1.4v1.4h-1.4zM597.0 159.0h1.4v1.4h-1.4zM609.2 159.0h6.8v1.4h-6.8zM625.5 159.0h1.4v1.4h-1.4zM633.6 159.0h1.4v1.4h-1.4zM546.8 157.6h5.4v1.4h-5.4zM568.5 157.6h2.7v1.4h-2.7zM576.6 157.6h2.7v1.4h-2.7zM587.5 157.6h2.7v1.4h-2.7zM598.4 157.6h1.4v1.4h-1.4zM607.9 157.6h1.4v1.4h-1.4zM613.3 157.6h4.1v1.4h-4.1zM626.9 157.6h1.4v1.4h-1.4zM633.6 157.6h1.4v1.4h-1.4zM546.8 156.2h12.2v1.4h-12.2zM568.5 156.2h4.1v1.4h-4.1zM576.6 156.2h1.4v1.4h-1.4zM587.5 156.2h4.1v1.4h-4.1zM598.4 156.2h2.7v1.4h-2.7zM605.1 156.2h2.7v1.4h-2.7zM616.0 156.2h1.4v1.4h-1.4zM625.5 156.2h1.4v1.4h-1.4zM632.3 156.2h2.7v1.4h-2.7zM639.1 156.2h2.7v1.4h-2.7zM644.5 156.2h4.1v1.4h-4.1zM546.8 154.9h2.7v1.4h-2.7zM557.6 154.9h2.7v1.4h-2.7zM568.5 154.9h8.1v1.4h-8.1zM586.1 154.9h1.4v1.4h-1.4zM590.2 154.9h1.4v1.4h-1.4zM599.7 154.9h5.4v1.4h-5.4zM617.4 154.9h1.4v1.4h-1.4zM620.1 154.9h6.8v1.4h-6.8zM632.3 154.9h2.7v1.4h-2.7zM639.1 154.9h2.7v1.4h-2.7zM644.5 154.9h4.1v1.4h-4.1zM542.7 153.5h5.4v1.4h-5.4zM560.4 153.5h1.4v1.4h-1.4zM568.5 153.5h1.4v1.4h-1.4zM571.2 153.5h10.9v1.4h-10.9zM584.8 153.5h2.7v1.4h-2.7zM590.2 153.5h1.4v1.4h-1.4zM617.4 153.5h2.7v1.4h-2.7zM622.8 153.5h4.1v1.4h-4.1zM630.9 153.5h4.1v1.4h-4.1zM644.5 153.5h2.7v1.4h-2.7zM663.5 153.5h2.7v1.4h-2.7zM544.1 152.2h5.4v1.4h-5.4zM560.4 152.2h1.4v1.4h-1.4zM568.5 152.2h19.0v1.4h-19.0zM588.9 152.2h2.7v1.4h-2.7zM616.0 152.2h2.7v1.4h-2.7zM622.8 152.2h4.1v1.4h-4.1zM630.9 152.2h2.7v1.4h-2.7zM663.5 152.2h2.7v1.4h-2.7zM670.3 152.2h1.4v1.4h-1.4zM545.4 150.8h8.1v1.4h-8.1zM556.3 150.8h5.4v1.4h-5.4zM568.5 150.8h8.1v1.4h-8.1zM580.7 150.8h2.7v1.4h-2.7zM584.8 150.8h8.1v1.4h-8.1zM616.0 150.8h1.4v1.4h-1.4zM622.8 150.8h1.4v1.4h-1.4zM632.3 150.8h1.4v1.4h-1.4zM656.7 150.8h4.1v1.4h-4.1zM668.9 150.8h2.7v1.4h-2.7zM544.1 149.4h9.5v1.4h-9.5zM557.6 149.4h5.4v1.4h-5.4zM565.8 149.4h10.9v1.4h-10.9zM579.4 149.4h2.7v1.4h-2.7zM584.8 149.4h6.8v1.4h-6.8zM632.3 149.4h1.4v1.4h-1.4zM658.1 149.4h4.1v1.4h-4.1zM668.9 149.4h2.7v1.4h-2.7zM544.1 148.1h2.7v1.4h-2.7zM548.1 148.1h2.7v1.4h-2.7zM559.0 148.1h1.4v1.4h-1.4zM561.7 148.1h2.7v1.4h-2.7zM565.8 148.1h5.4v1.4h-5.4zM573.9 148.1h2.7v1.4h-2.7zM578.0 148.1h8.1v1.4h-8.1zM588.9 148.1h1.4v1.4h-1.4zM632.3 148.1h1.4v1.4h-1.4zM635.0 148.1h5.4v1.4h-5.4zM659.4 148.1h1.4v1.4h-1.4zM544.1 146.7h2.7v1.4h-2.7zM548.1 146.7h1.4v1.4h-1.4zM563.1 146.7h5.4v1.4h-5.4zM569.9 146.7h1.4v1.4h-1.4zM573.9 146.7h2.7v1.4h-2.7zM578.0 146.7h6.8v1.4h-6.8zM588.9 146.7h1.4v1.4h-1.4zM633.6 146.7h6.8v1.4h-6.8zM649.9 146.7h2.7v1.4h-2.7zM545.4 145.4h4.1v1.4h-4.1zM563.1 145.4h5.4v1.4h-5.4zM571.2 145.4h5.4v1.4h-5.4zM579.4 145.4h4.1v1.4h-4.1zM588.9 145.4h1.4v1.4h-1.4zM635.0 145.4h5.4v1.4h-5.4zM649.9 145.4h2.7v1.4h-2.7zM546.8 144.0h2.7v1.4h-2.7zM563.1 144.0h5.4v1.4h-5.4zM571.2 144.0h12.2v1.4h-12.2zM588.9 144.0h1.4v1.4h-1.4zM636.4 144.0h2.7v1.4h-2.7zM649.9 144.0h2.7v1.4h-2.7zM563.1 142.6h1.4v1.4h-1.4zM565.8 142.6h1.4v1.4h-1.4zM568.5 142.6h8.1v1.4h-8.1zM578.0 142.6h4.1v1.4h-4.1zM588.9 142.6h1.4v1.4h-1.4zM636.4 142.6h2.7v1.4h-2.7zM647.2 142.6h2.7v1.4h-2.7zM652.6 142.6h2.7v1.4h-2.7zM561.7 141.3h1.4v1.4h-1.4zM568.5 141.3h2.7v1.4h-2.7zM572.6 141.3h2.7v1.4h-2.7zM579.4 141.3h1.4v1.4h-1.4zM588.9 141.3h2.7v1.4h-2.7zM636.4 141.3h2.7v1.4h-2.7zM641.8 141.3h1.4v1.4h-1.4zM647.2 141.3h2.7v1.4h-2.7zM652.6 141.3h2.7v1.4h-2.7zM561.7 139.9h4.1v1.4h-4.1zM573.9 139.9h1.4v1.4h-1.4zM579.4 139.9h1.4v1.4h-1.4zM591.6 139.9h1.4v1.4h-1.4zM633.6 139.9h2.7v1.4h-2.7zM639.1 139.9h5.4v1.4h-5.4zM561.7 138.6h4.1v1.4h-4.1zM573.9 138.6h1.4v1.4h-1.4zM579.4 138.6h1.4v1.4h-1.4zM592.9 138.6h1.4v1.4h-1.4zM620.1 138.6h4.1v1.4h-4.1zM625.5 138.6h5.4v1.4h-5.4zM633.6 138.6h1.4v1.4h-1.4zM639.1 138.6h5.4v1.4h-5.4zM563.1 137.2h2.7v1.4h-2.7zM572.6 137.2h1.4v1.4h-1.4zM579.4 137.2h1.4v1.4h-1.4zM592.9 137.2h6.8v1.4h-6.8zM614.6 137.2h6.8v1.4h-6.8zM624.1 137.2h4.1v1.4h-4.1zM629.6 137.2h13.6v1.4h-13.6zM660.8 137.2h2.7v1.4h-2.7zM572.6 135.9h1.4v1.4h-1.4zM576.6 135.9h2.7v1.4h-2.7zM606.5 135.9h1.4v1.4h-1.4zM613.3 135.9h2.7v1.4h-2.7zM617.4 135.9h2.7v1.4h-2.7zM630.9 135.9h13.6v1.4h-13.6zM660.8 135.9h2.7v1.4h-2.7zM573.9 134.5h2.7v1.4h-2.7zM597.0 134.5h2.7v1.4h-2.7zM603.8 134.5h2.7v1.4h-2.7zM607.9 134.5h6.8v1.4h-6.8zM617.4 134.5h2.7v1.4h-2.7zM637.7 134.5h2.7v1.4h-2.7zM643.1 134.5h1.4v1.4h-1.4zM598.4 133.1h5.4v1.4h-5.4zM609.2 133.1h4.1v1.4h-4.1zM617.4 133.1h2.7v1.4h-2.7zM639.1 133.1h1.4v1.4h-1.4zM643.1 133.1h1.4v1.4h-1.4zM599.7 131.8h1.4v1.4h-1.4zM609.2 131.8h5.4v1.4h-5.4zM633.6 131.8h2.7v1.4h-2.7zM637.7 131.8h5.4v1.4h-5.4zM609.2 130.4h5.4v1.4h-5.4zM633.6 130.4h2.7v1.4h-2.7zM639.1 130.4h2.7v1.4h-2.7zM607.9 129.1h5.4v1.4h-5.4zM609.2 127.7h5.4v1.4h-5.4zM610.6 126.3h4.1v1.4h-4.1zM644.5 126.3h2.7v1.4h-2.7zM610.6 125.0h4.1v1.4h-4.1zM644.5 125.0h2.7v1.4h-2.7zM599.7 123.6h4.1v1.4h-4.1zM609.2 123.6h8.1v1.4h-8.1zM666.2 123.6h2.7v1.4h-2.7zM601.1 122.3h2.7v1.4h-2.7zM609.2 122.3h2.7v1.4h-2.7zM614.6 122.3h2.7v1.4h-2.7zM666.2 122.3h2.7v1.4h-2.7zM584.8 120.9h2.7v1.4h-2.7zM592.9 120.9h5.4v1.4h-5.4zM602.4 120.9h4.1v1.4h-4.1zM584.8 119.6h2.7v1.4h-2.7zM592.9 119.6h5.4v1.4h-5.4zM603.8 119.6h2.7v1.4h-2.7zM569.9 115.5h4.1v1.4h-4.1zM571.2 114.1h2.7v1.4h-2.7zM579.4 112.8h9.5v1.4h-9.5zM579.4 111.4h8.1v1.4h-8.1zM594.3 111.4h4.1v1.4h-4.1zM546.8 110.0h2.7v1.4h-2.7zM573.9 110.0h5.4v1.4h-5.4zM582.1 110.0h4.1v1.4h-4.1zM591.6 110.0h1.4v1.4h-1.4zM598.4 110.0h2.7v1.4h-2.7zM609.2 110.0h2.7v1.4h-2.7zM546.8 108.7h2.7v1.4h-2.7zM573.9 108.7h4.1v1.4h-4.1zM583.4 108.7h2.7v1.4h-2.7zM591.6 108.7h1.4v1.4h-1.4zM601.1 108.7h1.4v1.4h-1.4zM609.2 108.7h4.1v1.4h-4.1zM548.1 107.3h1.4v1.4h-1.4zM565.8 107.3h2.7v1.4h-2.7zM571.2 107.3h2.7v1.4h-2.7zM575.3 107.3h1.4v1.4h-1.4zM583.4 107.3h9.5v1.4h-9.5zM601.1 107.3h1.4v1.4h-1.4zM609.2 107.3h4.1v1.4h-4.1zM563.1 106.0h10.9v1.4h-10.9zM575.3 106.0h1.4v1.4h-1.4zM584.8 106.0h8.1v1.4h-8.1zM609.2 106.0h2.7v1.4h-2.7zM563.1 104.6h1.4v1.4h-1.4zM568.5 104.6h4.1v1.4h-4.1zM576.6 104.6h2.7v1.4h-2.7zM584.8 104.6h8.1v1.4h-8.1zM601.1 104.6h1.4v1.4h-1.4zM563.1 103.2h1.4v1.4h-1.4zM568.5 103.2h4.1v1.4h-4.1zM579.4 103.2h2.7v1.4h-2.7zM584.8 103.2h1.4v1.4h-1.4zM587.5 103.2h2.7v1.4h-2.7zM591.6 103.2h2.7v1.4h-2.7zM601.1 103.2h1.4v1.4h-1.4zM563.1 101.9h2.7v1.4h-2.7zM568.5 101.9h4.1v1.4h-4.1zM582.1 101.9h1.4v1.4h-1.4zM592.9 101.9h8.1v1.4h-8.1zM603.8 101.9h2.7v1.4h-2.7zM563.1 100.5h9.5v1.4h-9.5zM592.9 100.5h2.7v1.4h-2.7zM603.8 100.5h2.7v1.4h-2.7zM554.9 99.2h2.7v1.4h-2.7zM563.1 99.2h10.9v1.4h-10.9zM592.9 99.2h2.7v1.4h-2.7zM609.2 99.2h2.7v1.4h-2.7zM554.9 97.8h2.7v1.4h-2.7zM563.1 97.8h10.9v1.4h-10.9zM579.4 97.8h1.4v1.4h-1.4zM609.2 97.8h2.7v1.4h-2.7zM554.9 96.5h2.7v1.4h-2.7zM567.1 96.5h1.4v1.4h-1.4zM571.2 96.5h1.4v1.4h-1.4zM578.0 96.5h4.1v1.4h-4.1zM552.2 95.1h4.1v1.4h-4.1zM567.1 95.1h1.4v1.4h-1.4zM578.0 95.1h5.4v1.4h-5.4zM592.9 95.1h2.7v1.4h-2.7zM550.9 93.7h5.4v1.4h-5.4zM565.8 93.7h2.7v1.4h-2.7zM578.0 93.7h5.4v1.4h-5.4zM591.6 93.7h4.1v1.4h-4.1zM550.9 92.4h6.8v1.4h-6.8zM564.4 92.4h4.1v1.4h-4.1zM576.6 92.4h6.8v1.4h-6.8zM591.6 92.4h4.1v1.4h-4.1zM550.9 91.0h8.1v1.4h-8.1zM576.6 91.0h2.7v1.4h-2.7zM582.1 91.0h2.7v1.4h-2.7zM591.6 91.0h4.1v1.4h-4.1zM553.6 89.7h5.4v1.4h-5.4zM576.6 89.7h2.7v1.4h-2.7zM582.1 89.7h2.7v1.4h-2.7zM591.6 89.7h4.1v1.4h-4.1zM553.6 88.3h5.4v1.4h-5.4zM563.1 88.3h2.7v1.4h-2.7zM554.9 86.9h2.7v1.4h-2.7zM563.1 86.9h2.7v1.4h-2.7zM590.2 85.6h2.7v1.4h-2.7zM601.1 85.6h2.7v1.4h-2.7zM617.4 85.6h2.7v1.4h-2.7zM590.2 84.2h2.7v1.4h-2.7zM601.1 84.2h2.7v1.4h-2.7zM617.4 84.2h2.7v1.4h-2.7zM595.6 82.9h4.1v1.4h-4.1zM601.1 82.9h1.4v1.4h-1.4zM549.5 81.5h2.7v1.4h-2.7zM595.6 81.5h4.1v1.4h-4.1zM601.1 81.5h2.7v1.4h-2.7zM549.5 80.1h2.7v1.4h-2.7zM584.8 80.1h5.4v1.4h-5.4zM599.7 80.1h6.8v1.4h-6.8zM549.5 78.8h2.7v1.4h-2.7zM578.0 78.8h4.1v1.4h-4.1zM584.8 78.8h6.8v1.4h-6.8zM599.7 78.8h6.8v1.4h-6.8zM572.6 77.4h5.4v1.4h-5.4zM579.4 77.4h4.1v1.4h-4.1zM584.8 77.4h9.5v1.4h-9.5zM572.6 76.1h4.1v1.4h-4.1zM579.4 76.1h14.9v1.4h-14.9zM554.9 74.7h6.8v1.4h-6.8zM568.5 74.7h4.1v1.4h-4.1zM575.3 74.7h1.4v1.4h-1.4zM579.4 74.7h13.6v1.4h-13.6zM554.9 73.4h6.8v1.4h-6.8zM568.5 73.4h4.1v1.4h-4.1zM575.3 73.4h12.2v1.4h-12.2zM572.6 72.0h13.6v1.4h-13.6zM572.6 70.6h2.7v1.4h-2.7zM576.6 70.6h6.8v1.4h-6.8zM556.3 69.3h5.4v1.4h-5.4zM572.6 69.3h6.8v1.4h-6.8zM595.6 69.3h5.4v1.4h-5.4zM556.3 67.9h5.4v1.4h-5.4zM571.2 67.9h8.1v1.4h-8.1zM595.6 67.9h5.4v1.4h-5.4zM571.2 66.6h2.7v1.4h-2.7zM575.3 66.6h2.7v1.4h-2.7zM584.8 66.6h2.7v1.4h-2.7zM571.2 65.2h2.7v1.4h-2.7zM575.3 65.2h1.4v1.4h-1.4zM584.8 65.2h2.7v1.4h-2.7zM563.1 63.8h2.7v1.4h-2.7zM573.9 63.8h2.7v1.4h-2.7zM599.7 63.8h4.1v1.4h-4.1zM563.1 62.5h2.7v1.4h-2.7zM599.7 62.5h4.1v1.4h-4.1z"/>
<path fill="#b8b880" d="M578.0 183.4h1.4v1.4h-1.4zM587.5 183.4h2.7v1.4h-2.7zM597.0 183.4h2.7v1.4h-2.7zM611.9 183.4h1.4v1.4h-1.4zM565.8 182.0h2.7v1.4h-2.7zM603.8 182.0h1.4v1.4h-1.4zM609.2 182.0h1.4v1.4h-1.4zM617.4 182.0h1.4v1.4h-1.4zM636.4 182.0h1.4v1.4h-1.4zM563.1 180.7h1.4v1.4h-1.4zM573.9 180.7h1.4v1.4h-1.4zM621.4 180.7h1.4v1.4h-1.4zM626.9 180.7h1.4v1.4h-1.4zM635.0 180.7h1.4v1.4h-1.4zM561.7 178.0h1.4v1.4h-1.4zM565.8 176.6h1.4v1.4h-1.4zM641.8 175.3h1.4v1.4h-1.4zM565.8 172.5h2.7v1.4h-2.7zM563.1 171.2h1.4v1.4h-1.4zM569.9 171.2h1.4v1.4h-1.4zM572.6 171.2h1.4v1.4h-1.4zM635.0 171.2h1.4v1.4h-1.4zM556.3 169.8h1.4v1.4h-1.4zM573.9 169.8h2.7v1.4h-2.7zM582.1 169.8h2.7v1.4h-2.7zM607.9 169.8h1.4v1.4h-1.4zM633.6 169.8h1.4v1.4h-1.4zM637.7 169.8h1.4v1.4h-1.4zM640.4 169.8h1.4v1.4h-1.4zM549.5 168.5h2.7v1.4h-2.7zM567.1 168.5h4.1v1.4h-4.1zM611.9 168.5h1.4v1.4h-1.4zM609.2 167.1h2.7v1.4h-2.7zM613.3 167.1h1.4v1.4h-1.4zM630.9 167.1h1.4v1.4h-1.4zM656.7 167.1h1.4v1.4h-1.4zM565.8 165.7h1.4v1.4h-1.4zM588.9 165.7h1.4v1.4h-1.4zM590.2 164.4h1.4v1.4h-1.4zM595.6 164.4h1.4v1.4h-1.4zM624.1 164.4h1.4v1.4h-1.4zM655.4 164.4h2.7v1.4h-2.7zM624.1 163.0h1.4v1.4h-1.4zM548.1 161.7h1.4v1.4h-1.4zM560.4 161.7h1.4v1.4h-1.4zM576.6 161.7h1.4v1.4h-1.4zM588.9 160.3h1.4v1.4h-1.4zM550.9 159.0h1.4v1.4h-1.4zM565.8 159.0h2.7v1.4h-2.7zM571.2 159.0h1.4v1.4h-1.4zM576.6 159.0h1.4v1.4h-1.4zM588.9 159.0h1.4v1.4h-1.4zM556.3 157.6h1.4v1.4h-1.4zM571.2 157.6h1.4v1.4h-1.4zM597.0 157.6h1.4v1.4h-1.4zM632.3 157.6h1.4v1.4h-1.4zM559.0 156.2h1.4v1.4h-1.4zM572.6 156.2h1.4v1.4h-1.4zM575.3 156.2h1.4v1.4h-1.4zM613.3 156.2h1.4v1.4h-1.4zM626.9 156.2h1.4v1.4h-1.4zM591.6 154.9h1.4v1.4h-1.4zM605.1 154.9h1.4v1.4h-1.4zM616.0 154.9h1.4v1.4h-1.4zM626.9 154.9h1.4v1.4h-1.4zM591.6 153.5h1.4v1.4h-1.4zM616.0 153.5h1.4v1.4h-1.4zM626.9 153.5h1.4v1.4h-1.4zM591.6 152.2h1.4v1.4h-1.4zM614.6 152.2h1.4v1.4h-1.4zM618.7 152.2h1.4v1.4h-1.4zM626.9 152.2h1.4v1.4h-1.4zM561.7 150.8h1.4v1.4h-1.4zM567.1 150.8h1.4v1.4h-1.4zM583.4 150.8h1.4v1.4h-1.4zM614.6 150.8h1.4v1.4h-1.4zM620.1 150.8h2.7v1.4h-2.7zM624.1 150.8h1.4v1.4h-1.4zM630.9 150.8h1.4v1.4h-1.4zM563.1 149.4h2.7v1.4h-2.7zM582.1 149.4h2.7v1.4h-2.7zM546.8 148.1h1.4v1.4h-1.4zM564.4 148.1h1.4v1.4h-1.4zM571.2 148.1h2.7v1.4h-2.7zM630.9 148.1h1.4v1.4h-1.4zM546.8 146.7h1.4v1.4h-1.4zM571.2 146.7h2.7v1.4h-2.7zM632.3 146.7h1.4v1.4h-1.4zM590.2 145.4h1.4v1.4h-1.4zM590.2 144.0h1.4v1.4h-1.4zM635.0 144.0h1.4v1.4h-1.4zM564.4 142.6h1.4v1.4h-1.4zM576.6 142.6h1.4v1.4h-1.4zM590.2 142.6h1.4v1.4h-1.4zM563.1 141.3h2.7v1.4h-2.7zM575.3 141.3h1.4v1.4h-1.4zM591.6 141.3h1.4v1.4h-1.4zM635.0 141.3h1.4v1.4h-1.4zM611.9 139.9h1.4v1.4h-1.4zM620.1 139.9h2.7v1.4h-2.7zM610.6 138.6h2.7v1.4h-2.7zM618.7 138.6h1.4v1.4h-1.4zM624.1 138.6h1.4v1.4h-1.4zM632.3 138.6h1.4v1.4h-1.4zM578.0 137.2h1.4v1.4h-1.4zM573.9 135.9h1.4v1.4h-1.4zM607.9 135.9h1.4v1.4h-1.4zM599.7 134.5h1.4v1.4h-1.4zM641.8 133.1h1.4v1.4h-1.4zM579.4 110.0h2.7v1.4h-2.7zM592.9 110.0h1.4v1.4h-1.4zM597.0 110.0h1.4v1.4h-1.4zM582.1 108.7h1.4v1.4h-1.4zM599.7 108.7h1.4v1.4h-1.4zM583.4 106.0h1.4v1.4h-1.4zM601.1 106.0h1.4v1.4h-1.4zM583.4 103.2h1.4v1.4h-1.4zM565.8 101.9h2.7v1.4h-2.7zM578.0 77.4h1.4v1.4h-1.4zM576.6 74.7h1.4v1.4h-1.4zM575.3 70.6h1.4v1.4h-1.4zM573.9 66.6h1.4v1.4h-1.4zM573.9 65.2h1.4v1.4h-1.4z"/>
<path fill="#ff10ff" d="M580.7 183.4h1.4v1.4h-1.4zM613.3 183.4h1.4v1.4h-1.4zM582.1 182.0h1.4v1.4h-1.4zM584.8 182.0h1.4v1.4h-1.4zM564.4 180.7h1.4v1.4h-1.4zM606.5 180.7h1.4v1.4h-1.4zM620.1 180.7h1.4v1.4h-1.4zM625.5 180.7h1.4v1.4h-1.4zM561.7 179.3h2.7v1.4h-2.7zM568.5 179.3h4.1v1.4h-4.1zM622.8 179.3h1.4v1.4h-1.4zM628.2 179.3h1.4v1.4h-1.4zM633.6 179.3h1.4v1.4h-1.4zM563.1 178.0h2.7v1.4h-2.7zM568.5 173.9h1.4v1.4h-1.4zM568.5 172.5h2.7v1.4h-2.7zM564.4 171.2h5.4v1.4h-5.4zM564.4 169.8h6.8v1.4h-6.8zM576.6 169.8h2.7v1.4h-2.7zM605.1 169.8h1.4v1.4h-1.4zM621.4 169.8h1.4v1.4h-1.4zM639.1 169.8h1.4v1.4h-1.4zM565.8 168.5h1.4v1.4h-1.4zM586.1 168.5h1.4v1.4h-1.4zM601.1 168.5h1.4v1.4h-1.4zM609.2 168.5h2.7v1.4h-2.7zM630.9 168.5h1.4v1.4h-1.4zM565.8 167.1h1.4v1.4h-1.4zM587.5 167.1h1.4v1.4h-1.4zM591.6 167.1h1.4v1.4h-1.4zM599.7 167.1h1.4v1.4h-1.4zM655.4 167.1h1.4v1.4h-1.4zM545.4 165.7h1.4v1.4h-1.4zM620.1 165.7h1.4v1.4h-1.4zM625.5 165.7h1.4v1.4h-1.4zM655.4 165.7h2.7v1.4h-2.7zM561.7 164.4h1.4v1.4h-1.4zM616.0 164.4h1.4v1.4h-1.4zM590.2 163.0h1.4v1.4h-1.4zM573.9 161.7h1.4v1.4h-1.4zM550.9 160.3h1.4v1.4h-1.4zM560.4 160.3h1.4v1.4h-1.4zM576.6 160.3h1.4v1.4h-1.4zM561.7 159.0h1.4v1.4h-1.4zM572.6 159.0h1.4v1.4h-1.4zM595.6 159.0h1.4v1.4h-1.4zM552.2 157.6h1.4v1.4h-1.4zM554.9 157.6h1.4v1.4h-1.4zM557.6 157.6h2.7v1.4h-2.7zM563.1 157.6h2.7v1.4h-2.7zM567.1 157.6h1.4v1.4h-1.4zM609.2 157.6h1.4v1.4h-1.4zM611.9 157.6h1.4v1.4h-1.4zM567.1 156.2h1.4v1.4h-1.4zM573.9 156.2h1.4v1.4h-1.4zM614.6 156.2h1.4v1.4h-1.4zM560.4 154.9h1.4v1.4h-1.4zM567.1 154.9h1.4v1.4h-1.4zM598.4 154.9h1.4v1.4h-1.4zM613.3 154.9h2.7v1.4h-2.7zM630.9 154.9h1.4v1.4h-1.4zM614.6 153.5h1.4v1.4h-1.4zM620.1 153.5h2.7v1.4h-2.7zM561.7 152.2h1.4v1.4h-1.4zM565.8 150.8h1.4v1.4h-1.4zM613.3 150.8h1.4v1.4h-1.4zM617.4 150.8h2.7v1.4h-2.7zM625.5 150.8h1.4v1.4h-1.4zM591.6 149.4h1.4v1.4h-1.4zM614.6 149.4h2.7v1.4h-2.7zM620.1 149.4h2.7v1.4h-2.7zM630.9 149.4h1.4v1.4h-1.4zM590.2 148.1h1.4v1.4h-1.4zM590.2 146.7h1.4v1.4h-1.4zM591.6 144.0h1.4v1.4h-1.4zM591.6 142.6h1.4v1.4h-1.4zM635.0 142.6h1.4v1.4h-1.4zM578.0 141.3h1.4v1.4h-1.4zM575.3 139.9h1.4v1.4h-1.4zM592.9 139.9h1.4v1.4h-1.4zM610.6 139.9h1.4v1.4h-1.4zM613.3 139.9h1.4v1.4h-1.4zM628.2 139.9h1.4v1.4h-1.4zM609.2 138.6h1.4v1.4h-1.4zM613.3 138.6h1.4v1.4h-1.4zM630.9 138.6h1.4v1.4h-1.4zM573.9 137.2h1.4v1.4h-1.4zM613.3 137.2h1.4v1.4h-1.4zM575.3 135.9h1.4v1.4h-1.4zM599.7 135.9h1.4v1.4h-1.4zM605.1 135.9h1.4v1.4h-1.4zM611.9 135.9h1.4v1.4h-1.4zM640.4 134.5h2.7v1.4h-2.7zM640.4 133.1h1.4v1.4h-1.4zM594.3 110.0h2.7v1.4h-2.7zM576.6 106.0h1.4v1.4h-1.4zM564.4 104.6h1.4v1.4h-1.4zM567.1 104.6h1.4v1.4h-1.4zM583.4 104.6h1.4v1.4h-1.4zM592.9 104.6h1.4v1.4h-1.4zM564.4 103.2h1.4v1.4h-1.4zM582.1 103.2h1.4v1.4h-1.4zM594.3 103.2h1.4v1.4h-1.4zM599.7 103.2h1.4v1.4h-1.4zM576.6 76.1h2.7v1.4h-2.7zM578.0 74.7h1.4v1.4h-1.4z"/>
<path fill="#50e4f4" d="M579.4 183.4h1.4v1.4h-1.4zM614.6 183.4h2.7v1.4h-2.7zM576.6 182.0h1.4v1.4h-1.4zM586.1 182.0h1.4v1.4h-1.4zM592.9 182.0h10.9v1.4h-10.9zM610.6 182.0h2.7v1.4h-2.7zM565.8 180.7h2.7v1.4h-2.7zM603.8 180.7h2.7v1.4h-2.7zM607.9 180.7h1.4v1.4h-1.4zM618.7 180.7h1.4v1.4h-1.4zM564.4 179.3h4.1v1.4h-4.1zM572.6 179.3h1.4v1.4h-1.4zM624.1 179.3h1.4v1.4h-1.4zM639.1 179.3h1.4v1.4h-1.4zM565.8 178.0h2.7v1.4h-2.7zM630.9 178.0h2.7v1.4h-2.7zM640.4 178.0h1.4v1.4h-1.4zM567.1 176.6h1.4v1.4h-1.4zM613.3 176.6h1.4v1.4h-1.4zM568.5 175.3h1.4v1.4h-1.4zM614.6 175.3h2.7v1.4h-2.7zM614.6 173.9h2.7v1.4h-2.7zM641.8 173.9h1.4v1.4h-1.4zM571.2 172.5h1.4v1.4h-1.4zM613.3 172.5h4.1v1.4h-4.1zM573.9 171.2h1.4v1.4h-1.4zM611.9 171.2h2.7v1.4h-2.7zM633.6 171.2h1.4v1.4h-1.4zM641.8 171.2h1.4v1.4h-1.4zM561.7 169.8h2.7v1.4h-2.7zM579.4 169.8h2.7v1.4h-2.7zM584.8 169.8h1.4v1.4h-1.4zM602.4 169.8h2.7v1.4h-2.7zM609.2 169.8h1.4v1.4h-1.4zM611.9 169.8h2.7v1.4h-2.7zM620.1 169.8h1.4v1.4h-1.4zM622.8 169.8h1.4v1.4h-1.4zM632.3 169.8h1.4v1.4h-1.4zM556.3 168.5h1.4v1.4h-1.4zM564.4 168.5h1.4v1.4h-1.4zM587.5 168.5h1.4v1.4h-1.4zM594.3 168.5h1.4v1.4h-1.4zM613.3 168.5h1.4v1.4h-1.4zM620.1 168.5h1.4v1.4h-1.4zM624.1 168.5h1.4v1.4h-1.4zM629.6 168.5h1.4v1.4h-1.4zM546.8 167.1h1.4v1.4h-1.4zM554.9 167.1h1.4v1.4h-1.4zM588.9 167.1h2.7v1.4h-2.7zM598.4 167.1h1.4v1.4h-1.4zM620.1 167.1h1.4v1.4h-1.4zM625.5 167.1h5.4v1.4h-5.4zM564.4 165.7h1.4v1.4h-1.4zM595.6 165.7h2.7v1.4h-2.7zM614.6 165.7h1.4v1.4h-1.4zM626.9 165.7h1.4v1.4h-1.4zM629.6 165.7h1.4v1.4h-1.4zM544.1 164.4h1.4v1.4h-1.4zM554.9 164.4h2.7v1.4h-2.7zM591.6 164.4h1.4v1.4h-1.4zM594.3 164.4h1.4v1.4h-1.4zM617.4 164.4h2.7v1.4h-2.7zM544.1 163.0h1.4v1.4h-1.4zM546.8 163.0h1.4v1.4h-1.4zM554.9 163.0h2.7v1.4h-2.7zM630.9 163.0h1.4v1.4h-1.4zM575.3 161.7h1.4v1.4h-1.4zM590.2 161.7h1.4v1.4h-1.4zM594.3 161.7h1.4v1.4h-1.4zM632.3 161.7h1.4v1.4h-1.4zM552.2 160.3h1.4v1.4h-1.4zM573.9 160.3h2.7v1.4h-2.7zM590.2 160.3h1.4v1.4h-1.4zM625.5 160.3h1.4v1.4h-1.4zM552.2 159.0h1.4v1.4h-1.4zM556.3 159.0h5.4v1.4h-5.4zM573.9 159.0h2.7v1.4h-2.7zM626.9 159.0h1.4v1.4h-1.4zM632.3 159.0h1.4v1.4h-1.4zM553.6 157.6h1.4v1.4h-1.4zM560.4 157.6h2.7v1.4h-2.7zM565.8 157.6h1.4v1.4h-1.4zM572.6 157.6h4.1v1.4h-4.1zM590.2 157.6h1.4v1.4h-1.4zM610.6 157.6h1.4v1.4h-1.4zM628.2 157.6h1.4v1.4h-1.4zM630.9 157.6h1.4v1.4h-1.4zM560.4 156.2h1.4v1.4h-1.4zM565.8 156.2h1.4v1.4h-1.4zM591.6 156.2h1.4v1.4h-1.4zM597.0 156.2h1.4v1.4h-1.4zM607.9 156.2h1.4v1.4h-1.4zM611.9 156.2h1.4v1.4h-1.4zM630.9 156.2h1.4v1.4h-1.4zM606.5 154.9h1.4v1.4h-1.4zM611.9 154.9h1.4v1.4h-1.4zM561.7 153.5h1.4v1.4h-1.4zM567.1 153.5h1.4v1.4h-1.4zM592.9 153.5h8.1v1.4h-8.1zM613.3 153.5h1.4v1.4h-1.4zM628.2 153.5h2.7v1.4h-2.7zM567.1 152.2h1.4v1.4h-1.4zM592.9 152.2h5.4v1.4h-5.4zM613.3 152.2h1.4v1.4h-1.4zM620.1 152.2h2.7v1.4h-2.7zM628.2 152.2h2.7v1.4h-2.7zM563.1 150.8h2.7v1.4h-2.7zM626.9 150.8h1.4v1.4h-1.4zM629.6 150.8h1.4v1.4h-1.4zM613.3 149.4h1.4v1.4h-1.4zM617.4 149.4h2.7v1.4h-2.7zM622.8 149.4h2.7v1.4h-2.7zM616.0 148.1h1.4v1.4h-1.4zM630.9 146.7h1.4v1.4h-1.4zM591.6 145.4h1.4v1.4h-1.4zM633.6 145.4h1.4v1.4h-1.4zM592.9 144.0h1.4v1.4h-1.4zM592.9 142.6h1.4v1.4h-1.4zM576.6 141.3h1.4v1.4h-1.4zM592.9 141.3h1.4v1.4h-1.4zM613.3 141.3h1.4v1.4h-1.4zM633.6 141.3h1.4v1.4h-1.4zM578.0 139.9h1.4v1.4h-1.4zM609.2 139.9h1.4v1.4h-1.4zM618.7 139.9h1.4v1.4h-1.4zM622.8 139.9h5.4v1.4h-5.4zM629.6 139.9h1.4v1.4h-1.4zM632.3 139.9h1.4v1.4h-1.4zM575.3 138.6h1.4v1.4h-1.4zM578.0 138.6h1.4v1.4h-1.4zM594.3 138.6h1.4v1.4h-1.4zM614.6 138.6h4.1v1.4h-4.1zM575.3 137.2h2.7v1.4h-2.7zM599.7 137.2h1.4v1.4h-1.4zM606.5 137.2h2.7v1.4h-2.7zM611.9 137.2h1.4v1.4h-1.4zM609.2 135.9h2.7v1.4h-2.7zM578.0 108.7h1.4v1.4h-1.4zM592.9 108.7h1.4v1.4h-1.4zM576.6 107.3h1.4v1.4h-1.4zM565.8 104.6h1.4v1.4h-1.4zM565.8 103.2h2.7v1.4h-2.7z"/>
<path fill="#a83030" d="M587.5 182.0h1.4v1.4h-1.4zM590.2 182.0h2.7v1.4h-2.7zM613.3 182.0h1.4v1.4h-1.4zM616.0 182.0h1.4v1.4h-1.4zM575.3 180.7h1.4v1.4h-1.4zM584.8 180.7h1.4v1.4h-1.4zM609.2 180.7h1.4v1.4h-1.4zM617.4 180.7h1.4v1.4h-1.4zM637.7 180.7h1.4v1.4h-1.4zM621.4 179.3h1.4v1.4h-1.4zM635.0 179.3h1.4v1.4h-1.4zM613.3 178.0h2.7v1.4h-2.7zM614.6 176.6h1.4v1.4h-1.4zM613.3 175.3h1.4v1.4h-1.4zM569.9 173.9h1.4v1.4h-1.4zM613.3 173.9h1.4v1.4h-1.4zM572.6 172.5h1.4v1.4h-1.4zM641.8 172.5h1.4v1.4h-1.4zM575.3 171.2h1.4v1.4h-1.4zM606.5 171.2h2.7v1.4h-2.7zM614.6 171.2h1.4v1.4h-1.4zM557.6 169.8h1.4v1.4h-1.4zM560.4 169.8h1.4v1.4h-1.4zM586.1 169.8h1.4v1.4h-1.4zM610.6 169.8h1.4v1.4h-1.4zM592.9 168.5h1.4v1.4h-1.4zM548.1 167.1h2.7v1.4h-2.7zM595.6 167.1h1.4v1.4h-1.4zM546.8 165.7h1.4v1.4h-1.4zM554.9 165.7h1.4v1.4h-1.4zM628.2 165.7h1.4v1.4h-1.4zM546.8 164.4h1.4v1.4h-1.4zM553.6 164.4h1.4v1.4h-1.4zM560.4 164.4h1.4v1.4h-1.4zM592.9 164.4h1.4v1.4h-1.4zM625.5 164.4h1.4v1.4h-1.4zM545.4 163.0h1.4v1.4h-1.4zM553.6 163.0h1.4v1.4h-1.4zM559.0 163.0h1.4v1.4h-1.4zM591.6 163.0h1.4v1.4h-1.4zM549.5 161.7h1.4v1.4h-1.4zM553.6 161.7h1.4v1.4h-1.4zM559.0 161.7h1.4v1.4h-1.4zM591.6 161.7h1.4v1.4h-1.4zM559.0 160.3h1.4v1.4h-1.4zM594.3 160.3h1.4v1.4h-1.4zM632.3 160.3h1.4v1.4h-1.4zM553.6 159.0h2.7v1.4h-2.7zM590.2 159.0h1.4v1.4h-1.4zM595.6 157.6h1.4v1.4h-1.4zM629.6 157.6h1.4v1.4h-1.4zM561.7 156.2h4.1v1.4h-4.1zM628.2 156.2h1.4v1.4h-1.4zM561.7 154.9h1.4v1.4h-1.4zM597.0 154.9h1.4v1.4h-1.4zM628.2 154.9h2.7v1.4h-2.7zM601.1 153.5h4.1v1.4h-4.1zM598.4 152.2h1.4v1.4h-1.4zM592.9 150.8h1.4v1.4h-1.4zM628.2 150.8h1.4v1.4h-1.4zM625.5 149.4h2.7v1.4h-2.7zM629.6 149.4h1.4v1.4h-1.4zM591.6 148.1h1.4v1.4h-1.4zM613.3 148.1h2.7v1.4h-2.7zM617.4 148.1h1.4v1.4h-1.4zM592.9 145.4h1.4v1.4h-1.4zM614.6 145.4h1.4v1.4h-1.4zM613.3 144.0h2.7v1.4h-2.7zM633.6 144.0h1.4v1.4h-1.4zM594.3 142.6h1.4v1.4h-1.4zM613.3 142.6h2.7v1.4h-2.7zM633.6 142.6h1.4v1.4h-1.4zM594.3 141.3h1.4v1.4h-1.4zM611.9 141.3h1.4v1.4h-1.4zM614.6 141.3h1.4v1.4h-1.4zM628.2 141.3h1.4v1.4h-1.4zM576.6 139.9h1.4v1.4h-1.4zM594.3 139.9h1.4v1.4h-1.4zM614.6 139.9h1.4v1.4h-1.4zM630.9 139.9h1.4v1.4h-1.4zM576.6 138.6h1.4v1.4h-1.4zM598.4 138.6h1.4v1.4h-1.4zM607.9 138.6h1.4v1.4h-1.4zM609.2 137.2h2.7v1.4h-2.7zM598.4 108.7h1.4v1.4h-1.4zM592.9 106.0h1.4v1.4h-1.4zM579.4 104.6h1.4v1.4h-1.4zM582.1 104.6h1.4v1.4h-1.4zM595.6 103.2h4.1v1.4h-4.1z"/>
<path fill="#309018" d="M588.9 182.0h1.4v1.4h-1.4zM614.6 182.0h1.4v1.4h-1.4zM583.4 180.7h1.4v1.4h-1.4zM586.1 180.7h1.4v1.4h-1.4zM597.0 180.7h1.4v1.4h-1.4zM610.6 180.7h6.8v1.4h-6.8zM636.4 180.7h1.4v1.4h-1.4zM573.9 179.3h1.4v1.4h-1.4zM605.1 179.3h1.4v1.4h-1.4zM613.3 179.3h4.1v1.4h-4.1zM568.5 178.0h4.1v1.4h-4.1zM616.0 178.0h1.4v1.4h-1.4zM622.8 178.0h1.4v1.4h-1.4zM629.6 178.0h1.4v1.4h-1.4zM568.5 176.6h1.4v1.4h-1.4zM616.0 176.6h1.4v1.4h-1.4zM640.4 176.6h1.4v1.4h-1.4zM617.4 173.9h1.4v1.4h-1.4zM611.9 172.5h1.4v1.4h-1.4zM635.0 172.5h1.4v1.4h-1.4zM576.6 171.2h2.7v1.4h-2.7zM582.1 171.2h4.1v1.4h-4.1zM616.0 171.2h1.4v1.4h-1.4zM620.1 171.2h2.7v1.4h-2.7zM636.4 171.2h1.4v1.4h-1.4zM559.0 169.8h1.4v1.4h-1.4zM587.5 169.8h1.4v1.4h-1.4zM624.1 169.8h1.4v1.4h-1.4zM630.9 169.8h1.4v1.4h-1.4zM563.1 168.5h1.4v1.4h-1.4zM588.9 168.5h1.4v1.4h-1.4zM595.6 168.5h1.4v1.4h-1.4zM628.2 168.5h1.4v1.4h-1.4zM550.9 167.1h4.1v1.4h-4.1zM564.4 167.1h1.4v1.4h-1.4zM597.0 167.1h1.4v1.4h-1.4zM545.4 164.4h1.4v1.4h-1.4zM629.6 164.4h1.4v1.4h-1.4zM548.1 163.0h1.4v1.4h-1.4zM557.6 163.0h1.4v1.4h-1.4zM594.3 163.0h1.4v1.4h-1.4zM625.5 163.0h1.4v1.4h-1.4zM552.2 161.7h1.4v1.4h-1.4zM554.9 161.7h2.7v1.4h-2.7zM592.9 161.7h1.4v1.4h-1.4zM625.5 161.7h1.4v1.4h-1.4zM553.6 160.3h5.4v1.4h-5.4zM591.6 160.3h2.7v1.4h-2.7zM630.9 159.0h1.4v1.4h-1.4zM591.6 157.6h1.4v1.4h-1.4zM609.2 156.2h2.7v1.4h-2.7zM629.6 156.2h1.4v1.4h-1.4zM565.8 154.9h1.4v1.4h-1.4zM605.1 153.5h1.4v1.4h-1.4zM611.9 153.5h1.4v1.4h-1.4zM599.7 152.2h1.4v1.4h-1.4zM611.9 150.8h1.4v1.4h-1.4zM611.9 149.4h1.4v1.4h-1.4zM628.2 149.4h1.4v1.4h-1.4zM618.7 148.1h1.4v1.4h-1.4zM622.8 148.1h1.4v1.4h-1.4zM629.6 148.1h1.4v1.4h-1.4zM591.6 146.7h1.4v1.4h-1.4zM613.3 146.7h5.4v1.4h-5.4zM629.6 146.7h1.4v1.4h-1.4zM613.3 145.4h1.4v1.4h-1.4zM616.0 145.4h1.4v1.4h-1.4zM594.3 144.0h1.4v1.4h-1.4zM616.0 144.0h1.4v1.4h-1.4zM611.9 142.6h1.4v1.4h-1.4zM616.0 142.6h1.4v1.4h-1.4zM628.2 142.6h1.4v1.4h-1.4zM607.9 141.3h1.4v1.4h-1.4zM610.6 141.3h1.4v1.4h-1.4zM616.0 141.3h1.4v1.4h-1.4zM621.4 141.3h4.1v1.4h-4.1zM626.9 141.3h1.4v1.4h-1.4zM629.6 141.3h1.4v1.4h-1.4zM607.9 139.9h1.4v1.4h-1.4zM616.0 139.9h2.7v1.4h-2.7zM595.6 138.6h2.7v1.4h-2.7zM599.7 138.6h1.4v1.4h-1.4zM605.1 137.2h1.4v1.4h-1.4zM603.8 135.9h1.4v1.4h-1.4zM601.1 134.5h2.7v1.4h-2.7zM580.7 108.7h1.4v1.4h-1.4zM582.1 107.3h1.4v1.4h-1.4zM592.9 107.3h1.4v1.4h-1.4zM599.7 107.3h1.4v1.4h-1.4zM594.3 104.6h1.4v1.4h-1.4zM599.7 104.6h1.4v1.4h-1.4z"/>
<path fill="#2626ec" d="M578.0 182.0h4.1v1.4h-4.1zM582.1 180.7h1.4v1.4h-1.4zM587.5 180.7h1.4v1.4h-1.4zM592.9 180.7h4.1v1.4h-4.1zM598.4 180.7h5.4v1.4h-5.4zM575.3 179.3h1.4v1.4h-1.4zM584.8 179.3h2.7v1.4h-2.7zM603.8 179.3h1.4v1.4h-1.4zM606.5 179.3h6.8v1.4h-6.8zM617.4 179.3h4.1v1.4h-4.1zM625.5 179.3h2.7v1.4h-2.7zM636.4 179.3h2.7v1.4h-2.7zM572.6 178.0h1.4v1.4h-1.4zM611.9 178.0h1.4v1.4h-1.4zM617.4 178.0h2.7v1.4h-2.7zM624.1 178.0h1.4v1.4h-1.4zM628.2 178.0h1.4v1.4h-1.4zM633.6 178.0h1.4v1.4h-1.4zM637.7 178.0h2.7v1.4h-2.7zM569.9 176.6h2.7v1.4h-2.7zM611.9 176.6h1.4v1.4h-1.4zM617.4 176.6h2.7v1.4h-2.7zM622.8 176.6h1.4v1.4h-1.4zM569.9 175.3h2.7v1.4h-2.7zM611.9 175.3h1.4v1.4h-1.4zM617.4 175.3h2.7v1.4h-2.7zM640.4 175.3h1.4v1.4h-1.4zM571.2 173.9h4.1v1.4h-4.1zM582.1 173.9h1.4v1.4h-1.4zM611.9 173.9h1.4v1.4h-1.4zM618.7 173.9h2.7v1.4h-2.7zM640.4 173.9h1.4v1.4h-1.4zM573.9 172.5h12.2v1.4h-12.2zM610.6 172.5h1.4v1.4h-1.4zM617.4 172.5h5.4v1.4h-5.4zM633.6 172.5h1.4v1.4h-1.4zM579.4 171.2h2.7v1.4h-2.7zM586.1 171.2h1.4v1.4h-1.4zM602.4 171.2h4.1v1.4h-4.1zM609.2 171.2h2.7v1.4h-2.7zM617.4 171.2h2.7v1.4h-2.7zM622.8 171.2h2.7v1.4h-2.7zM632.3 171.2h1.4v1.4h-1.4zM637.7 171.2h1.4v1.4h-1.4zM640.4 171.2h1.4v1.4h-1.4zM588.9 169.8h1.4v1.4h-1.4zM592.9 169.8h4.1v1.4h-4.1zM601.1 169.8h1.4v1.4h-1.4zM614.6 169.8h5.4v1.4h-5.4zM628.2 169.8h2.7v1.4h-2.7zM557.6 168.5h1.4v1.4h-1.4zM561.7 168.5h1.4v1.4h-1.4zM590.2 168.5h2.7v1.4h-2.7zM597.0 168.5h4.1v1.4h-4.1zM614.6 168.5h1.4v1.4h-1.4zM618.7 168.5h1.4v1.4h-1.4zM625.5 168.5h2.7v1.4h-2.7zM556.3 167.1h1.4v1.4h-1.4zM563.1 167.1h1.4v1.4h-1.4zM614.6 167.1h2.7v1.4h-2.7zM618.7 167.1h1.4v1.4h-1.4zM548.1 165.7h2.7v1.4h-2.7zM552.2 165.7h2.7v1.4h-2.7zM556.3 165.7h1.4v1.4h-1.4zM563.1 165.7h1.4v1.4h-1.4zM616.0 165.7h4.1v1.4h-4.1zM548.1 164.4h1.4v1.4h-1.4zM552.2 164.4h1.4v1.4h-1.4zM557.6 164.4h2.7v1.4h-2.7zM626.9 164.4h2.7v1.4h-2.7zM552.2 163.0h1.4v1.4h-1.4zM592.9 163.0h1.4v1.4h-1.4zM626.9 163.0h1.4v1.4h-1.4zM550.9 161.7h1.4v1.4h-1.4zM557.6 161.7h1.4v1.4h-1.4zM630.9 161.7h1.4v1.4h-1.4zM626.9 160.3h1.4v1.4h-1.4zM591.6 159.0h4.1v1.4h-4.1zM628.2 159.0h2.7v1.4h-2.7zM592.9 157.6h2.7v1.4h-2.7zM592.9 156.2h1.4v1.4h-1.4zM595.6 156.2h1.4v1.4h-1.4zM563.1 154.9h2.7v1.4h-2.7zM592.9 154.9h4.1v1.4h-4.1zM607.9 154.9h4.1v1.4h-4.1zM563.1 153.5h1.4v1.4h-1.4zM565.8 153.5h1.4v1.4h-1.4zM606.5 153.5h2.7v1.4h-2.7zM563.1 152.2h4.1v1.4h-4.1zM601.1 152.2h4.1v1.4h-4.1zM611.9 152.2h1.4v1.4h-1.4zM594.3 150.8h6.8v1.4h-6.8zM592.9 149.4h6.8v1.4h-6.8zM592.9 148.1h2.7v1.4h-2.7zM610.6 148.1h2.7v1.4h-2.7zM620.1 148.1h2.7v1.4h-2.7zM624.1 148.1h5.4v1.4h-5.4zM592.9 146.7h2.7v1.4h-2.7zM610.6 146.7h2.7v1.4h-2.7zM618.7 146.7h10.9v1.4h-10.9zM594.3 145.4h2.7v1.4h-2.7zM610.6 145.4h2.7v1.4h-2.7zM617.4 145.4h2.7v1.4h-2.7zM622.8 145.4h2.7v1.4h-2.7zM628.2 145.4h5.4v1.4h-5.4zM595.6 144.0h1.4v1.4h-1.4zM602.4 144.0h1.4v1.4h-1.4zM609.2 144.0h4.1v1.4h-4.1zM617.4 144.0h2.7v1.4h-2.7zM622.8 144.0h2.7v1.4h-2.7zM628.2 144.0h2.7v1.4h-2.7zM595.6 142.6h2.7v1.4h-2.7zM602.4 142.6h1.4v1.4h-1.4zM606.5 142.6h5.4v1.4h-5.4zM617.4 142.6h1.4v1.4h-1.4zM621.4 142.6h6.8v1.4h-6.8zM629.6 142.6h4.1v1.4h-4.1zM595.6 141.3h2.7v1.4h-2.7zM601.1 141.3h2.7v1.4h-2.7zM605.1 141.3h2.7v1.4h-2.7zM609.2 141.3h1.4v1.4h-1.4zM617.4 141.3h4.1v1.4h-4.1zM625.5 141.3h1.4v1.4h-1.4zM630.9 141.3h2.7v1.4h-2.7zM595.6 139.9h8.1v1.4h-8.1zM605.1 139.9h2.7v1.4h-2.7zM601.1 138.6h1.4v1.4h-1.4zM605.1 138.6h2.7v1.4h-2.7zM603.8 137.2h1.4v1.4h-1.4zM579.4 108.7h1.4v1.4h-1.4zM594.3 108.7h4.1v1.4h-4.1zM578.0 107.3h1.4v1.4h-1.4zM578.0 106.0h1.4v1.4h-1.4zM582.1 106.0h1.4v1.4h-1.4zM599.7 106.0h1.4v1.4h-1.4zM580.7 104.6h1.4v1.4h-1.4zM598.4 104.6h1.4v1.4h-1.4z"/>
<path fill="#7a2ce0" d="M576.6 180.7h1.4v1.4h-1.4zM579.4 180.7h2.7v1.4h-2.7zM588.9 180.7h4.1v1.4h-4.1zM582.1 179.3h2.7v1.4h-2.7zM587.5 179.3h1.4v1.4h-1.4zM594.3 179.3h9.5v1.4h-9.5zM573.9 178.0h1.4v1.4h-1.4zM603.8 178.0h4.1v1.4h-4.1zM610.6 178.0h1.4v1.4h-1.4zM620.1 178.0h2.7v1.4h-2.7zM625.5 178.0h1.4v1.4h-1.4zM635.0 178.0h2.7v1.4h-2.7zM572.6 176.6h2.7v1.4h-2.7zM620.1 176.6h2.7v1.4h-2.7zM624.1 176.6h1.4v1.4h-1.4zM630.9 176.6h4.1v1.4h-4.1zM639.1 176.6h1.4v1.4h-1.4zM572.6 175.3h4.1v1.4h-4.1zM580.7 175.3h4.1v1.4h-4.1zM620.1 175.3h4.1v1.4h-4.1zM575.3 173.9h6.8v1.4h-6.8zM583.4 173.9h2.7v1.4h-2.7zM621.4 173.9h1.4v1.4h-1.4zM635.0 173.9h1.4v1.4h-1.4zM586.1 172.5h1.4v1.4h-1.4zM601.1 172.5h9.5v1.4h-9.5zM622.8 172.5h2.7v1.4h-2.7zM636.4 172.5h1.4v1.4h-1.4zM640.4 172.5h1.4v1.4h-1.4zM587.5 171.2h8.1v1.4h-8.1zM601.1 171.2h1.4v1.4h-1.4zM625.5 171.2h6.8v1.4h-6.8zM639.1 171.2h1.4v1.4h-1.4zM590.2 169.8h2.7v1.4h-2.7zM597.0 169.8h1.4v1.4h-1.4zM599.7 169.8h1.4v1.4h-1.4zM625.5 169.8h2.7v1.4h-2.7zM559.0 168.5h2.7v1.4h-2.7zM616.0 168.5h2.7v1.4h-2.7zM561.7 167.1h1.4v1.4h-1.4zM617.4 167.1h1.4v1.4h-1.4zM550.9 165.7h1.4v1.4h-1.4zM557.6 165.7h1.4v1.4h-1.4zM561.7 165.7h1.4v1.4h-1.4zM628.2 163.0h2.7v1.4h-2.7zM626.9 161.7h1.4v1.4h-1.4zM630.9 160.3h1.4v1.4h-1.4zM594.3 156.2h1.4v1.4h-1.4zM564.4 153.5h1.4v1.4h-1.4zM609.2 153.5h2.7v1.4h-2.7zM605.1 152.2h4.1v1.4h-4.1zM610.6 152.2h1.4v1.4h-1.4zM601.1 150.8h1.4v1.4h-1.4zM610.6 150.8h1.4v1.4h-1.4zM599.7 149.4h2.7v1.4h-2.7zM610.6 149.4h1.4v1.4h-1.4zM595.6 148.1h1.4v1.4h-1.4zM609.2 148.1h1.4v1.4h-1.4zM595.6 146.7h1.4v1.4h-1.4zM609.2 146.7h1.4v1.4h-1.4zM597.0 145.4h1.4v1.4h-1.4zM601.1 145.4h4.1v1.4h-4.1zM607.9 145.4h2.7v1.4h-2.7zM620.1 145.4h2.7v1.4h-2.7zM625.5 145.4h2.7v1.4h-2.7zM597.0 144.0h1.4v1.4h-1.4zM601.1 144.0h1.4v1.4h-1.4zM603.8 144.0h5.4v1.4h-5.4zM620.1 144.0h2.7v1.4h-2.7zM625.5 144.0h2.7v1.4h-2.7zM630.9 144.0h2.7v1.4h-2.7zM601.1 142.6h1.4v1.4h-1.4zM603.8 142.6h2.7v1.4h-2.7zM618.7 142.6h2.7v1.4h-2.7zM598.4 141.3h2.7v1.4h-2.7zM603.8 141.3h1.4v1.4h-1.4zM603.8 139.9h1.4v1.4h-1.4zM602.4 138.6h2.7v1.4h-2.7zM601.1 137.2h1.4v1.4h-1.4zM601.1 135.9h2.7v1.4h-2.7zM594.3 107.3h1.4v1.4h-1.4zM594.3 106.0h1.4v1.4h-1.4zM595.6 104.6h2.7v1.4h-2.7z"/>
<path fill="#78a8a8" d="M578.0 180.7h1.4v1.4h-1.4zM580.7 179.3h1.4v1.4h-1.4zM592.9 179.3h1.4v1.4h-1.4zM583.4 178.0h1.4v1.4h-1.4zM602.4 178.0h1.4v1.4h-1.4zM607.9 178.0h2.7v1.4h-2.7zM626.9 178.0h1.4v1.4h-1.4zM582.1 176.6h2.7v1.4h-2.7zM603.8 176.6h1.4v1.4h-1.4zM610.6 176.6h1.4v1.4h-1.4zM629.6 176.6h1.4v1.4h-1.4zM635.0 176.6h1.4v1.4h-1.4zM637.7 176.6h1.4v1.4h-1.4zM576.6 175.3h1.4v1.4h-1.4zM579.4 175.3h1.4v1.4h-1.4zM639.1 175.3h1.4v1.4h-1.4zM601.1 173.9h2.7v1.4h-2.7zM610.6 173.9h1.4v1.4h-1.4zM622.8 173.9h1.4v1.4h-1.4zM633.6 173.9h1.4v1.4h-1.4zM598.4 169.8h1.4v1.4h-1.4zM557.6 167.1h1.4v1.4h-1.4zM560.4 165.7h1.4v1.4h-1.4zM549.5 163.0h1.4v1.4h-1.4zM609.2 152.2h1.4v1.4h-1.4zM602.4 150.8h1.4v1.4h-1.4zM609.2 150.8h1.4v1.4h-1.4zM609.2 149.4h1.4v1.4h-1.4zM597.0 148.1h2.7v1.4h-2.7zM605.1 145.4h1.4v1.4h-1.4zM598.4 142.6h2.7v1.4h-2.7zM598.4 107.3h1.4v1.4h-1.4z"/>
<path fill="#d0d0b0" d="M588.9 179.3h1.4v1.4h-1.4zM575.3 178.0h1.4v1.4h-1.4zM582.1 178.0h1.4v1.4h-1.4zM584.8 178.0h4.1v1.4h-4.1zM592.9 178.0h1.4v1.4h-1.4zM605.1 176.6h1.4v1.4h-1.4zM636.4 176.6h1.4v1.4h-1.4zM578.0 175.3h1.4v1.4h-1.4zM584.8 175.3h1.4v1.4h-1.4zM602.4 175.3h1.4v1.4h-1.4zM639.1 173.9h1.4v1.4h-1.4zM591.6 172.5h2.7v1.4h-2.7zM625.5 172.5h1.4v1.4h-1.4zM632.3 172.5h1.4v1.4h-1.4zM637.7 172.5h1.4v1.4h-1.4zM595.6 171.2h1.4v1.4h-1.4zM599.7 171.2h1.4v1.4h-1.4zM549.5 164.4h1.4v1.4h-1.4zM550.9 163.0h1.4v1.4h-1.4zM607.9 150.8h1.4v1.4h-1.4zM599.7 148.1h1.4v1.4h-1.4zM597.0 146.7h1.4v1.4h-1.4zM606.5 145.4h1.4v1.4h-1.4zM602.4 137.2h1.4v1.4h-1.4zM580.7 107.3h1.4v1.4h-1.4zM579.4 106.0h2.7v1.4h-2.7zM598.4 106.0h1.4v1.4h-1.4z"/>
<path fill="#f040f0" d="M579.4 179.3h1.4v1.4h-1.4zM590.2 179.3h2.7v1.4h-2.7zM588.9 178.0h1.4v1.4h-1.4zM594.3 178.0h1.4v1.4h-1.4zM575.3 176.6h1.4v1.4h-1.4zM580.7 176.6h1.4v1.4h-1.4zM602.4 176.6h1.4v1.4h-1.4zM628.2 176.6h1.4v1.4h-1.4zM601.1 175.3h1.4v1.4h-1.4zM610.6 175.3h1.4v1.4h-1.4zM624.1 175.3h1.4v1.4h-1.4zM633.6 175.3h2.7v1.4h-2.7zM586.1 173.9h1.4v1.4h-1.4zM587.5 172.5h1.4v1.4h-1.4zM590.2 172.5h1.4v1.4h-1.4zM594.3 172.5h1.4v1.4h-1.4zM599.7 172.5h1.4v1.4h-1.4zM626.9 172.5h2.7v1.4h-2.7zM639.1 172.5h1.4v1.4h-1.4zM597.0 171.2h2.7v1.4h-2.7zM560.4 167.1h1.4v1.4h-1.4zM559.0 165.7h1.4v1.4h-1.4zM550.9 164.4h1.4v1.4h-1.4zM628.2 160.3h2.7v1.4h-2.7zM606.5 150.8h1.4v1.4h-1.4zM602.4 149.4h1.4v1.4h-1.4zM607.9 149.4h1.4v1.4h-1.4zM601.1 148.1h1.4v1.4h-1.4zM598.4 146.7h5.4v1.4h-5.4zM598.4 144.0h2.7v1.4h-2.7zM579.4 107.3h1.4v1.4h-1.4z"/>
<path fill="#58e0f0" d="M576.6 179.3h2.7v1.4h-2.7zM576.6 178.0h5.4v1.4h-5.4zM590.2 178.0h2.7v1.4h-2.7zM595.6 178.0h6.8v1.4h-6.8zM576.6 176.6h4.1v1.4h-4.1zM584.8 176.6h10.9v1.4h-10.9zM599.7 176.6h2.7v1.4h-2.7zM606.5 176.6h4.1v1.4h-4.1zM625.5 176.6h2.7v1.4h-2.7zM586.1 175.3h1.4v1.4h-1.4zM592.9 175.3h2.7v1.4h-2.7zM598.4 175.3h2.7v1.4h-2.7zM603.8 175.3h2.7v1.4h-2.7zM609.2 175.3h1.4v1.4h-1.4zM637.7 175.3h1.4v1.4h-1.4zM587.5 173.9h1.4v1.4h-1.4zM591.6 173.9h9.5v1.4h-9.5zM603.8 173.9h2.7v1.4h-2.7zM609.2 173.9h1.4v1.4h-1.4zM624.1 173.9h1.4v1.4h-1.4zM636.4 173.9h1.4v1.4h-1.4zM588.9 172.5h1.4v1.4h-1.4zM595.6 172.5h4.1v1.4h-4.1zM629.6 172.5h2.7v1.4h-2.7zM559.0 167.1h1.4v1.4h-1.4zM628.2 161.7h2.7v1.4h-2.7zM603.8 150.8h2.7v1.4h-2.7zM603.8 149.4h4.1v1.4h-4.1zM602.4 148.1h6.8v1.4h-6.8zM603.8 146.7h5.4v1.4h-5.4zM598.4 145.4h2.7v1.4h-2.7z"/>
<path fill="#a03838" d="M595.6 176.6h4.1v1.4h-4.1zM587.5 175.3h5.4v1.4h-5.4zM595.6 175.3h2.7v1.4h-2.7zM606.5 175.3h2.7v1.4h-2.7zM625.5 175.3h1.4v1.4h-1.4zM628.2 175.3h5.4v1.4h-5.4zM636.4 175.3h1.4v1.4h-1.4zM588.9 173.9h2.7v1.4h-2.7zM606.5 173.9h2.7v1.4h-2.7zM625.5 173.9h5.4v1.4h-5.4zM632.3 173.9h1.4v1.4h-1.4zM637.7 173.9h1.4v1.4h-1.4zM595.6 107.3h2.7v1.4h-2.7zM595.6 106.0h2.7v1.4h-2.7z"/>
<path fill="#2c8418" d="M626.9 175.3h1.4v1.4h-1.4zM630.9 173.9h1.4v1.4h-1.4z"/>
</g>
<path d="M442.80 304.33H445.90M470.80 328.20V332.30M442.80 277.15H445.90M497.94 328.20V332.30M442.80 249.98H445.90M525.08 328.20V332.30M442.80 222.81H445.90M552.22 328.20V332.30M442.80 195.64H445.90M579.36 328.20V332.30M442.80 168.46H445.90M606.50 328.20V332.30M442.80 141.29H445.90M633.64 328.20V332.30M442.80 114.12H445.90M660.78 328.20V332.30M442.80 86.94H445.90M687.92 328.20V332.30M442.80 59.77H445.90M715.06 328.20V332.30M442.80 32.60H445.90M742.20 328.20V332.30M442.80 5.42H445.90M769.34 328.20V332.30" stroke="#000" stroke-width="1.3" fill="none"/>
<g font-size="8.85" font-weight="bold" fill="#000">
<text x="438.20" y="307.43" text-anchor="end">10</text>
<text x="438.20" y="280.25" text-anchor="end">20</text>
<text x="438.20" y="253.08" text-anchor="end">30</text>
<text x="438.20" y="225.91" text-anchor="end">40</text>
<text x="438.20" y="198.74" text-anchor="end">50</text>
<text x="438.20" y="171.56" text-anchor="end">60</text>
<text x="438.20" y="144.39" text-anchor="end">70</text>
<text x="438.20" y="117.22" text-anchor="end">80</text>
<text x="438.20" y="90.04" text-anchor="end">90</text>
<text x="438.20" y="62.87" text-anchor="end">100</text>
<text x="438.20" y="35.70" text-anchor="end">110</text>
<text x="438.20" y="8.52" text-anchor="end">120</text>
<text x="470.80" y="345.00" text-anchor="middle">10</text>
<text x="497.94" y="345.00" text-anchor="middle">20</text>
<text x="525.08" y="345.00" text-anchor="middle">30</text>
<text x="552.22" y="345.00" text-anchor="middle">40</text>
<text x="579.36" y="345.00" text-anchor="middle">50</text>
<text x="606.50" y="345.00" text-anchor="middle">60</text>
<text x="633.64" y="345.00" text-anchor="middle">70</text>
<text x="660.78" y="345.00" text-anchor="middle">80</text>
<text x="687.92" y="345.00" text-anchor="middle">90</text>
<text x="715.06" y="345.00" text-anchor="middle">100</text>
<text x="742.20" y="345.00" text-anchor="middle">110</text>
<text x="769.34" y="345.00" text-anchor="middle">120</text>
</g>
<text x="607.60" y="365.90" font-size="11.0" font-weight="bold" text-anchor="middle" fill="#000">Peak amplitude [dB]</text>
<text transform="translate(412.60 167.00) rotate(-90)" font-size="10.9" font-weight="bold" text-anchor="middle" fill="#000">Peak frequency [kHz]</text>
<text x="454.40" y="30.30" font-size="26" font-weight="bold" fill="#fff">B</text>
<text x="758.40" y="315.70" font-size="32" font-weight="bold" fill="#fff" stroke="#fff" stroke-width="0.7" text-anchor="end">-<tspan dy="3.4">/</tspan><tspan dy="-3.4">-</tspan></text>
<rect x="458.50" y="170.70" width="58.6" height="145.7" fill="#fff"/>
<rect x="465.10" y="177.60" width="20.3" height="9.4" fill="#000000"/>
<text x="490.40" y="185.60" font-size="9" fill="#000">0.00</text>
<rect x="465.10" y="189.95" width="20.3" height="9.4" fill="#7c0000"/>
<text x="490.40" y="197.95" font-size="9" fill="#000">0.04</text>
<rect x="465.10" y="202.30" width="20.3" height="9.4" fill="#00ff00"/>
<text x="490.40" y="210.30" font-size="9" fill="#000">0.08</text>
<rect x="465.10" y="214.65" width="20.3" height="9.4" fill="#9c9c70"/>
<text x="490.40" y="222.65" font-size="9" fill="#000">0.12</text>
<rect x="465.10" y="227.00" width="20.3" height="9.4" fill="#ff00ff"/>
<text x="490.40" y="235.00" font-size="9" fill="#000">0.16</text>
<rect x="465.10" y="239.35" width="20.3" height="9.4" fill="#40e0e0"/>
<text x="490.40" y="247.35" font-size="9" fill="#000">0.20</text>
<rect x="465.10" y="251.70" width="20.3" height="9.4" fill="#9c2828"/>
<text x="490.40" y="259.70" font-size="9" fill="#000">0.24</text>
<rect x="465.10" y="264.05" width="20.3" height="9.4" fill="#2c8810"/>
<text x="490.40" y="272.05" font-size="9" fill="#000">0.28</text>
<rect x="465.10" y="276.40" width="20.3" height="9.4" fill="#1c1c6c"/>
<text x="490.40" y="284.40" font-size="9" fill="#000">0.32</text>
<rect x="465.10" y="288.75" width="20.3" height="9.4" fill="#6420a8"/>
<text x="490.40" y="296.75" font-size="9" fill="#000">0.36</text>
<rect x="465.10" y="301.10" width="20.3" height="9.4" fill="#608888"/>
<text x="490.40" y="309.10" font-size="9" fill="#000">0.40</text>
</g>
<g>
<path d="M169.18 606.00L173.09 605.34L175.70 604.69L180.14 601.19L184.57 591.57L188.75 579.10L191.36 572.10L194.23 564.01L199.45 549.79L202.58 528.58L204.93 511.96L206.50 499.93L208.06 455.10L209.81 402.61L211.46 431.04L213.28 456.85L215.37 446.35L217.72 430.17L219.81 441.98L222.42 466.03L225.03 499.93L226.07 530.33L227.38 559.42L229.47 569.26L231.29 581.07L232.86 593.32L234.95 596.16L237.82 599.00L240.43 599.22L242.78 592.88L245.39 593.97L248.78 590.69L250.87 590.69L253.74 596.16L256.35 597.25L259.22 595.94L261.83 595.28L264.70 594.41L267.31 597.69L269.66 595.07L272.27 583.26L275.40 573.41L278.27 569.26L280.36 568.60L283.23 570.35L284.80 578.88L285.84 584.79L289.76 587.41L293.15 590.69L296.02 595.94L298.63 591.57L301.50 589.16L303.33 588.72L306.20 584.57L308.55 591.78L311.16 590.69L313.25 594.41L314.81 593.75L316.90 586.54L319.77 597.03L321.86 602.61L324.99 601.41L327.60 601.84L329.95 604.03L332.56 604.69L334.91 603.16L337.78 604.69L341.44 605.34L345.35 606.00L345.35 606.00L169.18 606.00Z" fill="#000"/>
<path d="M165.26 606.00L170.48 605.13L173.09 604.69L175.70 603.81L179.09 597.69L180.92 586.32L182.75 571.01L186.14 530.33L188.91 501.02L191.10 478.06L193.97 476.31L196.84 475.44L199.19 485.71L200.50 495.12L202.58 528.58L205.98 549.79L210.15 512.62L213.02 549.14L216.42 527.27L220.20 504.74L223.46 526.83L226.07 530.33L228.42 534.92L231.29 537.55L231.81 555.70L233.12 562.26L234.95 568.16L237.82 576.69L240.43 575.60L243.30 585.22L245.91 590.69L248.78 585.22L250.87 583.69L252.96 587.41L254.78 583.26L257.92 576.69L261.31 563.79L262.87 571.23L265.22 583.26L267.31 591.78L268.88 595.07L272.27 590.69L275.40 588.07L277.75 586.32L280.36 582.60L282.71 587.41L284.80 583.69L288.19 582.60L290.80 584.35L293.67 584.79L295.76 587.41L297.33 592.22L300.46 595.94L303.33 600.10L306.46 602.06L310.64 604.69L314.03 605.56L321.86 605.56L329.69 605.34L338.30 604.69L343.26 605.13L350.57 606.00L350.57 606.00L165.26 606.00Z" fill="#c6c6c6"/>
<path d="M169.18 606.00L173.09 605.34L175.70 604.69L180.14 601.19L184.57 591.57L188.75 579.10L191.36 572.10L194.23 564.01L199.45 549.79L202.58 528.58L204.93 511.96L206.50 499.93L208.06 455.10L209.81 402.61L211.46 431.04L213.28 456.85L215.37 446.35L217.72 430.17L219.81 441.98L222.42 466.03L225.03 499.93L226.07 530.33L227.38 559.42L229.47 569.26L231.29 581.07L232.86 593.32L234.95 596.16L237.82 599.00L240.43 599.22L242.78 592.88L245.39 593.97L248.78 590.69L250.87 590.69L253.74 596.16L256.35 597.25L259.22 595.94L261.83 595.28L264.70 594.41L267.31 597.69L269.66 595.07L272.27 583.26L275.40 573.41L278.27 569.26L280.36 568.60L283.23 570.35L284.80 578.88L285.84 584.79L289.76 587.41L293.15 590.69L296.02 595.94L298.63 591.57L301.50 589.16L303.33 588.72L306.20 584.57L308.55 591.78L311.16 590.69L313.25 594.41L314.81 593.75L316.90 586.54L319.77 597.03L321.86 602.61L324.99 601.41L327.60 601.84L329.95 604.03L332.56 604.69L334.91 603.16L337.78 604.69L341.44 605.34L345.35 606.00" fill="none" stroke="#000" stroke-width="1.1" stroke-linejoin="round"/>
<path d="M44.85 606.40H359.51" stroke="#5a5a5a" stroke-width="1.3" fill="none"/>
<path d="M45.35 386.70V607.00M41.55 606.40H45.35M41.55 562.58H45.35M41.55 518.76H45.35M41.55 474.94H45.35M41.55 431.12H45.35M41.55 387.30H45.35M45.35 606.40V610.20M71.48 606.40V610.20M97.61 606.40V610.20M123.74 606.40V610.20M149.87 606.40V610.20M176.00 606.40V610.20M202.13 606.40V610.20M228.26 606.40V610.20M254.39 606.40V610.20M280.52 606.40V610.20M306.65 606.40V610.20M332.78 606.40V610.20M358.91 606.40V610.20" stroke="#111" stroke-width="1.35" fill="none"/>
<g font-size="10.6" font-weight="bold" fill="#000">
<text x="37.05" y="610.00" text-anchor="end">0</text>
<text x="37.05" y="566.18" text-anchor="end">2</text>
<text x="37.05" y="522.36" text-anchor="end">4</text>
<text x="37.05" y="478.54" text-anchor="end">6</text>
<text x="37.05" y="434.72" text-anchor="end">8</text>
<text x="37.05" y="390.90" text-anchor="end">10</text>
<text x="45.35" y="624.30" text-anchor="middle">0</text>
<text x="71.48" y="624.30" text-anchor="middle">10</text>
<text x="97.61" y="624.30" text-anchor="middle">20</text>
<text x="123.74" y="624.30" text-anchor="middle">30</text>
<text x="149.87" y="624.30" text-anchor="middle">40</text>
<text x="176.00" y="624.30" text-anchor="middle">50</text>
<text x="202.13" y="624.30" text-anchor="middle">60</text>
<text x="228.26" y="624.30" text-anchor="middle">70</text>
<text x="254.39" y="624.30" text-anchor="middle">80</text>
<text x="280.52" y="624.30" text-anchor="middle">90</text>
<text x="306.65" y="624.30" text-anchor="middle">100</text>
<text x="332.78" y="624.30" text-anchor="middle">110</text>
<text x="358.91" y="624.30" text-anchor="middle">120</text>
</g>
<text x="202.13" y="646.00" font-size="12.05" font-weight="bold" text-anchor="middle" fill="#000">Peak frequency [kHz]</text>
<text transform="translate(10.90 496.50) rotate(-90)" font-size="11.9" font-weight="bold" text-anchor="middle" fill="#000">Frequency [%]</text>
<text x="55.00" y="404.50" font-size="26.3" font-weight="bold" fill="#000">C</text>
<rect x="267.90" y="406.20" width="35.8" height="6.9" fill="#000"/>
<rect x="267.90" y="421.50" width="35.8" height="6.9" fill="#c4c4c4"/>
<text transform="translate(323.80 414.70) scale(1.12 1)" font-size="14" font-weight="bold" text-anchor="middle" fill="#000" stroke="#000" stroke-width="0.3">+/+</text>
<text transform="translate(324.40 430.00) scale(1.16 1)" font-size="14" font-weight="bold" text-anchor="middle" fill="#000" stroke="#000" stroke-width="0.3">-/-</text>
</g>
<g>
<path d="M526.69 605.60L530.34 604.51L533.20 605.16L536.07 599.92L537.89 605.60L541.02 599.92L542.98 605.60L544.41 604.94L546.49 592.05L549.10 593.58L552.49 590.08L555.36 588.99L559.26 590.95L561.35 585.93L563.95 575.00L566.82 573.03L569.43 587.02L572.03 555.10L574.90 576.09L578.03 564.94L580.37 568.00L582.72 562.97L585.32 573.90L587.93 548.11L590.28 550.95L593.40 561.01L596.01 557.95L598.35 548.11L601.48 540.02L604.35 537.62L606.69 536.52L609.04 547.89L610.60 531.06L612.95 529.53L616.07 530.18L618.42 534.12L621.55 540.24L623.63 542.42L626.76 533.24L629.10 548.76L630.93 552.48L633.01 551.39L636.92 553.35L639.79 557.07L642.92 561.01L645.00 554.01L648.39 561.01L651.52 564.94L653.34 572.59L655.95 572.59L659.07 577.18L662.98 577.18L665.33 580.90L668.46 589.42L671.58 587.89L674.45 590.95L676.27 591.72L678.75 598.82L681.75 594.89L684.61 597.07L686.96 596.42L689.56 595.98L692.17 600.57L696.08 601.45L699.21 601.99L702.33 603.63L705.46 603.41L708.85 603.85L712.50 602.98L715.88 604.29L719.01 605.60L719.01 605.60L526.69 605.60Z" fill="#000"/>
<path d="M528.25 605.60L530.34 603.63L532.42 605.60L534.25 605.60L536.07 597.07L537.89 605.60L539.20 602.32L541.02 583.96L542.98 599.92L544.41 602.10L545.97 569.09L549.36 571.06L551.45 576.96L553.79 566.91L556.40 576.96L560.31 578.93L562.39 566.03L564.48 534.99L567.34 552.04L569.43 564.07L572.03 514.01L574.90 534.99L577.51 518.16L580.11 528.00L582.72 514.01L585.32 526.90L587.93 489.09L590.80 503.08L593.40 528.00L596.01 518.16L598.35 519.91L600.96 510.95L602.26 522.53L603.83 535.65L606.43 535.65L609.04 540.02L610.60 540.89L612.43 544.39L614.51 550.95L616.86 547.23L619.20 557.95L622.33 569.53L624.41 568.00L626.76 572.59L628.32 577.84L631.45 582.43L634.58 588.77L636.92 585.71L639.01 583.74L640.57 586.36L642.92 584.07L645.26 587.24L647.61 585.71L650.73 589.42L654.64 592.48L658.29 597.95L660.64 594.01L663.76 596.42L666.89 598.60L670.02 601.67L672.89 601.01L676.01 600.13L679.14 602.98L682.27 604.29L686.96 603.41L690.61 604.73L693.47 602.98L697.38 604.51L705.20 604.94L718.23 605.60L718.23 605.60L528.25 605.60Z" fill="#c6c6c6"/>
<path d="M526.69 605.60L530.34 604.51L533.20 605.16L536.07 599.92L537.89 605.60L541.02 599.92L542.98 605.60L544.41 604.94L546.49 592.05L549.10 593.58L552.49 590.08L555.36 588.99L559.26 590.95L561.35 585.93L563.95 575.00L566.82 573.03L569.43 587.02L572.03 555.10L574.90 576.09L578.03 564.94L580.37 568.00L582.72 562.97L585.32 573.90L587.93 548.11L590.28 550.95L593.40 561.01L596.01 557.95L598.35 548.11L601.48 540.02L604.35 537.62L606.69 536.52L609.04 547.89L610.60 531.06L612.95 529.53L616.07 530.18L618.42 534.12L621.55 540.24L623.63 542.42L626.76 533.24L629.10 548.76L630.93 552.48L633.01 551.39L636.92 553.35L639.79 557.07L642.92 561.01L645.00 554.01L648.39 561.01L651.52 564.94L653.34 572.59L655.95 572.59L659.07 577.18L662.98 577.18L665.33 580.90L668.46 589.42L671.58 587.89L674.45 590.95L676.27 591.72L678.75 598.82L681.75 594.89L684.61 597.07L686.96 596.42L689.56 595.98L692.17 600.57L696.08 601.45L699.21 601.99L702.33 603.63L705.46 603.41L708.85 603.85L712.50 602.98L715.88 604.29L719.01 605.60" fill="none" stroke="#000" stroke-width="1.1" stroke-linejoin="round"/>
<path d="M443.80 606.00H757.86" stroke="#5a5a5a" stroke-width="1.3" fill="none"/>
<path d="M444.30 386.30V606.60M440.50 606.00H444.30M440.50 562.18H444.30M440.50 518.36H444.30M440.50 474.54H444.30M440.50 430.72H444.30M440.50 386.90H444.30M444.30 606.00V609.80M470.38 606.00V609.80M496.46 606.00V609.80M522.54 606.00V609.80M548.62 606.00V609.80M574.70 606.00V609.80M600.78 606.00V609.80M626.86 606.00V609.80M652.94 606.00V609.80M679.02 606.00V609.80M705.10 606.00V609.80M731.18 606.00V609.80M757.26 606.00V609.80" stroke="#111" stroke-width="1.35" fill="none"/>
<g font-size="10.6" font-weight="bold" fill="#000">
<text x="436.00" y="609.60" text-anchor="end">0</text>
<text x="436.00" y="565.78" text-anchor="end">2</text>
<text x="436.00" y="521.96" text-anchor="end">4</text>
<text x="436.00" y="478.14" text-anchor="end">6</text>
<text x="436.00" y="434.32" text-anchor="end">8</text>
<text x="436.00" y="390.50" text-anchor="end">10</text>
<text x="444.30" y="623.90" text-anchor="middle">0</text>
<text x="470.38" y="623.90" text-anchor="middle">10</text>
<text x="496.46" y="623.90" text-anchor="middle">20</text>
<text x="522.54" y="623.90" text-anchor="middle">30</text>
<text x="548.62" y="623.90" text-anchor="middle">40</text>
<text x="574.70" y="623.90" text-anchor="middle">50</text>
<text x="600.78" y="623.90" text-anchor="middle">60</text>
<text x="626.86" y="623.90" text-anchor="middle">70</text>
<text x="652.94" y="623.90" text-anchor="middle">80</text>
<text x="679.02" y="623.90" text-anchor="middle">90</text>
<text x="705.10" y="623.90" text-anchor="middle">100</text>
<text x="731.18" y="623.90" text-anchor="middle">110</text>
<text x="757.26" y="623.90" text-anchor="middle">120</text>
</g>
<text x="600.78" y="645.60" font-size="12.05" font-weight="bold" text-anchor="middle" fill="#000">Peak amplitude [dB]</text>
<text transform="translate(411.90 496.50) rotate(-90)" font-size="11.9" font-weight="bold" text-anchor="middle" fill="#000">Frequency [%]</text>
<text x="451.40" y="404.50" font-size="26.3" font-weight="bold" fill="#000">D</text>
<rect x="666.60" y="405.93" width="35.8" height="6.9" fill="#000"/>
<rect x="666.60" y="421.10" width="35.8" height="6.9" fill="#c4c4c4"/>
<text transform="translate(722.60 413.90) scale(1.12 1)" font-size="14" font-weight="bold" text-anchor="middle" fill="#000" stroke="#000" stroke-width="0.3">+/+</text>
<text transform="translate(723.20 429.20) scale(1.16 1)" font-size="14" font-weight="bold" text-anchor="middle" fill="#000" stroke="#000" stroke-width="0.3">-/-</text>
</g>
</svg></body></html>
